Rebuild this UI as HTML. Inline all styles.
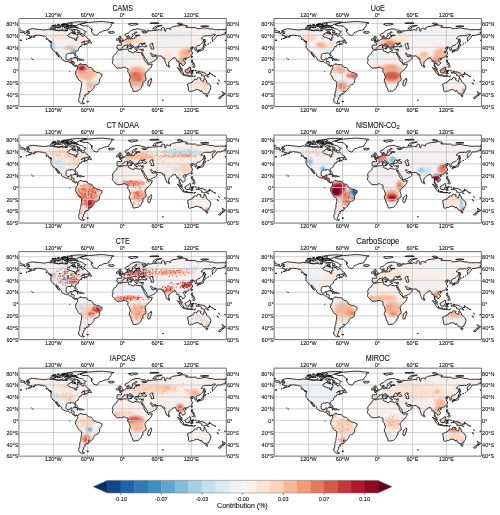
<!DOCTYPE html><html><head><meta charset="utf-8"><style>html,body{margin:0;padding:0;background:#fff;}svg{display:block;will-change:transform;}text{font-family:"Liberation Sans",sans-serif;fill:#111;stroke:#111;stroke-width:0.1px;}</style></head><body>
<svg width="500" height="515" viewBox="0 0 500 515">
<defs>
<path id="land" d="M6.9 13.6L7.9 13.3L9.3 13.0L10.4 13.2L10.0 12.8L8.9 12.4L7.6 12.0L8.8 11.7L9.7 11.1L11.5 10.7L13.5 10.2L16.1 10.5L18.1 10.8L20.6 11.0L22.4 11.2L24.1 11.5L25.8 11.4L26.9 11.2L28.7 11.0L29.8 10.7L31.0 11.3L32.1 11.1L33.8 11.2L36.1 11.7L37.8 12.0L39.5 12.3L41.2 12.1L42.3 11.8L45.2 12.3L46.9 12.1L48.0 12.5L48.3 11.7L49.1 11.3L48.2 10.3L49.4 9.9L50.3 10.7L51.1 11.3L52.5 12.1L53.4 12.6L54.2 11.5L54.8 11.1L55.9 11.2L56.3 12.1L55.9 12.8L54.5 13.0L53.4 13.3L52.9 14.1L51.4 14.6L50.9 15.0L49.4 15.9L48.7 16.8L49.0 17.6L50.0 18.6L51.4 18.7L52.8 19.4L54.2 19.8L55.8 19.8L55.8 21.0L56.6 22.0L57.5 21.9L57.7 20.6L57.4 20.0L58.7 19.3L59.0 18.4L58.5 17.5L58.4 16.8L58.2 15.7L59.3 15.6L60.9 15.7L62.1 16.3L62.8 16.6L63.0 17.6L64.0 17.9L64.8 17.6L65.7 16.8L66.4 17.6L67.1 18.4L67.7 19.1L68.3 19.7L69.3 20.3L70.0 20.7L70.8 21.4L70.3 22.0L69.3 22.2L68.2 22.7L66.4 22.7L64.7 22.9L63.6 23.4L62.4 24.5L63.1 24.2L64.4 23.4L65.9 23.5L65.6 24.0L65.8 24.7L66.4 25.1L67.6 25.4L68.3 25.3L67.7 25.6L66.4 26.0L65.2 26.6L64.9 26.2L65.9 25.6L64.4 25.9L63.6 26.2L62.6 26.6L62.3 27.2L62.7 27.7L61.9 27.9L60.6 28.3L60.5 28.5L60.4 29.1L59.9 29.5L59.6 30.1L59.2 30.5L59.6 31.4L59.6 31.6L59.1 31.9L58.3 32.3L57.5 32.8L56.6 33.4L56.3 34.1L56.3 34.8L56.7 35.6L57.0 36.7L56.9 37.5L56.4 37.5L56.0 36.9L55.6 36.2L55.5 35.5L55.0 34.8L54.2 34.9L53.4 34.5L52.5 34.4L51.7 34.6L51.9 35.2L51.1 35.2L50.3 34.9L49.2 34.9L48.6 35.2L47.5 35.8L47.3 36.3L47.3 37.1L47.0 38.2L47.0 39.3L47.3 40.3L47.8 41.0L48.6 41.4L49.0 41.7L50.0 41.4L50.7 41.4L51.1 40.7L51.2 40.0L52.5 39.7L53.2 39.8L52.9 40.6L52.8 41.4L52.4 41.9L52.2 42.9L52.8 43.1L54.0 43.0L54.8 43.2L55.3 43.6L55.1 44.8L55.0 45.6L55.3 46.4L55.8 46.9L56.4 47.2L57.1 46.9L57.9 46.9L58.5 47.4L58.9 47.7L59.3 46.9L59.6 46.3L60.0 45.9L60.9 45.8L61.7 45.2L62.1 45.3L61.8 45.9L62.1 46.0L62.6 45.6L63.0 45.6L63.6 46.1L64.9 46.2L66.0 46.2L67.3 46.1L67.7 46.5L68.0 47.4L68.7 47.8L69.3 48.4L70.1 48.9L71.3 49.0L72.5 49.2L73.2 50.0L73.6 50.4L74.1 51.4L74.3 52.3L75.0 52.9L75.5 52.8L76.5 53.1L77.4 53.8L78.1 53.9L79.2 54.2L80.1 54.2L80.9 54.6L81.8 55.4L82.8 55.5L83.0 56.9L82.8 57.8L82.1 58.7L81.4 59.6L80.7 60.3L80.6 61.6L80.5 62.9L80.1 64.1L79.5 65.2L78.9 66.0L78.0 66.1L77.3 66.3L76.3 66.7L75.4 67.3L75.0 68.0L75.0 69.1L74.4 69.8L73.8 70.8L73.0 71.5L72.2 72.5L71.8 72.9L70.9 73.1L70.3 72.9L69.7 72.8L69.3 72.5L69.3 73.0L70.0 73.4L70.3 74.0L69.8 75.0L68.9 75.4L67.7 75.5L67.1 75.4L67.2 76.2L66.9 76.6L65.5 76.7L66.0 77.5L66.3 77.7L65.9 77.9L65.5 78.6L65.2 79.1L64.3 79.5L64.1 79.9L65.1 80.7L64.1 81.5L63.8 82.1L63.2 82.6L63.6 83.4L63.0 83.6L63.6 83.8L64.2 84.4L65.5 84.8L64.7 85.1L63.8 85.4L62.7 85.1L61.7 84.6L60.8 83.9L60.1 83.4L59.8 82.4L59.6 81.3L60.0 80.4L59.6 80.0L60.1 79.6L60.5 78.8L60.8 78.1L60.6 77.4L60.8 76.4L60.7 75.5L60.9 74.5L61.3 73.5L61.7 72.5L61.9 71.6L61.8 70.5L62.0 69.5L62.2 68.8L62.4 67.7L62.5 66.4L62.7 65.1L62.6 63.9L62.5 63.3L61.9 62.8L60.8 62.2L59.8 61.5L59.3 61.1L59.1 60.4L58.7 59.6L58.1 58.6L57.6 57.4L57.1 56.5L56.4 56.0L56.5 55.4L56.3 55.0L56.9 54.5L57.2 54.0L56.6 53.8L56.7 53.0L57.0 52.2L57.1 51.9L57.7 51.6L58.0 51.0L58.5 50.1L58.6 49.0L58.5 48.4L58.1 47.8L57.9 47.5L57.4 47.2L56.8 47.5L56.8 48.1L56.2 47.9L55.8 47.6L55.1 47.5L55.0 47.1L54.3 46.6L53.8 46.6L53.8 45.9L53.2 45.2L52.8 44.7L52.2 44.6L51.5 44.5L50.7 44.2L50.2 43.8L49.5 43.2L48.7 42.9L47.7 43.2L46.9 42.9L45.9 42.6L44.8 42.0L43.8 41.6L43.0 41.0L42.5 40.4L42.7 39.7L42.5 39.0L41.8 38.4L41.2 37.7L40.4 37.2L40.5 36.7L39.7 35.9L39.0 35.4L38.5 34.6L38.3 34.0L37.3 33.6L37.4 34.6L38.0 35.1L38.5 35.8L38.9 36.5L39.2 37.1L39.7 37.8L40.0 38.1L40.4 38.7L40.1 38.9L39.6 38.2L38.8 37.7L38.8 37.1L38.1 36.6L37.5 36.0L37.7 35.5L36.9 34.9L36.3 33.9L35.9 32.9L35.2 32.3L34.1 32.0L33.3 30.8L33.0 30.1L32.3 29.4L31.9 28.5L32.0 27.6L31.8 27.0L32.2 25.2L32.0 24.3L31.7 23.8L32.7 23.6L32.8 23.4L32.4 23.1L31.6 22.8L30.4 22.4L29.9 21.7L29.2 21.2L28.6 20.3L28.2 19.7L27.4 19.0L26.7 18.2L25.7 17.5L24.9 17.9L23.2 17.1L22.1 17.0L20.7 16.9L19.4 16.5L18.2 16.8L17.2 17.2L16.2 17.4L16.5 16.5L15.7 16.9L15.0 17.4L14.8 18.0L13.6 18.6L12.6 19.1L11.4 19.5L10.0 19.9L8.7 20.2L9.6 19.8L10.6 19.4L11.7 18.8L12.5 18.1L13.1 17.6L12.1 17.8L10.4 17.8L10.3 17.0L8.9 16.7L8.4 16.2L8.0 15.9L8.5 15.3L8.8 15.0L10.3 14.9L11.0 14.4L10.6 14.3L9.5 14.2L8.6 14.3L7.8 14.1L7.6 13.9L6.9 13.6ZM61.0 6.2L63.0 6.7L63.9 7.4L66.7 7.3L69.3 7.7L70.1 8.3L70.7 9.1L71.2 9.8L72.2 10.3L73.3 10.7L72.0 11.4L73.6 11.9L72.2 12.6L72.7 13.5L73.5 14.4L74.1 15.4L75.0 16.2L76.2 16.5L77.4 16.9L78.3 16.9L78.9 16.0L79.5 15.0L79.9 14.3L80.9 13.6L82.4 13.5L83.8 12.6L85.0 12.1L87.3 11.8L89.0 11.4L90.2 10.7L89.6 10.3L90.4 9.6L90.6 8.9L91.7 8.3L91.9 7.6L92.5 6.9L92.0 6.1L92.2 5.4L93.6 4.9L94.9 4.4L91.7 3.9L88.2 3.6L84.7 3.1L80.0 3.1L76.5 3.4L73.1 3.7L69.6 3.9L67.3 4.1L65.9 4.5L64.4 4.9L62.2 5.5L61.0 6.2ZM100.2 31.1L99.6 30.8L99.0 30.4L98.1 30.5L98.2 29.7L97.8 29.5L98.1 28.7L98.2 27.6L97.9 27.0L98.6 26.6L99.9 26.6L101.2 26.7L102.3 26.8L102.6 25.9L102.6 25.1L102.0 24.6L100.7 24.1L100.6 23.8L101.6 23.6L102.4 23.6L102.3 23.0L102.7 23.2L103.4 23.0L104.2 22.7L104.4 22.3L105.2 22.0L105.6 21.7L106.0 21.1L106.5 20.9L107.4 20.7L108.2 20.7L108.5 20.5L108.3 20.0L108.0 19.6L108.1 18.9L108.3 18.6L109.2 18.4L109.5 18.3L109.3 18.8L109.4 19.2L109.2 19.5L108.9 19.7L109.0 20.0L109.3 20.2L109.8 20.5L110.6 20.2L111.4 20.4L111.6 20.5L112.7 20.3L113.8 20.0L114.2 20.2L114.9 20.2L115.7 19.8L115.6 18.8L116.1 18.5L116.5 18.4L117.0 18.7L117.5 18.5L117.2 17.9L117.0 17.5L117.8 17.2L118.8 17.2L119.7 17.2L121.0 17.0L120.0 16.6L118.8 16.7L116.8 17.0L115.8 16.5L115.9 15.9L115.7 15.3L116.5 14.7L117.6 14.1L118.2 13.9L117.6 13.5L116.3 13.6L115.8 14.3L115.3 14.7L114.2 15.2L113.5 15.6L113.4 16.2L113.5 16.6L114.2 16.9L114.3 17.3L113.1 17.8L113.0 18.4L112.7 19.2L111.8 19.3L111.6 19.7L110.8 19.7L110.7 19.2L110.3 18.5L110.1 17.9L109.8 17.5L109.4 17.0L109.3 17.5L108.2 18.1L107.4 18.1L106.6 17.6L106.2 16.9L106.2 16.0L106.7 15.5L108.0 15.0L109.2 14.6L110.0 14.0L110.6 13.2L111.5 12.4L112.4 12.0L113.0 11.6L113.8 11.2L115.0 11.0L116.0 10.8L117.0 10.5L118.4 10.4L120.0 10.4L121.4 10.8L122.6 11.4L124.4 11.5L126.1 12.0L127.4 12.7L127.3 13.1L125.5 13.3L123.8 13.2L122.9 13.0L123.7 14.2L124.9 14.6L127.0 14.2L128.7 13.3L129.2 12.0L128.6 11.8L130.2 12.4L132.6 12.2L134.6 11.8L135.5 12.0L136.9 11.9L138.4 11.7L139.0 11.1L140.7 11.4L142.4 11.7L143.2 11.0L142.2 10.3L142.9 9.5L143.8 9.1L144.9 9.2L145.6 9.7L145.5 10.7L145.5 11.6L146.0 12.8L146.9 12.5L146.8 11.0L147.4 10.1L148.0 9.6L149.1 10.2L150.0 10.1L150.8 10.7L151.7 11.0L151.1 10.1L151.4 9.5L153.1 8.6L153.7 8.2L157.6 7.5L161.0 7.2L163.3 6.5L165.0 6.7L167.8 7.2L168.6 7.6L168.3 7.8L166.7 8.6L168.3 8.9L171.2 8.9L174.1 9.1L176.4 8.9L177.6 9.5L178.1 10.4L179.3 10.1L181.6 10.1L184.0 9.5L185.1 9.4L187.5 9.6L189.8 10.1L191.0 10.5L193.3 10.4L195.6 11.2L197.4 11.2L199.7 11.2L201.5 11.0L202.6 11.1L205.0 11.1L207.3 11.6L207.3 14.0L205.8 14.1L206.5 15.0L206.8 15.6L205.0 15.7L203.5 16.0L201.5 16.9L199.1 16.8L198.0 17.0L197.5 17.5L197.4 18.4L196.8 19.1L195.9 20.2L195.1 21.1L194.5 21.7L193.7 22.3L193.4 21.4L193.1 19.9L193.8 18.4L194.8 17.9L195.8 16.6L196.5 16.1L195.6 15.9L194.2 15.9L192.3 17.3L190.4 17.2L188.6 17.3L186.9 17.3L185.7 17.3L184.6 17.8L183.1 18.9L182.2 20.2L183.4 20.4L184.6 20.9L184.7 21.5L184.3 22.6L184.2 23.6L183.1 24.6L181.9 25.8L181.1 26.6L179.9 27.1L179.2 27.0L178.4 27.3L178.0 28.2L177.0 28.9L176.7 29.1L177.3 29.7L177.8 30.5L177.8 31.4L177.3 31.7L176.1 32.1L176.0 31.4L176.2 30.5L175.8 30.1L175.2 30.1L175.0 29.7L175.4 29.1L174.8 28.8L173.6 28.5L173.0 29.5L173.4 28.8L173.2 28.2L172.3 28.7L171.7 29.2L171.1 29.5L171.6 30.3L172.0 30.5L172.7 30.1L173.8 30.3L173.2 30.7L172.5 31.1L171.9 31.7L172.5 32.1L172.8 33.1L173.4 33.7L173.4 34.2L172.9 34.5L173.5 34.8L173.2 35.7L172.6 36.3L172.1 37.1L171.7 37.6L171.2 37.9L170.3 38.8L169.4 39.1L168.6 39.3L167.8 39.5L166.9 39.9L166.8 40.4L166.5 39.7L165.8 39.7L165.2 39.8L164.7 40.4L164.2 41.2L164.7 42.0L165.2 42.7L166.0 43.4L166.3 44.5L166.2 45.5L165.5 46.1L165.0 46.3L164.7 46.8L163.8 47.4L163.7 46.8L163.5 46.3L162.7 45.9L162.5 45.2L161.5 44.9L161.5 44.5L161.0 44.5L160.9 45.2L160.5 46.3L160.9 46.9L161.2 48.2L161.7 48.4L162.2 48.8L162.9 49.8L162.9 50.7L163.4 51.6L163.0 51.7L161.7 50.7L161.2 49.6L161.2 48.7L160.8 48.4L160.0 47.8L160.2 46.6L160.3 45.6L160.0 44.4L159.7 42.7L159.4 42.4L158.7 42.6L158.3 43.1L157.8 43.0L157.9 42.1L157.7 41.2L157.2 40.5L156.6 40.1L156.5 39.5L156.2 39.1L155.6 39.4L154.8 39.6L154.3 39.6L153.7 39.9L153.5 40.5L152.6 41.0L152.0 41.6L151.0 42.6L150.4 43.1L149.8 43.4L149.9 44.5L149.6 45.8L149.6 46.4L149.2 47.0L148.6 47.5L148.3 47.7L147.8 47.2L147.3 45.8L146.8 44.9L146.4 43.7L146.0 42.7L145.6 41.1L145.6 40.0L145.5 39.5L144.3 40.1L143.5 39.2L144.2 38.9L143.1 38.5L142.6 38.2L142.2 37.4L140.9 37.5L139.3 37.6L137.8 37.4L136.8 37.2L136.5 36.4L135.8 36.5L134.9 36.7L133.7 36.0L133.0 35.3L132.6 34.6L131.9 34.5L131.4 34.8L131.7 35.7L132.3 36.6L132.7 37.2L133.0 37.8L133.4 37.2L133.5 38.1L134.9 38.2L136.1 37.1L136.3 36.8L136.3 37.8L137.1 38.4L138.3 39.1L137.6 40.3L137.1 41.1L136.6 41.4L136.2 41.9L135.5 42.4L134.4 42.6L133.8 43.2L132.3 43.8L131.4 44.2L129.9 44.7L129.0 45.0L128.6 44.9L128.3 43.9L128.2 42.7L127.4 41.2L126.7 40.3L126.2 39.7L125.6 38.4L125.0 37.5L124.1 36.1L123.7 35.2L123.8 35.0L123.5 35.6L123.4 36.0L122.7 35.5L122.4 34.8L122.8 35.9L123.4 36.9L124.1 38.3L124.9 39.4L125.1 40.0L125.1 40.8L125.8 41.8L126.4 43.2L127.4 43.9L128.2 44.8L128.6 45.4L128.6 45.6L129.2 46.3L130.1 46.1L131.7 45.8L133.3 45.5L133.1 46.2L133.0 46.6L132.3 48.4L131.4 49.8L130.2 51.1L129.0 51.9L127.9 53.0L127.2 53.9L126.7 54.5L126.2 55.2L126.0 56.2L126.3 57.2L126.5 58.4L126.9 59.3L127.1 61.0L126.8 62.0L125.2 63.0L124.4 63.7L123.6 64.2L124.0 65.7L124.1 66.7L122.6 67.5L122.5 68.0L122.4 68.7L122.0 69.6L121.3 70.4L120.3 71.5L119.2 72.3L118.4 72.5L116.8 72.6L116.2 72.7L115.0 73.1L114.1 72.8L113.9 72.0L113.8 71.1L113.0 69.4L112.2 68.3L111.8 66.0L111.1 64.5L110.2 62.7L110.2 61.8L110.6 60.6L111.3 59.3L111.0 57.8L110.4 56.1L110.2 55.1L109.4 54.2L108.7 53.2L108.9 51.9L109.0 50.6L108.9 50.1L108.3 49.8L107.4 49.8L106.6 49.4L105.9 48.7L104.9 48.7L103.9 49.0L102.7 49.5L101.8 49.6L101.0 49.4L98.9 49.8L97.9 49.5L96.8 48.5L95.8 47.8L95.6 47.1L94.8 46.4L94.4 45.8L93.6 45.1L93.4 43.9L93.1 43.7L93.7 42.9L93.9 41.5L94.0 40.9L93.4 40.0L93.8 39.0L94.0 38.4L94.7 37.4L94.9 36.9L95.6 36.1L96.3 35.8L97.3 35.2L97.6 34.8L97.7 34.5L97.6 33.9L98.3 32.8L99.2 32.3L99.7 31.4L99.9 31.3L100.2 31.2L100.7 31.6L102.0 31.7L102.7 31.4L103.6 31.1L105.1 30.7L106.2 30.7L108.3 30.6L109.3 30.4L109.8 30.5L109.4 30.9L109.8 31.6L109.3 32.1L109.2 32.4L109.9 32.8L110.7 33.0L112.2 33.3L112.5 33.9L114.1 34.5L114.8 34.3L115.1 33.8L115.0 33.4L115.9 33.0L116.8 33.2L117.1 33.4L117.9 33.7L119.1 33.9L120.3 34.2L121.1 33.8L121.8 33.8L122.2 34.0L123.3 33.9L123.5 33.7L123.7 33.0L124.1 32.4L124.3 31.6L124.3 31.2L124.5 30.8L123.7 30.7L122.9 31.0L122.3 31.1L121.2 30.7L120.6 31.0L119.7 30.7L119.3 30.3L118.8 29.8L119.0 29.1L118.6 28.8L119.3 28.5L120.3 28.5L120.6 28.1L121.7 28.1L122.8 27.6L123.8 27.5L124.7 28.0L125.8 28.2L127.0 28.2L127.6 27.9L127.6 27.2L126.7 26.8L125.7 26.0L125.1 25.6L125.8 24.7L126.3 24.5L125.2 24.6L123.8 25.0L123.5 25.4L124.1 25.6L124.7 25.6L123.9 25.9L123.0 26.2L122.4 25.6L123.0 25.3L121.8 24.9L121.3 24.9L120.7 25.6L120.1 26.1L120.0 26.6L119.7 27.1L119.6 27.6L120.3 28.1L119.7 28.2L119.0 28.4L118.6 28.4L118.5 28.3L117.3 28.3L117.2 28.7L116.7 28.4L116.5 28.8L116.8 29.3L117.2 29.7L117.3 30.1L116.9 30.3L116.8 30.9L116.4 30.8L116.0 30.7L115.6 30.1L116.0 29.8L115.6 29.6L115.1 29.0L114.6 28.5L114.6 27.7L114.1 27.4L113.2 26.9L112.6 26.6L112.1 26.0L111.7 25.7L111.3 25.8L111.4 25.4L110.5 25.6L110.6 26.2L111.3 26.7L111.9 27.5L112.7 27.6L112.8 28.0L113.8 28.4L114.1 28.7L113.4 28.5L113.0 29.0L113.3 29.4L113.0 29.7L112.7 30.0L112.5 29.8L112.5 28.9L112.1 28.6L111.5 28.3L110.7 27.9L109.9 27.4L109.4 27.1L109.3 26.5L108.5 26.2L107.7 26.5L106.8 26.9L105.9 26.7L105.1 26.9L105.2 27.6L104.5 28.0L103.8 28.3L103.2 28.9L103.4 29.5L103.0 29.8L102.8 30.2L102.1 30.7L100.7 30.7L100.2 31.1ZM168.6 65.5L168.9 67.8L169.5 70.2L169.5 72.3L170.3 73.2L171.2 73.2L172.3 72.6L174.3 72.5L175.8 71.6L177.6 71.2L178.8 71.1L180.5 71.9L181.3 73.1L181.6 72.3L182.5 72.0L182.8 73.2L183.7 73.6L184.3 74.9L186.0 75.4L186.9 75.1L187.6 75.6L188.6 74.8L189.8 74.7L189.9 73.5L190.6 72.3L191.3 71.4L191.6 70.2L191.8 69.0L191.6 67.3L191.0 67.0L190.3 65.8L189.4 64.9L188.6 64.3L187.6 63.6L187.2 61.9L187.1 61.3L186.2 60.7L186.0 59.9L185.4 58.8L185.0 60.0L184.9 61.3L184.4 62.8L183.7 62.8L182.5 61.9L181.3 61.3L182.1 59.7L181.6 59.6L179.9 59.3L179.3 59.1L178.2 59.7L177.8 61.2L177.0 61.2L176.4 60.6L175.2 61.0L174.9 62.2L173.6 62.8L173.2 63.7L171.7 64.3L170.3 64.7L169.2 65.4L168.6 65.5ZM51.3 8.7L53.7 8.8L56.5 8.8L58.8 9.5L60.5 10.1L62.2 10.6L63.6 10.9L64.4 11.6L64.7 12.3L66.4 12.9L67.3 13.2L66.5 13.6L65.6 14.2L66.0 15.2L65.4 15.6L64.7 15.8L63.6 15.3L61.7 14.7L60.5 14.3L58.4 14.4L58.6 13.7L60.8 13.7L61.0 12.8L60.2 12.2L59.1 11.9L57.9 11.0L56.5 11.0L54.2 10.8L52.2 10.7L51.7 9.9L51.3 8.7ZM53.6 13.3L54.5 14.0L56.0 14.1L56.9 14.7L55.8 14.8L54.0 15.0L53.0 14.8L53.2 14.2L53.6 13.3ZM35.1 10.1L35.9 9.3L37.8 9.1L39.8 9.4L42.2 9.1L43.2 10.1L44.3 11.0L43.2 11.7L41.2 11.5L39.6 11.8L37.8 11.6L36.1 11.1L35.2 10.7L35.1 10.1ZM31.1 9.8L31.8 8.8L34.1 8.5L35.8 8.9L36.7 9.4L34.7 10.1L33.0 10.3L31.1 9.8ZM45.1 9.1L46.0 8.7L47.7 8.9L50.3 8.6L51.1 9.1L49.4 9.8L47.7 9.9L46.8 10.4L45.5 9.5L45.1 9.1ZM45.7 11.5L47.7 11.3L48.3 12.0L46.6 12.2L45.7 11.5ZM47.7 7.6L49.7 6.9L53.1 7.0L56.2 7.2L57.1 8.3L53.7 8.3L50.3 8.2L47.7 7.6ZM51.7 7.2L54.8 7.3L57.6 7.4L58.2 6.7L59.9 6.0L61.0 5.5L63.9 5.0L66.1 4.3L67.6 3.6L64.4 3.4L61.6 3.3L58.2 3.4L53.7 3.8L50.8 4.3L52.5 4.9L53.7 5.4L52.5 6.1L51.1 6.6L51.7 7.2ZM47.4 6.0L49.7 5.7L50.8 4.9L49.1 4.3L47.7 4.8L48.6 5.4L47.4 6.0ZM35.9 7.3L38.4 7.0L40.6 7.0L42.4 7.5L41.9 8.1L40.1 8.2L38.1 8.3L36.1 8.4L35.9 7.3ZM32.7 7.5L35.0 7.0L36.9 6.5L35.5 6.9L33.8 7.0ZM43.5 7.2L46.3 7.2L46.9 7.9L49.4 7.9L48.0 8.3L45.2 8.1L43.5 7.5L43.5 7.2ZM42.3 6.1L45.2 5.8L45.7 6.2L44.0 6.5L42.3 6.1ZM68.7 24.3L69.3 23.7L69.6 23.0L70.1 22.2L71.0 21.9L70.9 22.7L72.1 23.3L72.5 24.0L72.6 24.3L72.4 24.8L71.8 24.4L71.1 24.7L70.6 24.3L68.7 24.3ZM29.6 22.4L30.7 22.6L31.4 22.9L32.5 23.8L31.8 23.7L30.7 23.2L29.6 22.4ZM26.9 20.4L27.7 20.5L28.0 21.5L27.5 21.3L26.9 20.4ZM14.4 18.5L15.3 18.6L15.9 18.4L15.3 18.1L14.4 18.5ZM89.3 13.7L90.4 13.1L92.4 13.3L94.0 13.1L94.9 13.3L95.4 13.9L94.6 14.4L92.8 14.9L91.1 14.7L90.1 14.6L90.5 14.0L89.3 13.7ZM54.3 39.5L55.3 38.9L55.9 38.7L56.9 38.8L57.9 39.2L58.7 39.7L59.5 40.0L60.4 40.5L59.5 40.7L58.4 40.7L58.7 40.3L57.9 39.7L57.0 39.5L56.0 39.3L55.5 39.1L54.3 39.5ZM60.2 41.6L60.9 40.7L61.6 40.7L62.7 40.7L63.6 41.4L63.0 41.6L62.2 41.7L61.8 42.0L61.1 41.7L60.2 41.6ZM58.0 41.6L59.2 41.7L59.0 41.9L58.3 41.9L58.0 41.6ZM64.3 41.5L65.2 41.6L65.1 41.8L64.3 41.8L64.3 41.5ZM58.0 37.6L58.4 37.7L58.3 38.2L58.0 38.1ZM13.8 40.5L14.4 40.9L14.0 41.3L13.8 41.0ZM12.4 39.7L12.8 39.8L12.6 39.8ZM67.7 82.8L68.7 82.8L69.7 82.9L69.2 83.4L68.1 83.3L67.7 82.8ZM50.5 52.6L50.9 52.7L50.7 53.0ZM0.0 11.6L1.7 12.0L3.4 12.6L4.9 12.8L5.9 13.4L5.2 13.7L3.9 14.3L2.9 14.1L1.1 13.7L0.0 14.0ZM100.0 22.8L101.3 22.7L102.7 22.4L104.1 22.1L104.3 21.3L103.5 20.8L103.2 20.2L102.4 19.6L102.1 19.3L101.6 19.1L102.3 18.4L101.3 18.3L101.4 17.8L100.4 17.8L100.0 18.4L100.0 19.1L100.4 19.6L100.5 20.0L101.4 20.0L101.3 20.3L101.6 20.8L100.7 20.9L100.9 21.5L100.3 21.8L101.0 21.9L101.6 22.0L100.7 22.1L100.0 22.8ZM99.7 21.5L99.8 20.9L99.7 20.4L100.1 20.1L99.7 19.8L99.1 19.7L98.4 20.0L97.5 20.4L97.5 20.9L97.8 21.3L97.3 21.7L97.8 21.9L98.6 21.8L99.7 21.5ZM109.7 6.0L111.5 6.7L113.2 7.1L114.4 6.4L116.2 6.6L119.1 5.5L117.3 4.9L114.4 4.9L112.7 5.1L109.7 5.3L109.7 6.0ZM133.7 10.3L136.1 10.7L137.2 10.6L136.6 9.5L138.4 8.3L140.7 7.6L143.2 7.0L141.8 6.9L137.8 7.5L135.5 8.3L134.6 9.5L133.7 10.3ZM130.8 4.8L135.5 5.1L140.1 4.8L138.4 4.2L132.6 4.4L130.8 4.8ZM158.7 5.4L161.0 6.1L163.8 5.9L162.7 5.1L161.0 4.5L158.2 4.8L158.7 5.4ZM181.6 7.8L184.0 8.2L187.5 8.1L189.8 7.8L186.9 7.3L183.4 7.5L181.6 7.8ZM206.5 10.1L207.3 10.1L207.3 10.5L206.5 10.4ZM0.0 10.1L1.4 10.3L0.0 10.5ZM185.1 25.2L186.0 24.9L185.7 23.4L186.6 23.4L186.0 21.7L185.7 20.3L185.4 20.5L185.1 22.3L185.0 24.0L185.1 25.2ZM184.0 27.9L184.6 27.7L185.8 27.6L187.2 26.8L186.9 26.4L185.1 25.6L184.8 25.8L184.7 26.9L184.0 27.3L184.0 27.9ZM184.6 27.9L185.1 29.1L184.6 30.0L184.5 30.5L184.3 31.4L183.9 31.7L183.4 31.9L182.2 32.0L181.3 32.6L181.1 32.1L179.9 32.3L178.7 32.3L178.7 32.0L179.9 31.4L181.6 31.3L182.2 30.5L183.7 29.8L184.0 28.8L184.3 28.1L184.6 27.9ZM178.0 32.7L178.7 32.3L179.3 32.9L178.8 33.9L178.2 34.0L178.0 33.2L178.0 32.7ZM179.6 32.7L180.9 32.4L180.6 32.1L179.9 32.2L179.6 32.7ZM172.4 38.8L172.9 37.5L173.5 37.7L173.2 38.5L172.8 39.4L172.4 38.8ZM165.9 41.1L166.7 40.6L167.2 40.8L166.8 41.7L166.1 41.6L165.9 41.1ZM172.3 43.0L172.6 41.5L173.6 41.5L173.6 42.7L173.2 43.6L174.6 44.3L174.3 44.8L173.2 44.3L172.7 44.0L172.3 43.0ZM173.5 48.3L174.3 47.7L175.5 46.8L176.1 48.0L175.8 48.7L175.4 49.1L174.6 48.7L173.5 48.3ZM173.5 45.9L174.1 46.5L174.6 46.5L175.5 45.9L175.2 45.1L174.3 45.1L173.5 45.9ZM166.1 51.4L166.1 52.2L166.4 53.0L166.8 54.2L167.5 54.5L168.9 54.5L170.0 54.8L170.3 53.6L170.9 52.5L171.2 51.9L171.7 51.9L171.5 49.5L171.9 49.3L170.9 48.4L170.3 48.6L169.8 49.5L168.6 50.1L167.5 50.9L166.7 51.4L166.1 51.4ZM158.3 49.1L159.6 49.4L161.2 51.1L163.1 53.0L164.4 54.3L164.3 55.9L163.5 55.9L162.3 54.8L161.6 53.9L161.2 53.0L160.3 51.4L159.0 50.2L158.3 49.1ZM163.9 56.5L164.4 55.9L165.7 56.2L166.9 56.5L168.2 56.5L169.2 57.0L169.2 57.6L167.2 57.3L165.5 57.1L164.7 56.8L163.9 56.5ZM169.5 57.3L170.0 57.4L171.7 57.4L172.9 57.4L174.1 57.4L174.1 57.6L171.7 57.7L170.0 57.7L169.5 57.7ZM174.6 58.5L175.2 57.8L176.6 57.4L175.5 58.1L174.6 58.5ZM172.0 55.7L172.6 55.7L172.8 54.2L173.5 55.3L174.2 55.1L173.1 53.6L174.1 53.0L172.6 53.0L172.6 52.2L175.2 51.6L174.9 52.2L172.9 52.3L172.2 52.5L171.7 54.2L172.0 55.7ZM176.7 51.6L177.3 51.9L177.0 52.7L176.7 52.2ZM177.0 54.2L178.6 54.3L178.1 54.7L177.1 54.5ZM178.7 53.0L179.6 52.7L180.8 53.0L181.6 53.5L182.8 53.4L184.6 54.0L186.3 54.7L187.4 55.7L188.3 56.1L188.5 57.2L189.8 58.5L188.6 58.4L187.5 57.3L186.3 57.0L185.7 57.8L184.6 57.8L183.4 57.2L182.8 57.4L182.5 56.6L183.1 56.3L181.6 55.1L180.5 54.7L179.6 54.8L179.3 54.1L180.2 53.8L178.7 53.0ZM188.9 55.7L190.1 55.7L191.0 54.9L190.7 55.7L189.8 56.1L188.9 55.7ZM149.6 47.7L149.8 46.6L150.4 47.4L150.7 48.3L150.4 48.8L149.8 48.9L149.6 48.3L149.6 47.7ZM132.1 59.6L132.8 61.6L132.3 62.8L131.4 65.5L130.8 67.3L129.7 67.5L129.0 67.0L128.6 65.5L129.2 64.3L129.0 62.5L130.2 61.8L131.1 61.3L131.7 60.4L132.1 59.6ZM110.6 30.0L112.4 29.8L112.1 30.7L110.6 30.2L110.6 30.0ZM108.2 29.4L108.9 29.3L109.0 28.2L108.1 28.2L108.2 29.4ZM108.3 27.9L108.8 27.9L108.9 27.0L108.3 27.4L108.3 27.9ZM117.0 31.6L118.7 31.6L117.6 31.8L117.0 31.6ZM122.2 31.9L123.5 31.3L122.9 31.7L122.2 31.7L122.2 31.9ZM143.4 81.6L144.3 81.5L144.2 81.9L143.5 81.9ZM186.7 76.5L188.8 76.7L188.6 77.9L187.8 78.3L187.1 77.5L186.7 76.5ZM203.0 72.8L204.1 73.9L204.7 74.1L205.0 74.7L206.4 74.8L206.1 75.6L205.5 75.9L204.7 77.0L204.2 76.9L204.5 76.1L203.7 75.7L204.2 74.9L203.8 74.1L203.0 72.8ZM203.0 76.4L204.0 76.8L203.5 77.7L203.1 78.3L202.2 78.7L201.8 79.6L200.9 80.1L199.4 79.7L199.6 79.2L200.5 78.5L201.9 77.8L202.6 77.0L203.0 76.4ZM190.1 54.0L191.0 54.3L191.6 55.2L191.3 55.3L190.7 54.6L190.1 54.2ZM192.5 55.4L193.2 56.2L193.0 56.5L192.5 55.8ZM193.6 56.6L194.5 57.0L194.4 57.2L193.6 56.9ZM195.3 57.4L196.2 58.0L195.9 58.1L195.4 57.8ZM196.0 57.5L196.5 58.1L196.2 58.2L196.0 57.8ZM199.4 61.3L199.8 61.6L199.7 62.0L199.5 61.7ZM200.2 62.1L200.6 62.4L200.4 62.7ZM198.0 64.4L199.7 65.7L199.4 65.6L198.1 64.8ZM205.7 62.8L206.4 62.7L206.5 63.2L205.7 63.2ZM56.8 8.8L58.8 8.7L59.2 9.2L57.4 9.4L56.8 8.8ZM54.7 15.4L56.5 15.3L55.8 15.0L54.7 15.4ZM56.7 15.6L57.4 15.8L57.2 16.0ZM43.5 5.5L46.0 5.0L46.9 5.3L45.2 5.7L43.5 5.5ZM45.7 5.9L47.4 5.8L48.0 6.2L46.6 6.3ZM41.8 6.6L43.5 6.3L44.0 6.6L42.6 6.9ZM47.4 6.9L49.1 6.7L48.9 7.1L47.7 7.1ZM38.4 6.0L40.1 5.9L40.6 6.2L39.2 6.3ZM48.0 7.5L49.7 7.3L49.7 7.7L48.6 7.8ZM42.9 8.1L44.0 7.8L44.3 8.1ZM58.2 12.3L59.1 12.3L58.8 12.7ZM50.3 15.7L50.8 15.6L50.5 15.9ZM57.6 19.0L57.9 19.3L57.4 19.4ZM61.9 15.2L62.5 15.3L62.2 15.5ZM55.9 21.0L56.5 21.0L56.2 21.3ZM38.1 8.9L39.5 9.1L38.9 9.4ZM33.5 7.3L35.5 7.2L35.0 7.6ZM6.6 14.7L5.3 14.9L6.0 15.1L6.9 15.0ZM7.7 16.7L8.3 16.8L7.9 17.0ZM2.3 21.7L2.9 21.8L1.4 21.8L0.9 21.7ZM6.9 20.8L7.7 20.5L8.0 20.7L7.2 21.0ZM205.8 21.7L207.0 21.9L206.4 22.0ZM193.9 22.4L193.6 22.6L193.2 22.7ZM188.6 25.6L189.8 25.2L189.5 25.5ZM191.3 24.3L192.1 23.7L191.8 24.0Z"/>
<path id="casp" d="M130.8 26.1L132.3 24.9L134.0 24.9L134.3 25.6L133.3 26.1L134.2 27.6L134.3 28.8L134.9 30.3L133.1 30.7L132.0 30.2L132.2 28.7L131.7 27.7L130.8 27.0L130.8 26.1Z"/>
<path id="dland" d="M6.9 13.6L7.9 13.3L9.3 13.0L10.4 13.2L10.0 12.8L8.9 12.4L7.6 12.0L8.8 11.7L9.7 11.1L11.5 10.7L13.5 10.2L16.1 10.5L18.1 10.8L20.6 11.0L22.4 11.2L24.1 11.5L25.8 11.4L26.9 11.2L28.7 11.0L29.8 10.7L31.0 11.3L32.1 11.1L33.8 11.2L36.1 11.7L37.8 12.0L39.5 12.3L41.2 12.1L42.3 11.8L45.2 12.3L46.9 12.1L48.0 12.5L48.3 11.7L49.1 11.3L48.2 10.3L49.4 9.9L50.3 10.7L51.1 11.3L52.5 12.1L53.4 12.6L54.2 11.5L54.8 11.1L55.9 11.2L56.3 12.1L55.9 12.8L54.5 13.0L53.4 13.3L52.9 14.1L51.4 14.6L50.9 15.0L49.4 15.9L48.7 16.8L49.0 17.6L50.0 18.6L51.4 18.7L52.8 19.4L54.2 19.8L55.8 19.8L55.8 21.0L56.6 22.0L57.5 21.9L57.7 20.6L57.4 20.0L58.7 19.3L59.0 18.4L58.5 17.5L58.4 16.8L58.2 15.7L59.3 15.6L60.9 15.7L62.1 16.3L62.8 16.6L63.0 17.6L64.0 17.9L64.8 17.6L65.7 16.8L66.4 17.6L67.1 18.4L67.7 19.1L68.3 19.7L69.3 20.3L70.0 20.7L70.8 21.4L70.3 22.0L69.3 22.2L68.2 22.7L66.4 22.7L64.7 22.9L63.6 23.4L62.4 24.5L63.1 24.2L64.4 23.4L65.9 23.5L65.6 24.0L65.8 24.7L66.4 25.1L67.6 25.4L68.3 25.3L67.7 25.6L66.4 26.0L65.2 26.6L64.9 26.2L65.9 25.6L64.4 25.9L63.6 26.2L62.6 26.6L62.3 27.2L62.7 27.7L61.9 27.9L60.6 28.3L60.5 28.5L60.4 29.1L59.9 29.5L59.6 30.1L59.2 30.5L59.6 31.4L59.6 31.6L59.1 31.9L58.3 32.3L57.5 32.8L56.6 33.4L56.3 34.1L56.3 34.8L56.7 35.6L57.0 36.7L56.9 37.5L56.4 37.5L56.0 36.9L55.6 36.2L55.5 35.5L55.0 34.8L54.2 34.9L53.4 34.5L52.5 34.4L51.7 34.6L51.9 35.2L51.1 35.2L50.3 34.9L49.2 34.9L48.6 35.2L47.5 35.8L47.3 36.3L47.3 37.1L47.0 38.2L47.0 39.3L47.3 40.3L47.8 41.0L48.6 41.4L49.0 41.7L50.0 41.4L50.7 41.4L51.1 40.7L51.2 40.0L52.5 39.7L53.2 39.8L52.9 40.6L52.8 41.4L52.4 41.9L52.2 42.9L52.8 43.1L54.0 43.0L54.8 43.2L55.3 43.6L55.1 44.8L55.0 45.6L55.3 46.4L55.8 46.9L56.4 47.2L57.1 46.9L57.9 46.9L58.5 47.4L58.9 47.7L59.3 46.9L59.6 46.3L60.0 45.9L60.9 45.8L61.7 45.2L62.1 45.3L61.8 45.9L62.1 46.0L62.6 45.6L63.0 45.6L63.6 46.1L64.9 46.2L66.0 46.2L67.3 46.1L67.7 46.5L68.0 47.4L68.7 47.8L69.3 48.4L70.1 48.9L71.3 49.0L72.5 49.2L73.2 50.0L73.6 50.4L74.1 51.4L74.3 52.3L75.0 52.9L75.5 52.8L76.5 53.1L77.4 53.8L78.1 53.9L79.2 54.2L80.1 54.2L80.9 54.6L81.8 55.4L82.8 55.5L83.0 56.9L82.8 57.8L82.1 58.7L81.4 59.6L80.7 60.3L80.6 61.6L80.5 62.9L80.1 64.1L79.5 65.2L78.9 66.0L78.0 66.1L77.3 66.3L76.3 66.7L75.4 67.3L75.0 68.0L75.0 69.1L74.4 69.8L73.8 70.8L73.0 71.5L72.2 72.5L71.8 72.9L70.9 73.1L70.3 72.9L69.7 72.8L69.3 72.5L69.3 73.0L70.0 73.4L70.3 74.0L69.8 75.0L68.9 75.4L67.7 75.5L67.1 75.4L67.2 76.2L66.9 76.6L65.5 76.7L66.0 77.5L66.3 77.7L65.9 77.9L65.5 78.6L65.2 79.1L64.3 79.5L64.1 79.9L65.1 80.7L64.1 81.5L63.8 82.1L63.2 82.6L63.6 83.4L63.0 83.6L63.6 83.8L64.2 84.4L65.5 84.8L64.7 85.1L63.8 85.4L62.7 85.1L61.7 84.6L60.8 83.9L60.1 83.4L59.8 82.4L59.6 81.3L60.0 80.4L59.6 80.0L60.1 79.6L60.5 78.8L60.8 78.1L60.6 77.4L60.8 76.4L60.7 75.5L60.9 74.5L61.3 73.5L61.7 72.5L61.9 71.6L61.8 70.5L62.0 69.5L62.2 68.8L62.4 67.7L62.5 66.4L62.7 65.1L62.6 63.9L62.5 63.3L61.9 62.8L60.8 62.2L59.8 61.5L59.3 61.1L59.1 60.4L58.7 59.6L58.1 58.6L57.6 57.4L57.1 56.5L56.4 56.0L56.5 55.4L56.3 55.0L56.9 54.5L57.2 54.0L56.6 53.8L56.7 53.0L57.0 52.2L57.1 51.9L57.7 51.6L58.0 51.0L58.5 50.1L58.6 49.0L58.5 48.4L58.1 47.8L57.9 47.5L57.4 47.2L56.8 47.5L56.8 48.1L56.2 47.9L55.8 47.6L55.1 47.5L55.0 47.1L54.3 46.6L53.8 46.6L53.8 45.9L53.2 45.2L52.8 44.7L52.2 44.6L51.5 44.5L50.7 44.2L50.2 43.8L49.5 43.2L48.7 42.9L47.7 43.2L46.9 42.9L45.9 42.6L44.8 42.0L43.8 41.6L43.0 41.0L42.5 40.4L42.7 39.7L42.5 39.0L41.8 38.4L41.2 37.7L40.4 37.2L40.5 36.7L39.7 35.9L39.0 35.4L38.5 34.6L38.3 34.0L37.3 33.6L37.4 34.6L38.0 35.1L38.5 35.8L38.9 36.5L39.2 37.1L39.7 37.8L40.0 38.1L40.4 38.7L40.1 38.9L39.6 38.2L38.8 37.7L38.8 37.1L38.1 36.6L37.5 36.0L37.7 35.5L36.9 34.9L36.3 33.9L35.9 32.9L35.2 32.3L34.1 32.0L33.3 30.8L33.0 30.1L32.3 29.4L31.9 28.5L32.0 27.6L31.8 27.0L32.2 25.2L32.0 24.3L31.7 23.8L32.7 23.6L32.8 23.4L32.4 23.1L31.6 22.8L30.4 22.4L29.9 21.7L29.2 21.2L28.6 20.3L28.2 19.7L27.4 19.0L26.7 18.2L25.7 17.5L24.9 17.9L23.2 17.1L22.1 17.0L20.7 16.9L19.4 16.5L18.2 16.8L17.2 17.2L16.2 17.4L16.5 16.5L15.7 16.9L15.0 17.4L14.8 18.0L13.6 18.6L12.6 19.1L11.4 19.5L10.0 19.9L8.7 20.2L9.6 19.8L10.6 19.4L11.7 18.8L12.5 18.1L13.1 17.6L12.1 17.8L10.4 17.8L10.3 17.0L8.9 16.7L8.4 16.2L8.0 15.9L8.5 15.3L8.8 15.0L10.3 14.9L11.0 14.4L10.6 14.3L9.5 14.2L8.6 14.3L7.8 14.1L7.6 13.9L6.9 13.6ZM100.2 31.1L99.6 30.8L99.0 30.4L98.1 30.5L98.2 29.7L97.8 29.5L98.1 28.7L98.2 27.6L97.9 27.0L98.6 26.6L99.9 26.6L101.2 26.7L102.3 26.8L102.6 25.9L102.6 25.1L102.0 24.6L100.7 24.1L100.6 23.8L101.6 23.6L102.4 23.6L102.3 23.0L102.7 23.2L103.4 23.0L104.2 22.7L104.4 22.3L105.2 22.0L105.6 21.7L106.0 21.1L106.5 20.9L107.4 20.7L108.2 20.7L108.5 20.5L108.3 20.0L108.0 19.6L108.1 18.9L108.3 18.6L109.2 18.4L109.5 18.3L109.3 18.8L109.4 19.2L109.2 19.5L108.9 19.7L109.0 20.0L109.3 20.2L109.8 20.5L110.6 20.2L111.4 20.4L111.6 20.5L112.7 20.3L113.8 20.0L114.2 20.2L114.9 20.2L115.7 19.8L115.6 18.8L116.1 18.5L116.5 18.4L117.0 18.7L117.5 18.5L117.2 17.9L117.0 17.5L117.8 17.2L118.8 17.2L119.7 17.2L121.0 17.0L120.0 16.6L118.8 16.7L116.8 17.0L115.8 16.5L115.9 15.9L115.7 15.3L116.5 14.7L117.6 14.1L118.2 13.9L117.6 13.5L116.3 13.6L115.8 14.3L115.3 14.7L114.2 15.2L113.5 15.6L113.4 16.2L113.5 16.6L114.2 16.9L114.3 17.3L113.1 17.8L113.0 18.4L112.7 19.2L111.8 19.3L111.6 19.7L110.8 19.7L110.7 19.2L110.3 18.5L110.1 17.9L109.8 17.5L109.4 17.0L109.3 17.5L108.2 18.1L107.4 18.1L106.6 17.6L106.2 16.9L106.2 16.0L106.7 15.5L108.0 15.0L109.2 14.6L110.0 14.0L110.6 13.2L111.5 12.4L112.4 12.0L113.0 11.6L113.8 11.2L115.0 11.0L116.0 10.8L117.0 10.5L118.4 10.4L120.0 10.4L121.4 10.8L122.6 11.4L124.4 11.5L126.1 12.0L127.4 12.7L127.3 13.1L125.5 13.3L123.8 13.2L122.9 13.0L123.7 14.2L124.9 14.6L127.0 14.2L128.7 13.3L129.2 12.0L128.6 11.8L130.2 12.4L132.6 12.2L134.6 11.8L135.5 12.0L136.9 11.9L138.4 11.7L139.0 11.1L140.7 11.4L142.4 11.7L143.2 11.0L142.2 10.3L142.9 9.5L143.8 9.1L144.9 9.2L145.6 9.7L145.5 10.7L145.5 11.6L146.0 12.8L146.9 12.5L146.8 11.0L147.4 10.1L148.0 9.6L149.1 10.2L150.0 10.1L150.8 10.7L151.7 11.0L151.1 10.1L151.4 9.5L153.1 8.6L153.7 8.2L157.6 7.5L161.0 7.2L163.3 6.5L165.0 6.7L167.8 7.2L168.6 7.6L168.3 7.8L166.7 8.6L168.3 8.9L171.2 8.9L174.1 9.1L176.4 8.9L177.6 9.5L178.1 10.4L179.3 10.1L181.6 10.1L184.0 9.5L185.1 9.4L187.5 9.6L189.8 10.1L191.0 10.5L193.3 10.4L195.6 11.2L197.4 11.2L199.7 11.2L201.5 11.0L202.6 11.1L205.0 11.1L207.3 11.6L207.3 14.0L205.8 14.1L206.5 15.0L206.8 15.6L205.0 15.7L203.5 16.0L201.5 16.9L199.1 16.8L198.0 17.0L197.5 17.5L197.4 18.4L196.8 19.1L195.9 20.2L195.1 21.1L194.5 21.7L193.7 22.3L193.4 21.4L193.1 19.9L193.8 18.4L194.8 17.9L195.8 16.6L196.5 16.1L195.6 15.9L194.2 15.9L192.3 17.3L190.4 17.2L188.6 17.3L186.9 17.3L185.7 17.3L184.6 17.8L183.1 18.9L182.2 20.2L183.4 20.4L184.6 20.9L184.7 21.5L184.3 22.6L184.2 23.6L183.1 24.6L181.9 25.8L181.1 26.6L179.9 27.1L179.2 27.0L178.4 27.3L178.0 28.2L177.0 28.9L176.7 29.1L177.3 29.7L177.8 30.5L177.8 31.4L177.3 31.7L176.1 32.1L176.0 31.4L176.2 30.5L175.8 30.1L175.2 30.1L175.0 29.7L175.4 29.1L174.8 28.8L173.6 28.5L173.0 29.5L173.4 28.8L173.2 28.2L172.3 28.7L171.7 29.2L171.1 29.5L171.6 30.3L172.0 30.5L172.7 30.1L173.8 30.3L173.2 30.7L172.5 31.1L171.9 31.7L172.5 32.1L172.8 33.1L173.4 33.7L173.4 34.2L172.9 34.5L173.5 34.8L173.2 35.7L172.6 36.3L172.1 37.1L171.7 37.6L171.2 37.9L170.3 38.8L169.4 39.1L168.6 39.3L167.8 39.5L166.9 39.9L166.8 40.4L166.5 39.7L165.8 39.7L165.2 39.8L164.7 40.4L164.2 41.2L164.7 42.0L165.2 42.7L166.0 43.4L166.3 44.5L166.2 45.5L165.5 46.1L165.0 46.3L164.7 46.8L163.8 47.4L163.7 46.8L163.5 46.3L162.7 45.9L162.5 45.2L161.5 44.9L161.5 44.5L161.0 44.5L160.9 45.2L160.5 46.3L160.9 46.9L161.2 48.2L161.7 48.4L162.2 48.8L162.9 49.8L162.9 50.7L163.4 51.6L163.0 51.7L161.7 50.7L161.2 49.6L161.2 48.7L160.8 48.4L160.0 47.8L160.2 46.6L160.3 45.6L160.0 44.4L159.7 42.7L159.4 42.4L158.7 42.6L158.3 43.1L157.8 43.0L157.9 42.1L157.7 41.2L157.2 40.5L156.6 40.1L156.5 39.5L156.2 39.1L155.6 39.4L154.8 39.6L154.3 39.6L153.7 39.9L153.5 40.5L152.6 41.0L152.0 41.6L151.0 42.6L150.4 43.1L149.8 43.4L149.9 44.5L149.6 45.8L149.6 46.4L149.2 47.0L148.6 47.5L148.3 47.7L147.8 47.2L147.3 45.8L146.8 44.9L146.4 43.7L146.0 42.7L145.6 41.1L145.6 40.0L145.5 39.5L144.3 40.1L143.5 39.2L144.2 38.9L143.1 38.5L142.6 38.2L142.2 37.4L140.9 37.5L139.3 37.6L137.8 37.4L136.8 37.2L136.5 36.4L135.8 36.5L134.9 36.7L133.7 36.0L133.0 35.3L132.6 34.6L131.9 34.5L131.4 34.8L131.7 35.7L132.3 36.6L132.7 37.2L133.0 37.8L133.4 37.2L133.5 38.1L134.9 38.2L136.1 37.1L136.3 36.8L136.3 37.8L137.1 38.4L138.3 39.1L137.6 40.3L137.1 41.1L136.6 41.4L136.2 41.9L135.5 42.4L134.4 42.6L133.8 43.2L132.3 43.8L131.4 44.2L129.9 44.7L129.0 45.0L128.6 44.9L128.3 43.9L128.2 42.7L127.4 41.2L126.7 40.3L126.2 39.7L125.6 38.4L125.0 37.5L124.1 36.1L123.7 35.2L123.8 35.0L123.5 35.6L123.4 36.0L122.7 35.5L122.4 34.8L122.8 35.9L123.4 36.9L124.1 38.3L124.9 39.4L125.1 40.0L125.1 40.8L125.8 41.8L126.4 43.2L127.4 43.9L128.2 44.8L128.6 45.4L128.6 45.6L129.2 46.3L130.1 46.1L131.7 45.8L133.3 45.5L133.1 46.2L133.0 46.6L132.3 48.4L131.4 49.8L130.2 51.1L129.0 51.9L127.9 53.0L127.2 53.9L126.7 54.5L126.2 55.2L126.0 56.2L126.3 57.2L126.5 58.4L126.9 59.3L127.1 61.0L126.8 62.0L125.2 63.0L124.4 63.7L123.6 64.2L124.0 65.7L124.1 66.7L122.6 67.5L122.5 68.0L122.4 68.7L122.0 69.6L121.3 70.4L120.3 71.5L119.2 72.3L118.4 72.5L116.8 72.6L116.2 72.7L115.0 73.1L114.1 72.8L113.9 72.0L113.8 71.1L113.0 69.4L112.2 68.3L111.8 66.0L111.1 64.5L110.2 62.7L110.2 61.8L110.6 60.6L111.3 59.3L111.0 57.8L110.4 56.1L110.2 55.1L109.4 54.2L108.7 53.2L108.9 51.9L109.0 50.6L108.9 50.1L108.3 49.8L107.4 49.8L106.6 49.4L105.9 48.7L104.9 48.7L103.9 49.0L102.7 49.5L101.8 49.6L101.0 49.4L98.9 49.8L97.9 49.5L96.8 48.5L95.8 47.8L95.6 47.1L94.8 46.4L94.4 45.8L93.6 45.1L93.4 43.9L93.1 43.7L93.7 42.9L93.9 41.5L94.0 40.9L93.4 40.0L93.8 39.0L94.0 38.4L94.7 37.4L94.9 36.9L95.6 36.1L96.3 35.8L97.3 35.2L97.6 34.8L97.7 34.5L97.6 33.9L98.3 32.8L99.2 32.3L99.7 31.4L99.9 31.3L100.2 31.2L100.7 31.6L102.0 31.7L102.7 31.4L103.6 31.1L105.1 30.7L106.2 30.7L108.3 30.6L109.3 30.4L109.8 30.5L109.4 30.9L109.8 31.6L109.3 32.1L109.2 32.4L109.9 32.8L110.7 33.0L112.2 33.3L112.5 33.9L114.1 34.5L114.8 34.3L115.1 33.8L115.0 33.4L115.9 33.0L116.8 33.2L117.1 33.4L117.9 33.7L119.1 33.9L120.3 34.2L121.1 33.8L121.8 33.8L122.2 34.0L123.3 33.9L123.5 33.7L123.7 33.0L124.1 32.4L124.3 31.6L124.3 31.2L124.5 30.8L123.7 30.7L122.9 31.0L122.3 31.1L121.2 30.7L120.6 31.0L119.7 30.7L119.3 30.3L118.8 29.8L119.0 29.1L118.6 28.8L119.3 28.5L120.3 28.5L120.6 28.1L121.7 28.1L122.8 27.6L123.8 27.5L124.7 28.0L125.8 28.2L127.0 28.2L127.6 27.9L127.6 27.2L126.7 26.8L125.7 26.0L125.1 25.6L125.8 24.7L126.3 24.5L125.2 24.6L123.8 25.0L123.5 25.4L124.1 25.6L124.7 25.6L123.9 25.9L123.0 26.2L122.4 25.6L123.0 25.3L121.8 24.9L121.3 24.9L120.7 25.6L120.1 26.1L120.0 26.6L119.7 27.1L119.6 27.6L120.3 28.1L119.7 28.2L119.0 28.4L118.6 28.4L118.5 28.3L117.3 28.3L117.2 28.7L116.7 28.4L116.5 28.8L116.8 29.3L117.2 29.7L117.3 30.1L116.9 30.3L116.8 30.9L116.4 30.8L116.0 30.7L115.6 30.1L116.0 29.8L115.6 29.6L115.1 29.0L114.6 28.5L114.6 27.7L114.1 27.4L113.2 26.9L112.6 26.6L112.1 26.0L111.7 25.7L111.3 25.8L111.4 25.4L110.5 25.6L110.6 26.2L111.3 26.7L111.9 27.5L112.7 27.6L112.8 28.0L113.8 28.4L114.1 28.7L113.4 28.5L113.0 29.0L113.3 29.4L113.0 29.7L112.7 30.0L112.5 29.8L112.5 28.9L112.1 28.6L111.5 28.3L110.7 27.9L109.9 27.4L109.4 27.1L109.3 26.5L108.5 26.2L107.7 26.5L106.8 26.9L105.9 26.7L105.1 26.9L105.2 27.6L104.5 28.0L103.8 28.3L103.2 28.9L103.4 29.5L103.0 29.8L102.8 30.2L102.1 30.7L100.7 30.7L100.2 31.1ZM168.6 65.5L168.9 67.8L169.5 70.2L169.5 72.3L170.3 73.2L171.2 73.2L172.3 72.6L174.3 72.5L175.8 71.6L177.6 71.2L178.8 71.1L180.5 71.9L181.3 73.1L181.6 72.3L182.5 72.0L182.8 73.2L183.7 73.6L184.3 74.9L186.0 75.4L186.9 75.1L187.6 75.6L188.6 74.8L189.8 74.7L189.9 73.5L190.6 72.3L191.3 71.4L191.6 70.2L191.8 69.0L191.6 67.3L191.0 67.0L190.3 65.8L189.4 64.9L188.6 64.3L187.6 63.6L187.2 61.9L187.1 61.3L186.2 60.7L186.0 59.9L185.4 58.8L185.0 60.0L184.9 61.3L184.4 62.8L183.7 62.8L182.5 61.9L181.3 61.3L182.1 59.7L181.6 59.6L179.9 59.3L179.3 59.1L178.2 59.7L177.8 61.2L177.0 61.2L176.4 60.6L175.2 61.0L174.9 62.2L173.6 62.8L173.2 63.7L171.7 64.3L170.3 64.7L169.2 65.4L168.6 65.5ZM53.6 13.3L54.5 14.0L56.0 14.1L56.9 14.7L55.8 14.8L54.0 15.0L53.0 14.8L53.2 14.2L53.6 13.3ZM68.7 24.3L69.3 23.7L69.6 23.0L70.1 22.2L71.0 21.9L70.9 22.7L72.1 23.3L72.5 24.0L72.6 24.3L72.4 24.8L71.8 24.4L71.1 24.7L70.6 24.3L68.7 24.3ZM29.6 22.4L30.7 22.6L31.4 22.9L32.5 23.8L31.8 23.7L30.7 23.2L29.6 22.4ZM26.9 20.4L27.7 20.5L28.0 21.5L27.5 21.3L26.9 20.4ZM14.4 18.5L15.3 18.6L15.9 18.4L15.3 18.1L14.4 18.5ZM54.3 39.5L55.3 38.9L55.9 38.7L56.9 38.8L57.9 39.2L58.7 39.7L59.5 40.0L60.4 40.5L59.5 40.7L58.4 40.7L58.7 40.3L57.9 39.7L57.0 39.5L56.0 39.3L55.5 39.1L54.3 39.5ZM60.2 41.6L60.9 40.7L61.6 40.7L62.7 40.7L63.6 41.4L63.0 41.6L62.2 41.7L61.8 42.0L61.1 41.7L60.2 41.6ZM58.0 41.6L59.2 41.7L59.0 41.9L58.3 41.9L58.0 41.6ZM64.3 41.5L65.2 41.6L65.1 41.8L64.3 41.8L64.3 41.5ZM58.0 37.6L58.4 37.7L58.3 38.2L58.0 38.1ZM13.8 40.5L14.4 40.9L14.0 41.3L13.8 41.0ZM12.4 39.7L12.8 39.8L12.6 39.8ZM67.7 82.8L68.7 82.8L69.7 82.9L69.2 83.4L68.1 83.3L67.7 82.8ZM50.5 52.6L50.9 52.7L50.7 53.0ZM100.0 22.8L101.3 22.7L102.7 22.4L104.1 22.1L104.3 21.3L103.5 20.8L103.2 20.2L102.4 19.6L102.1 19.3L101.6 19.1L102.3 18.4L101.3 18.3L101.4 17.8L100.4 17.8L100.0 18.4L100.0 19.1L100.4 19.6L100.5 20.0L101.4 20.0L101.3 20.3L101.6 20.8L100.7 20.9L100.9 21.5L100.3 21.8L101.0 21.9L101.6 22.0L100.7 22.1L100.0 22.8ZM99.7 21.5L99.8 20.9L99.7 20.4L100.1 20.1L99.7 19.8L99.1 19.7L98.4 20.0L97.5 20.4L97.5 20.9L97.8 21.3L97.3 21.7L97.8 21.9L98.6 21.8L99.7 21.5ZM185.1 25.2L186.0 24.9L185.7 23.4L186.6 23.4L186.0 21.7L185.7 20.3L185.4 20.5L185.1 22.3L185.0 24.0L185.1 25.2ZM184.0 27.9L184.6 27.7L185.8 27.6L187.2 26.8L186.9 26.4L185.1 25.6L184.8 25.8L184.7 26.9L184.0 27.3L184.0 27.9ZM184.6 27.9L185.1 29.1L184.6 30.0L184.5 30.5L184.3 31.4L183.9 31.7L183.4 31.9L182.2 32.0L181.3 32.6L181.1 32.1L179.9 32.3L178.7 32.3L178.7 32.0L179.9 31.4L181.6 31.3L182.2 30.5L183.7 29.8L184.0 28.8L184.3 28.1L184.6 27.9ZM178.0 32.7L178.7 32.3L179.3 32.9L178.8 33.9L178.2 34.0L178.0 33.2L178.0 32.7ZM179.6 32.7L180.9 32.4L180.6 32.1L179.9 32.2L179.6 32.7ZM172.4 38.8L172.9 37.5L173.5 37.7L173.2 38.5L172.8 39.4L172.4 38.8ZM165.9 41.1L166.7 40.6L167.2 40.8L166.8 41.7L166.1 41.6L165.9 41.1ZM172.3 43.0L172.6 41.5L173.6 41.5L173.6 42.7L173.2 43.6L174.6 44.3L174.3 44.8L173.2 44.3L172.7 44.0L172.3 43.0ZM173.5 48.3L174.3 47.7L175.5 46.8L176.1 48.0L175.8 48.7L175.4 49.1L174.6 48.7L173.5 48.3ZM173.5 45.9L174.1 46.5L174.6 46.5L175.5 45.9L175.2 45.1L174.3 45.1L173.5 45.9ZM166.1 51.4L166.1 52.2L166.4 53.0L166.8 54.2L167.5 54.5L168.9 54.5L170.0 54.8L170.3 53.6L170.9 52.5L171.2 51.9L171.7 51.9L171.5 49.5L171.9 49.3L170.9 48.4L170.3 48.6L169.8 49.5L168.6 50.1L167.5 50.9L166.7 51.4L166.1 51.4ZM158.3 49.1L159.6 49.4L161.2 51.1L163.1 53.0L164.4 54.3L164.3 55.9L163.5 55.9L162.3 54.8L161.6 53.9L161.2 53.0L160.3 51.4L159.0 50.2L158.3 49.1ZM163.9 56.5L164.4 55.9L165.7 56.2L166.9 56.5L168.2 56.5L169.2 57.0L169.2 57.6L167.2 57.3L165.5 57.1L164.7 56.8L163.9 56.5ZM169.5 57.3L170.0 57.4L171.7 57.4L172.9 57.4L174.1 57.4L174.1 57.6L171.7 57.7L170.0 57.7L169.5 57.7ZM174.6 58.5L175.2 57.8L176.6 57.4L175.5 58.1L174.6 58.5ZM172.0 55.7L172.6 55.7L172.8 54.2L173.5 55.3L174.2 55.1L173.1 53.6L174.1 53.0L172.6 53.0L172.6 52.2L175.2 51.6L174.9 52.2L172.9 52.3L172.2 52.5L171.7 54.2L172.0 55.7ZM176.7 51.6L177.3 51.9L177.0 52.7L176.7 52.2ZM177.0 54.2L178.6 54.3L178.1 54.7L177.1 54.5ZM178.7 53.0L179.6 52.7L180.8 53.0L181.6 53.5L182.8 53.4L184.6 54.0L186.3 54.7L187.4 55.7L188.3 56.1L188.5 57.2L189.8 58.5L188.6 58.4L187.5 57.3L186.3 57.0L185.7 57.8L184.6 57.8L183.4 57.2L182.8 57.4L182.5 56.6L183.1 56.3L181.6 55.1L180.5 54.7L179.6 54.8L179.3 54.1L180.2 53.8L178.7 53.0ZM188.9 55.7L190.1 55.7L191.0 54.9L190.7 55.7L189.8 56.1L188.9 55.7ZM149.6 47.7L149.8 46.6L150.4 47.4L150.7 48.3L150.4 48.8L149.8 48.9L149.6 48.3L149.6 47.7ZM132.1 59.6L132.8 61.6L132.3 62.8L131.4 65.5L130.8 67.3L129.7 67.5L129.0 67.0L128.6 65.5L129.2 64.3L129.0 62.5L130.2 61.8L131.1 61.3L131.7 60.4L132.1 59.6ZM110.6 30.0L112.4 29.8L112.1 30.7L110.6 30.2L110.6 30.0ZM108.2 29.4L108.9 29.3L109.0 28.2L108.1 28.2L108.2 29.4ZM108.3 27.9L108.8 27.9L108.9 27.0L108.3 27.4L108.3 27.9ZM117.0 31.6L118.7 31.6L117.6 31.8L117.0 31.6ZM122.2 31.9L123.5 31.3L122.9 31.7L122.2 31.7L122.2 31.9ZM143.4 81.6L144.3 81.5L144.2 81.9L143.5 81.9ZM186.7 76.5L188.8 76.7L188.6 77.9L187.8 78.3L187.1 77.5L186.7 76.5ZM203.0 72.8L204.1 73.9L204.7 74.1L205.0 74.7L206.4 74.8L206.1 75.6L205.5 75.9L204.7 77.0L204.2 76.9L204.5 76.1L203.7 75.7L204.2 74.9L203.8 74.1L203.0 72.8ZM203.0 76.4L204.0 76.8L203.5 77.7L203.1 78.3L202.2 78.7L201.8 79.6L200.9 80.1L199.4 79.7L199.6 79.2L200.5 78.5L201.9 77.8L202.6 77.0L203.0 76.4ZM190.1 54.0L191.0 54.3L191.6 55.2L191.3 55.3L190.7 54.6L190.1 54.2ZM192.5 55.4L193.2 56.2L193.0 56.5L192.5 55.8ZM193.6 56.6L194.5 57.0L194.4 57.2L193.6 56.9ZM195.3 57.4L196.2 58.0L195.9 58.1L195.4 57.8ZM196.0 57.5L196.5 58.1L196.2 58.2L196.0 57.8ZM199.4 61.3L199.8 61.6L199.7 62.0L199.5 61.7ZM200.2 62.1L200.6 62.4L200.4 62.7ZM198.0 64.4L199.7 65.7L199.4 65.6L198.1 64.8ZM205.7 62.8L206.4 62.7L206.5 63.2L205.7 63.2ZM54.7 15.4L56.5 15.3L55.8 15.0L54.7 15.4ZM56.7 15.6L57.4 15.8L57.2 16.0ZM50.3 15.7L50.8 15.6L50.5 15.9ZM57.6 19.0L57.9 19.3L57.4 19.4ZM61.9 15.2L62.5 15.3L62.2 15.5ZM55.9 21.0L56.5 21.0L56.2 21.3ZM6.6 14.7L5.3 14.9L6.0 15.1L6.9 15.0ZM7.7 16.7L8.3 16.8L7.9 17.0ZM6.9 20.8L7.7 20.5L8.0 20.7L7.2 21.0ZM205.8 21.7L207.0 21.9L206.4 22.0ZM193.9 22.4L193.6 22.6L193.2 22.7ZM188.6 25.6L189.8 25.2L189.5 25.5ZM191.3 24.3L192.1 23.7L191.8 24.0Z"/>
<clipPath id="lc"><use href="#dland"/></clipPath>
<clipPath id="fc"><rect x="0" y="0" width="207.3" height="88.0"/></clipPath>
<filter id="bl" x="-50%" y="-50%" width="200%" height="200%"><feGaussianBlur stdDeviation="0.9"/></filter>
<filter id="bl2" x="-50%" y="-50%" width="200%" height="200%"><feGaussianBlur stdDeviation="1.6"/></filter>
</defs>
<g transform="translate(19.00,18.50)">
<g clip-path="url(#fc)"><g clip-path="url(#lc)">
<rect x="0" y="0" width="207.3" height="88.0" fill="#f8efeb"/>
<ellipse cx="45.7" cy="28.8" rx="12.6" ry="6.5" fill="#edf2f5" filter="url(#bl2)"/>
<ellipse cx="33.3" cy="27.6" rx="2.3" ry="4.7" fill="#a7d0e4" filter="url(#bl)"/>
<ellipse cx="32.7" cy="28.8" rx="1.1" ry="2.4" fill="#84bcd9" filter="url(#bl)"/>
<ellipse cx="51.4" cy="29.1" rx="6.3" ry="1.5" fill="#f7b799" filter="url(#bl)"/>
<ellipse cx="50.3" cy="29.1" rx="3.4" ry="0.9" fill="#f09c7b" filter="url(#bl)"/>
<ellipse cx="54.8" cy="32.9" rx="3.4" ry="2.1" fill="#84bcd9" filter="url(#bl)"/>
<ellipse cx="55.4" cy="33.2" rx="1.7" ry="1.2" fill="#5fa5cd" filter="url(#bl)"/>
<ellipse cx="17.2" cy="14.6" rx="6.9" ry="3.0" fill="#f8f1ed" filter="url(#bl2)"/>
<ellipse cx="40.1" cy="18.7" rx="8.0" ry="3.0" fill="#fbe4d6" filter="url(#bl2)"/>
<ellipse cx="59.9" cy="21.7" rx="4.6" ry="3.0" fill="#fbe4d6" filter="url(#bl2)"/>
<ellipse cx="45.7" cy="38.8" rx="4.6" ry="3.0" fill="#edf2f5" filter="url(#bl2)"/>
<ellipse cx="52.0" cy="44.2" rx="2.9" ry="1.8" fill="#c2383a" filter="url(#bl)"/>
<ellipse cx="53.1" cy="44.8" rx="1.4" ry="1.2" fill="#b1182b" filter="url(#bl)"/>
<ellipse cx="67.3" cy="54.8" rx="10.3" ry="6.5" fill="#f7b799" filter="url(#bl2)"/>
<ellipse cx="71.3" cy="58.4" rx="4.6" ry="3.6" fill="#f7b799" filter="url(#bl2)"/>
<ellipse cx="63.9" cy="50.7" rx="5.8" ry="4.1" fill="#f09c7b" filter="url(#bl2)"/>
<ellipse cx="62.7" cy="49.8" rx="3.2" ry="2.7" fill="#b1182b" filter="url(#bl)"/>
<ellipse cx="71.3" cy="66.7" rx="3.4" ry="3.6" fill="#f7b799" filter="url(#bl)"/>
<ellipse cx="76.0" cy="61.3" rx="3.4" ry="3.6" fill="#fbe4d6" filter="url(#bl2)"/>
<ellipse cx="113.8" cy="22.3" rx="10.3" ry="2.7" fill="#fcd3bc" filter="url(#bl2)"/>
<ellipse cx="109.2" cy="23.4" rx="4.0" ry="1.8" fill="#f7b799" filter="url(#bl)"/>
<ellipse cx="155.4" cy="16.3" rx="20.1" ry="2.4" fill="#dbeaf2" opacity="0.80" filter="url(#bl2)"/>
<ellipse cx="144.1" cy="25.8" rx="11.5" ry="3.0" fill="#edf2f5" opacity="0.90" filter="url(#bl2)"/>
<ellipse cx="166.7" cy="34.7" rx="6.9" ry="4.7" fill="#f7b799" filter="url(#bl2)"/>
<ellipse cx="169.5" cy="32.9" rx="2.9" ry="1.8" fill="#f09c7b" filter="url(#bl)"/>
<ellipse cx="170.6" cy="32.3" rx="0.9" ry="0.9" fill="#d35a4a"/>
<ellipse cx="163.3" cy="41.8" rx="3.4" ry="4.1" fill="#f09c7b" filter="url(#bl2)"/>
<ellipse cx="168.3" cy="51.9" rx="5.8" ry="2.4" fill="#e27b62" filter="url(#bl)"/>
<ellipse cx="162.1" cy="53.0" rx="2.3" ry="3.0" fill="#f09c7b" filter="url(#bl)"/>
<ellipse cx="149.7" cy="39.4" rx="4.6" ry="4.7" fill="#fbe4d6" filter="url(#bl2)"/>
<ellipse cx="185.1" cy="55.4" rx="4.6" ry="1.8" fill="#f7b799" filter="url(#bl)"/>
<ellipse cx="103.3" cy="39.4" rx="14.4" ry="4.7" fill="#edf2f5" filter="url(#bl2)"/>
<ellipse cx="129.6" cy="37.7" rx="6.9" ry="4.7" fill="#edf2f5" opacity="0.80" filter="url(#bl2)"/>
<ellipse cx="117.9" cy="58.4" rx="10.9" ry="10.7" fill="#f7b799" filter="url(#bl2)"/>
<ellipse cx="117.9" cy="58.4" rx="8.0" ry="7.7" fill="#f09c7b" filter="url(#bl2)"/>
<ellipse cx="117.3" cy="57.8" rx="5.2" ry="5.3" fill="#e27b62" filter="url(#bl2)"/>
<ellipse cx="116.2" cy="56.0" rx="1.7" ry="1.8" fill="#d35a4a" filter="url(#bl)"/>
<ellipse cx="120.3" cy="60.7" rx="1.7" ry="1.8" fill="#d35a4a" filter="url(#bl)"/>
<ellipse cx="98.6" cy="47.7" rx="4.0" ry="1.8" fill="#fcd3bc" filter="url(#bl2)"/>
<ellipse cx="130.8" cy="63.7" rx="1.4" ry="3.0" fill="#fcd3bc" filter="url(#bl)"/>
<ellipse cx="181.1" cy="67.3" rx="8.6" ry="5.9" fill="#fbe4d6" filter="url(#bl2)"/>
<ellipse cx="187.5" cy="64.3" rx="2.9" ry="3.6" fill="#f7b799" opacity="0.80" filter="url(#bl)"/>
</g>
<use href="#casp" fill="#fff"/>
<path d="M34.4 0V88.0M68.4 0V88.0M103.3 0V88.0M138.4 0V88.0M172.3 0V88.0M0 5.1H207.3M0 16.9H207.3M0 28.8H207.3M0 40.6H207.3M0 52.5H207.3M0 64.3H207.3M0 76.1H207.3" stroke="#c6c6c6" stroke-width="0.85" fill="none"/>
<use href="#land" fill="none" stroke="#111" stroke-width="0.88" stroke-linejoin="round"/>
<use href="#casp" fill="none" stroke="#111" stroke-width="0.88"/>
</g>
<path d="M0 0H207.3V88.0H0" fill="none" stroke="#606060" stroke-width="0.9"/>
<path d="M-0.1 -0.4V88.4" stroke="#b4b4b4" stroke-width="1.7"/>
<text x="34.4" y="-1.5" font-size="6.1" textLength="16.57" lengthAdjust="spacingAndGlyphs" text-anchor="middle">120°W</text>
<text x="34.4" y="93.2" font-size="6.1" textLength="16.57" lengthAdjust="spacingAndGlyphs" text-anchor="middle">120°W</text>
<text x="68.4" y="-1.5" font-size="6.1" textLength="13.51" lengthAdjust="spacingAndGlyphs" text-anchor="middle">60°W</text>
<text x="68.4" y="93.2" font-size="6.1" textLength="13.51" lengthAdjust="spacingAndGlyphs" text-anchor="middle">60°W</text>
<text x="103.3" y="-1.5" font-size="6.1" textLength="5.26" lengthAdjust="spacingAndGlyphs" text-anchor="middle">0°</text>
<text x="103.3" y="93.2" font-size="6.1" textLength="5.26" lengthAdjust="spacingAndGlyphs" text-anchor="middle">0°</text>
<text x="138.4" y="-1.5" font-size="6.1" textLength="11.99" lengthAdjust="spacingAndGlyphs" text-anchor="middle">60°E</text>
<text x="138.4" y="93.2" font-size="6.1" textLength="11.99" lengthAdjust="spacingAndGlyphs" text-anchor="middle">60°E</text>
<text x="172.3" y="-1.5" font-size="6.1" textLength="15.04" lengthAdjust="spacingAndGlyphs" text-anchor="middle">120°E</text>
<text x="172.3" y="93.2" font-size="6.1" textLength="15.04" lengthAdjust="spacingAndGlyphs" text-anchor="middle">120°E</text>
<text x="-0.5" y="7.4" font-size="6.1" textLength="12.29" lengthAdjust="spacingAndGlyphs" text-anchor="end">80°N</text>
<text x="208.0" y="7.4" font-size="6.1" textLength="12.29" lengthAdjust="spacingAndGlyphs">80°N</text>
<text x="-0.5" y="19.2" font-size="6.1" textLength="12.29" lengthAdjust="spacingAndGlyphs" text-anchor="end">60°N</text>
<text x="208.0" y="19.2" font-size="6.1" textLength="12.29" lengthAdjust="spacingAndGlyphs">60°N</text>
<text x="-0.5" y="31.1" font-size="6.1" textLength="12.29" lengthAdjust="spacingAndGlyphs" text-anchor="end">40°N</text>
<text x="208.0" y="31.1" font-size="6.1" textLength="12.29" lengthAdjust="spacingAndGlyphs">40°N</text>
<text x="-0.5" y="42.9" font-size="6.1" textLength="12.29" lengthAdjust="spacingAndGlyphs" text-anchor="end">20°N</text>
<text x="208.0" y="42.9" font-size="6.1" textLength="12.29" lengthAdjust="spacingAndGlyphs">20°N</text>
<text x="-0.5" y="54.8" font-size="6.1" textLength="5.26" lengthAdjust="spacingAndGlyphs" text-anchor="end">0°</text>
<text x="208.0" y="54.8" font-size="6.1" textLength="5.26" lengthAdjust="spacingAndGlyphs">0°</text>
<text x="-0.5" y="66.6" font-size="6.1" textLength="11.99" lengthAdjust="spacingAndGlyphs" text-anchor="end">20°S</text>
<text x="208.0" y="66.6" font-size="6.1" textLength="11.99" lengthAdjust="spacingAndGlyphs">20°S</text>
<text x="-0.5" y="78.4" font-size="6.1" textLength="11.99" lengthAdjust="spacingAndGlyphs" text-anchor="end">40°S</text>
<text x="208.0" y="78.4" font-size="6.1" textLength="11.99" lengthAdjust="spacingAndGlyphs">40°S</text>
<text x="-0.5" y="90.3" font-size="6.1" textLength="11.99" lengthAdjust="spacingAndGlyphs" text-anchor="end">60°S</text>
<text x="208.0" y="90.3" font-size="6.1" textLength="11.99" lengthAdjust="spacingAndGlyphs">60°S</text>
<text x="103.7" y="-7.4" font-size="8.3" text-anchor="middle" textLength="20.5" lengthAdjust="spacingAndGlyphs">CAMS</text>
</g>
<g transform="translate(274.10,18.50)">
<g clip-path="url(#fc)"><g clip-path="url(#lc)">
<rect x="0" y="0" width="207.3" height="88.0" fill="#f6f0ee"/>
<ellipse cx="35.5" cy="19.3" rx="6.9" ry="3.6" fill="#fcd3bc" filter="url(#bl2)"/>
<ellipse cx="47.4" cy="27.0" rx="5.8" ry="3.0" fill="#f7b799" filter="url(#bl2)"/>
<ellipse cx="45.7" cy="25.8" rx="2.9" ry="1.5" fill="#f09c7b" opacity="0.80" filter="url(#bl)"/>
<ellipse cx="57.1" cy="25.8" rx="3.4" ry="1.8" fill="#fcd3bc" filter="url(#bl)"/>
<ellipse cx="54.2" cy="32.9" rx="4.0" ry="2.4" fill="#dbeaf2" filter="url(#bl2)"/>
<ellipse cx="48.6" cy="19.9" rx="0.9" ry="0.9" fill="#84bcd9"/>
<ellipse cx="34.4" cy="27.6" rx="2.9" ry="3.6" fill="#edf2f5" filter="url(#bl)"/>
<ellipse cx="52.5" cy="43.6" rx="2.3" ry="1.8" fill="#fcd3bc" filter="url(#bl)"/>
<ellipse cx="64.4" cy="50.7" rx="6.9" ry="3.6" fill="#f7b799" filter="url(#bl2)"/>
<ellipse cx="67.3" cy="52.5" rx="3.4" ry="2.4" fill="#f09c7b" filter="url(#bl)"/>
<ellipse cx="62.7" cy="58.4" rx="2.9" ry="3.0" fill="#edf2f5" filter="url(#bl)"/>
<ellipse cx="77.1" cy="57.2" rx="5.2" ry="2.4" fill="#e27b62" filter="url(#bl)"/>
<ellipse cx="80.0" cy="57.8" rx="2.3" ry="1.8" fill="#d35a4a" filter="url(#bl)"/>
<ellipse cx="71.9" cy="61.9" rx="2.3" ry="1.8" fill="#dbeaf2" filter="url(#bl)"/>
<ellipse cx="68.4" cy="67.8" rx="5.2" ry="4.7" fill="#f09c7b" filter="url(#bl2)"/>
<ellipse cx="66.7" cy="66.7" rx="2.3" ry="2.4" fill="#e27b62" filter="url(#bl)"/>
<ellipse cx="61.6" cy="77.3" rx="0.7" ry="0.8" fill="#5fa5cd"/>
<ellipse cx="116.2" cy="24.6" rx="11.5" ry="4.7" fill="#f7b799" filter="url(#bl2)"/>
<ellipse cx="116.2" cy="25.2" rx="4.6" ry="2.4" fill="#e27b62" filter="url(#bl)"/>
<ellipse cx="126.7" cy="19.9" rx="8.6" ry="3.6" fill="#fbe4d6" filter="url(#bl2)"/>
<ellipse cx="155.4" cy="18.1" rx="20.1" ry="3.6" fill="#edf2f5" filter="url(#bl2)"/>
<ellipse cx="189.8" cy="14.0" rx="14.4" ry="3.6" fill="#edf2f5" filter="url(#bl2)"/>
<ellipse cx="166.7" cy="36.5" rx="7.5" ry="7.1" fill="#f7b799" filter="url(#bl2)"/>
<ellipse cx="171.2" cy="33.5" rx="1.1" ry="1.3" fill="#053061"/>
<ellipse cx="149.7" cy="39.4" rx="5.8" ry="6.5" fill="#fcd3bc" filter="url(#bl2)"/>
<ellipse cx="149.7" cy="35.9" rx="3.4" ry="1.8" fill="#f7b799" filter="url(#bl)"/>
<ellipse cx="161.0" cy="43.6" rx="3.4" ry="4.1" fill="#e27b62" filter="url(#bl2)"/>
<ellipse cx="168.3" cy="51.9" rx="5.8" ry="2.4" fill="#e27b62" filter="url(#bl)"/>
<ellipse cx="162.1" cy="53.0" rx="2.3" ry="3.0" fill="#f09c7b" filter="url(#bl)"/>
<ellipse cx="184.0" cy="55.4" rx="4.6" ry="1.8" fill="#f7b799" filter="url(#bl)"/>
<ellipse cx="110.3" cy="48.3" rx="12.6" ry="2.4" fill="#fcd3bc" filter="url(#bl2)"/>
<ellipse cx="106.2" cy="38.2" rx="11.5" ry="3.6" fill="#edf2f5" filter="url(#bl2)"/>
<ellipse cx="117.9" cy="55.4" rx="11.5" ry="9.5" fill="#f7b799" filter="url(#bl2)"/>
<ellipse cx="117.9" cy="57.2" rx="7.5" ry="4.7" fill="#d35a4a" filter="url(#bl2)"/>
<ellipse cx="116.2" cy="48.9" rx="6.9" ry="1.8" fill="#f09c7b" filter="url(#bl)"/>
<ellipse cx="117.3" cy="50.1" rx="0.9" ry="0.9" fill="#a7d0e4"/>
<ellipse cx="119.1" cy="69.6" rx="4.6" ry="3.0" fill="#edf2f5" filter="url(#bl2)"/>
<ellipse cx="181.1" cy="67.3" rx="8.6" ry="5.9" fill="#f8f1ed" filter="url(#bl2)"/>
<ellipse cx="189.8" cy="72.0" rx="1.7" ry="2.4" fill="#e27b62" filter="url(#bl)"/>
</g>
<use href="#casp" fill="#fff"/>
<path d="M34.4 0V88.0M68.4 0V88.0M103.3 0V88.0M138.4 0V88.0M172.3 0V88.0M0 5.1H207.3M0 16.9H207.3M0 28.8H207.3M0 40.6H207.3M0 52.5H207.3M0 64.3H207.3M0 76.1H207.3" stroke="#c6c6c6" stroke-width="0.85" fill="none"/>
<use href="#land" fill="none" stroke="#111" stroke-width="0.88" stroke-linejoin="round"/>
<use href="#casp" fill="none" stroke="#111" stroke-width="0.88"/>
</g>
<path d="M0 0H207.3V88.0H0" fill="none" stroke="#606060" stroke-width="0.9"/>
<path d="M0 -0.4V88.4" stroke="#606060" stroke-width="0.9"/>
<text x="34.4" y="-1.5" font-size="6.1" textLength="16.57" lengthAdjust="spacingAndGlyphs" text-anchor="middle">120°W</text>
<text x="34.4" y="93.2" font-size="6.1" textLength="16.57" lengthAdjust="spacingAndGlyphs" text-anchor="middle">120°W</text>
<text x="68.4" y="-1.5" font-size="6.1" textLength="13.51" lengthAdjust="spacingAndGlyphs" text-anchor="middle">60°W</text>
<text x="68.4" y="93.2" font-size="6.1" textLength="13.51" lengthAdjust="spacingAndGlyphs" text-anchor="middle">60°W</text>
<text x="103.3" y="-1.5" font-size="6.1" textLength="5.26" lengthAdjust="spacingAndGlyphs" text-anchor="middle">0°</text>
<text x="103.3" y="93.2" font-size="6.1" textLength="5.26" lengthAdjust="spacingAndGlyphs" text-anchor="middle">0°</text>
<text x="138.4" y="-1.5" font-size="6.1" textLength="11.99" lengthAdjust="spacingAndGlyphs" text-anchor="middle">60°E</text>
<text x="138.4" y="93.2" font-size="6.1" textLength="11.99" lengthAdjust="spacingAndGlyphs" text-anchor="middle">60°E</text>
<text x="172.3" y="-1.5" font-size="6.1" textLength="15.04" lengthAdjust="spacingAndGlyphs" text-anchor="middle">120°E</text>
<text x="172.3" y="93.2" font-size="6.1" textLength="15.04" lengthAdjust="spacingAndGlyphs" text-anchor="middle">120°E</text>
<text x="-0.5" y="7.4" font-size="6.1" textLength="12.29" lengthAdjust="spacingAndGlyphs" text-anchor="end">80°N</text>
<text x="208.0" y="7.4" font-size="6.1" textLength="12.29" lengthAdjust="spacingAndGlyphs">80°N</text>
<text x="-0.5" y="19.2" font-size="6.1" textLength="12.29" lengthAdjust="spacingAndGlyphs" text-anchor="end">60°N</text>
<text x="208.0" y="19.2" font-size="6.1" textLength="12.29" lengthAdjust="spacingAndGlyphs">60°N</text>
<text x="-0.5" y="31.1" font-size="6.1" textLength="12.29" lengthAdjust="spacingAndGlyphs" text-anchor="end">40°N</text>
<text x="208.0" y="31.1" font-size="6.1" textLength="12.29" lengthAdjust="spacingAndGlyphs">40°N</text>
<text x="-0.5" y="42.9" font-size="6.1" textLength="12.29" lengthAdjust="spacingAndGlyphs" text-anchor="end">20°N</text>
<text x="208.0" y="42.9" font-size="6.1" textLength="12.29" lengthAdjust="spacingAndGlyphs">20°N</text>
<text x="-0.5" y="54.8" font-size="6.1" textLength="5.26" lengthAdjust="spacingAndGlyphs" text-anchor="end">0°</text>
<text x="208.0" y="54.8" font-size="6.1" textLength="5.26" lengthAdjust="spacingAndGlyphs">0°</text>
<text x="-0.5" y="66.6" font-size="6.1" textLength="11.99" lengthAdjust="spacingAndGlyphs" text-anchor="end">20°S</text>
<text x="208.0" y="66.6" font-size="6.1" textLength="11.99" lengthAdjust="spacingAndGlyphs">20°S</text>
<text x="-0.5" y="78.4" font-size="6.1" textLength="11.99" lengthAdjust="spacingAndGlyphs" text-anchor="end">40°S</text>
<text x="208.0" y="78.4" font-size="6.1" textLength="11.99" lengthAdjust="spacingAndGlyphs">40°S</text>
<text x="-0.5" y="90.3" font-size="6.1" textLength="11.99" lengthAdjust="spacingAndGlyphs" text-anchor="end">60°S</text>
<text x="208.0" y="90.3" font-size="6.1" textLength="11.99" lengthAdjust="spacingAndGlyphs">60°S</text>
<text x="103.7" y="-7.4" font-size="8.3" text-anchor="middle" textLength="14.1" lengthAdjust="spacingAndGlyphs">UoE</text>
</g>
<g transform="translate(19.00,135.05)">
<g clip-path="url(#fc)"><g clip-path="url(#lc)">
<rect x="0" y="0" width="207.3" height="88.0" fill="#f8eeea"/>
<ellipse cx="45.7" cy="18.1" rx="17.2" ry="4.7" fill="#fbe4d6" filter="url(#bl2)"/>
<g><path fill="#f8f1ed" d="M32.5 17.4h0.9v1.2h-0.9zM53.9 12.8h1.0v1.1h-1.0zM36.2 22.4h1.2v1.0h-1.2zM52.7 11.2h0.8v1.1h-0.8zM55.0 17.3h1.1v0.7h-1.1zM62.5 18.2h0.6v0.8h-0.6zM49.3 17.7h0.9v1.1h-0.9zM43.7 17.5h1.1v1.2h-1.1zM28.9 15.7h0.9v1.0h-0.9zM52.9 17.0h1.0v0.9h-1.0zM45.0 23.5h0.9v1.0h-0.9zM48.5 13.3h1.1v1.0h-1.1zM54.4 26.9h0.8v1.2h-0.8zM59.5 11.6h0.9v1.2h-0.9zM54.4 20.2h0.9v0.8h-0.9zM68.0 23.8h0.9v0.7h-0.9zM45.1 21.4h0.7v1.1h-0.7zM50.5 20.7h0.8v0.9h-0.8zM48.6 24.9h0.7v0.7h-0.7zM44.0 16.5h0.9v1.0h-0.9zM37.8 22.8h1.1v0.7h-1.1zM59.0 16.6h1.1v0.9h-1.1zM63.6 15.2h0.8v0.8h-0.8zM47.8 23.2h0.8v0.8h-0.8zM63.0 19.8h0.9v1.1h-0.9zM35.2 24.7h1.1v1.2h-1.1zM65.4 14.8h0.6v1.2h-0.6zM52.5 13.8h0.7v1.0h-0.7zM44.3 20.3h1.0v1.1h-1.0zM47.8 20.6h0.6v0.9h-0.6zM38.7 16.7h1.0v1.1h-1.0zM54.1 18.6h0.6v0.9h-0.6zM49.1 22.4h1.0v0.9h-1.0zM41.6 11.4h1.1v1.2h-1.1zM39.6 15.1h1.1v0.8h-1.1zM63.5 16.9h1.0v1.0h-1.0zM51.0 21.0h1.2v0.9h-1.2zM57.5 22.1h0.6v0.8h-0.6zM58.0 14.8h0.9v0.7h-0.9z"/><path fill="#fbe4d6" d="M54.4 17.0h0.9v1.2h-0.9zM41.4 20.3h1.1v0.7h-1.1zM52.7 21.9h1.1v0.6h-1.1zM46.5 17.2h0.9v0.9h-0.9zM57.5 14.9h0.8v1.2h-0.8zM51.9 21.9h0.7v1.0h-0.7zM42.0 18.8h0.7v0.6h-0.7zM39.2 17.5h0.7v0.9h-0.7zM48.9 19.5h1.2v0.8h-1.2zM58.7 19.3h1.1v0.8h-1.1zM46.8 15.3h1.2v1.0h-1.2zM53.4 20.2h0.9v0.6h-0.9zM18.5 18.4h1.1v0.9h-1.1zM60.0 21.3h0.9v0.6h-0.9zM49.3 21.3h1.1v1.1h-1.1zM49.4 21.8h0.6v0.8h-0.6zM34.6 15.9h1.0v1.1h-1.0zM45.9 15.2h1.1v1.0h-1.1zM73.7 19.5h1.1v0.8h-1.1zM45.6 25.6h1.1v0.9h-1.1zM44.6 26.4h0.6v1.0h-0.6zM60.6 16.6h0.9v1.1h-0.9zM38.6 9.7h0.9v1.1h-0.9zM59.4 18.5h0.8v0.7h-0.8zM58.4 24.2h0.8v1.0h-0.8zM46.9 23.4h0.8v0.7h-0.8zM36.1 13.0h0.7v1.0h-0.7zM54.4 23.0h0.7v0.6h-0.7zM58.5 19.0h0.8v1.1h-0.8zM38.3 15.7h0.9v1.1h-0.9zM23.9 22.1h0.9v0.7h-0.9zM43.4 15.9h0.9v0.9h-0.9zM41.4 20.6h1.0v0.8h-1.0z"/><path fill="#fcd3bc" d="M69.3 17.2h0.6v0.9h-0.6zM26.1 16.4h0.7v0.8h-0.7zM43.6 18.9h1.1v0.9h-1.1zM33.5 16.7h1.1v0.8h-1.1zM43.5 20.9h0.7v1.1h-0.7zM69.2 18.7h0.8v1.2h-0.8zM49.1 15.5h1.0v0.7h-1.0zM28.0 22.4h1.1v0.7h-1.1zM60.5 12.5h0.8v0.7h-0.8zM44.6 27.3h1.0v0.9h-1.0zM57.4 21.1h0.7v1.1h-0.7zM53.8 17.7h1.0v1.0h-1.0zM53.3 17.9h1.1v0.7h-1.1zM37.4 13.9h1.0v0.7h-1.0zM35.5 15.8h0.6v0.7h-0.6zM52.6 24.5h1.1v0.9h-1.1zM38.0 20.4h0.7v0.8h-0.7zM47.0 19.6h0.8v0.7h-0.8zM47.4 21.5h1.1v1.2h-1.1zM50.4 17.6h1.0v1.1h-1.0zM62.9 20.3h1.1v0.8h-1.1zM42.1 24.7h1.0v0.7h-1.0zM63.0 21.3h0.9v0.7h-0.9zM47.4 19.0h0.9v1.2h-0.9zM57.0 17.0h0.9v0.8h-0.9zM29.5 19.8h0.9v1.2h-0.9zM26.3 21.2h1.0v0.9h-1.0zM31.8 19.7h0.9v0.7h-0.9zM57.3 18.7h1.2v0.9h-1.2zM30.0 15.2h0.7v0.7h-0.7zM53.9 18.6h0.6v0.8h-0.6zM49.3 14.6h1.1v0.8h-1.1zM45.3 25.4h0.8v0.8h-0.8zM53.3 20.1h1.1v0.7h-1.1zM45.5 19.5h0.9v0.8h-0.9zM29.0 18.9h1.1v0.9h-1.1zM65.4 17.9h0.9v1.0h-0.9zM50.9 17.1h0.7v0.7h-0.7zM43.0 13.5h0.6v1.2h-0.6zM60.1 20.4h0.9v1.2h-0.9zM36.3 22.5h0.8v1.2h-0.8zM16.5 19.4h1.1v0.7h-1.1zM31.0 17.0h1.0v1.1h-1.0zM71.6 16.4h0.8v1.2h-0.8zM55.3 22.2h0.6v1.2h-0.6zM34.3 16.7h0.8v1.0h-0.8zM65.8 17.9h0.6v0.7h-0.6zM44.9 21.6h0.6v0.7h-0.6zM55.4 26.0h1.2v1.1h-1.2zM42.0 20.0h0.9v0.7h-0.9zM53.4 21.4h0.7v0.9h-0.7zM34.0 14.3h1.2v1.1h-1.2zM49.9 16.2h0.7v0.8h-0.7zM45.0 15.2h0.6v0.8h-0.6zM55.9 24.9h0.9v1.1h-0.9zM41.4 17.4h1.0v1.2h-1.0zM59.6 15.0h1.0v1.2h-1.0zM42.8 21.5h1.1v0.8h-1.1zM54.1 22.8h0.7v0.9h-0.7zM59.1 24.0h0.9v1.0h-0.9zM38.1 20.5h0.7v0.7h-0.7zM62.1 20.3h0.8v0.6h-0.8zM66.3 13.8h0.8v0.7h-0.8zM44.1 16.8h1.2v1.1h-1.2zM36.8 15.1h1.0v1.0h-1.0zM61.1 20.8h0.9v0.8h-0.9zM49.9 22.1h1.1v1.1h-1.1zM47.2 19.9h1.1v1.2h-1.1zM56.6 21.0h1.0v1.0h-1.0zM40.2 19.2h0.6v1.1h-0.6zM44.5 21.3h0.7v1.1h-0.7zM43.6 15.4h1.1v1.2h-1.1zM57.4 15.2h0.7v0.9h-0.7zM51.9 19.6h1.1v1.1h-1.1zM38.9 20.8h1.0v1.0h-1.0zM41.2 20.2h1.1v1.0h-1.1zM38.4 15.6h1.0v0.7h-1.0zM61.3 20.6h1.1v0.7h-1.1zM47.4 14.2h0.9v1.0h-0.9zM49.8 20.8h1.1v0.9h-1.1zM60.6 25.1h1.0v1.1h-1.0zM36.4 16.6h0.7v1.2h-0.7zM46.4 21.9h1.1v0.8h-1.1zM66.1 14.1h0.8v0.9h-0.8zM54.4 21.5h0.7v1.1h-0.7zM49.8 24.8h0.7v1.2h-0.7zM57.6 21.9h1.2v1.2h-1.2zM49.8 16.7h1.0v0.7h-1.0z"/><path fill="#f09c7b" d="M51.3 18.6h0.8v1.2h-0.8zM68.2 18.9h0.8v1.1h-0.8zM54.6 19.5h0.8v0.9h-0.8zM61.5 22.1h0.7v1.2h-0.7zM54.3 20.8h0.8v1.0h-0.8zM36.3 15.8h0.8v1.1h-0.8zM44.8 15.6h1.2v0.9h-1.2zM53.0 19.0h1.2v0.7h-1.2zM64.8 14.8h1.2v0.7h-1.2zM48.8 21.9h1.1v0.8h-1.1zM57.5 21.2h1.0v1.2h-1.0zM48.2 19.4h0.9v1.0h-0.9zM50.5 16.9h0.9v0.8h-0.9zM59.8 20.5h0.7v0.9h-0.7zM51.0 21.8h0.9v1.1h-0.9zM62.3 22.7h1.1v1.2h-1.1zM9.1 9.3h0.7v0.7h-0.7zM40.6 16.6h1.0v1.1h-1.0zM71.6 20.0h0.6v0.7h-0.6zM43.2 13.0h0.7v0.8h-0.7zM39.8 14.9h1.1v0.7h-1.1zM54.7 17.4h1.1v0.8h-1.1zM52.2 20.6h1.0v0.8h-1.0zM41.6 15.6h1.1v0.8h-1.1zM19.2 22.7h1.1v0.9h-1.1zM48.5 20.7h1.2v0.8h-1.2zM22.9 20.0h0.9v1.2h-0.9zM9.5 23.1h1.0v0.8h-1.0zM60.0 24.2h0.7v1.0h-0.7zM83.8 24.1h1.1v0.7h-1.1zM30.2 15.2h0.7v1.1h-0.7zM37.1 20.1h1.1v1.1h-1.1zM32.9 16.2h0.9v0.9h-0.9zM46.7 17.4h1.2v1.0h-1.2zM40.2 19.3h1.0v0.7h-1.0zM39.4 18.6h1.2v0.7h-1.2zM50.2 20.3h0.7v0.7h-0.7z"/><path fill="#f7b799" d="M54.4 19.0h0.6v1.0h-0.6zM47.1 14.1h1.0v0.7h-1.0zM41.1 19.7h0.7v0.9h-0.7zM48.5 18.5h1.0v1.2h-1.0zM32.8 19.3h1.0v0.9h-1.0zM22.3 18.1h0.8v1.0h-0.8zM48.4 16.8h1.0v0.9h-1.0zM52.3 15.3h1.2v1.1h-1.2zM33.1 22.2h0.9v0.8h-0.9zM54.4 22.5h1.0v1.2h-1.0zM57.0 22.2h1.1v1.2h-1.1zM44.1 18.3h0.7v1.1h-0.7zM56.1 15.8h1.0v1.1h-1.0zM47.7 13.1h0.8v0.9h-0.8zM27.6 17.4h0.8v0.9h-0.8zM41.8 16.8h0.6v1.1h-0.6zM50.9 22.1h1.1v1.1h-1.1zM55.0 18.6h1.2v1.0h-1.2zM37.4 18.5h1.0v1.1h-1.0zM46.7 22.5h1.1v0.7h-1.1zM40.2 22.2h1.0v1.0h-1.0zM46.7 17.1h1.1v1.0h-1.1zM59.5 19.4h0.7v0.8h-0.7zM47.2 19.2h0.7v1.0h-0.7zM39.4 16.2h1.0v1.0h-1.0zM51.6 24.4h1.1v1.0h-1.1zM35.1 22.9h0.7v0.9h-0.7zM47.6 16.5h0.8v1.2h-0.8zM65.5 23.9h1.0v1.1h-1.0zM50.2 17.0h0.7v1.2h-0.7zM27.3 22.6h0.6v0.7h-0.6zM39.9 19.2h0.8v0.9h-0.8zM45.2 21.9h0.9v1.1h-0.9zM56.6 18.5h0.8v0.9h-0.8zM39.1 19.6h1.1v1.1h-1.1zM34.8 18.2h0.8v1.2h-0.8zM44.1 11.2h1.0v0.7h-1.0zM50.7 21.4h0.7v1.0h-0.7zM54.9 16.5h0.9v0.8h-0.9zM70.3 17.5h0.8v0.7h-0.8zM44.9 20.0h1.1v0.8h-1.1zM58.2 27.0h1.1v1.1h-1.1zM48.0 13.6h0.8v1.0h-0.8z"/></g>
<ellipse cx="40.1" cy="28.8" rx="5.8" ry="4.7" fill="#dbeaf2" filter="url(#bl2)"/>
<g><path fill="#dbeaf2" d="M41.4 28.3h0.7v1.2h-0.7zM39.3 31.8h0.9v1.2h-0.9zM43.9 30.4h0.9v1.1h-0.9zM35.4 23.7h0.8v0.6h-0.8zM44.0 31.4h0.9v0.7h-0.9zM38.6 25.5h0.7v0.8h-0.7zM44.3 22.0h1.2v1.1h-1.2zM45.4 30.5h1.1v0.7h-1.1zM45.2 22.5h0.8v0.8h-0.8zM39.3 32.1h0.7v1.2h-0.7zM40.8 26.2h1.0v1.1h-1.0zM40.4 32.9h0.7v1.0h-0.7zM35.4 30.0h1.2v0.9h-1.2zM44.6 30.3h0.6v0.7h-0.6zM36.5 23.0h1.2v0.7h-1.2zM37.7 28.8h0.9v0.6h-0.9z"/><path fill="#c5dfec" d="M48.8 27.4h1.1v1.2h-1.1zM45.0 30.1h1.0v1.1h-1.0zM42.9 28.0h1.0v1.1h-1.0zM37.1 29.4h0.7v1.2h-0.7zM42.5 30.7h0.7v0.9h-0.7zM48.1 33.6h1.1v1.0h-1.1zM44.2 28.6h1.0v0.8h-1.0zM38.5 24.0h0.8v0.7h-0.8zM34.3 24.1h0.8v0.8h-0.8zM36.5 33.9h1.0v1.0h-1.0zM40.6 31.7h1.2v1.0h-1.2zM42.4 33.9h1.1v0.8h-1.1zM40.6 30.5h0.9v0.9h-0.9zM36.4 27.7h0.9v0.9h-0.9zM50.4 32.6h1.0v1.2h-1.0zM37.0 27.2h0.6v1.0h-0.6zM39.1 25.3h0.9v1.2h-0.9zM47.4 26.6h0.6v1.1h-0.6zM40.6 33.1h0.9v0.7h-0.9zM43.3 24.1h1.1v0.8h-1.1zM38.8 28.1h0.8v1.2h-0.8z"/><path fill="#edf2f5" d="M41.0 25.2h0.8v0.8h-0.8zM41.7 21.4h1.1v0.8h-1.1zM36.4 28.1h0.9v0.8h-0.9zM39.1 26.2h0.7v1.0h-0.7zM41.1 28.0h1.1v1.1h-1.1zM39.5 27.9h1.0v0.8h-1.0zM38.7 31.3h0.8v1.1h-0.8zM41.2 29.8h0.7v1.0h-0.7zM40.1 24.6h1.1v1.0h-1.1zM40.2 23.6h0.7v1.0h-0.7zM37.3 25.9h1.1v1.1h-1.1zM34.9 28.8h1.0v1.1h-1.0zM39.2 25.7h0.8v0.9h-0.8z"/><path fill="#a7d0e4" d="M41.3 28.7h0.7v1.2h-0.7zM37.2 25.6h1.1v1.1h-1.1zM43.5 29.0h1.0v0.8h-1.0zM44.0 34.0h0.6v1.0h-0.6zM35.4 27.2h0.9v0.7h-0.9zM31.7 36.7h1.0v1.1h-1.0zM37.1 35.5h1.1v1.2h-1.1zM39.0 26.5h1.2v1.1h-1.2zM46.9 28.2h0.6v0.9h-0.6zM33.9 26.9h0.9v0.9h-0.9zM36.4 27.1h0.9v0.8h-0.9zM42.0 22.3h1.0v1.1h-1.0zM39.4 31.0h0.8v1.2h-0.8zM35.2 27.2h1.1v1.2h-1.1zM38.0 27.9h0.8v0.8h-0.8zM39.9 26.0h0.8v0.9h-0.8zM41.8 26.0h1.2v0.7h-1.2zM36.3 32.7h0.8v0.7h-0.8zM45.1 28.2h0.7v0.7h-0.7zM38.7 36.8h1.1v1.0h-1.1z"/></g>
<ellipse cx="55.9" cy="27.6" rx="5.2" ry="4.1" fill="#fbe4d6" filter="url(#bl2)"/>
<g><path fill="#fcd3bc" d="M52.0 32.7h0.9v0.9h-0.9zM45.3 22.1h1.1v1.2h-1.1zM61.6 26.5h1.2v0.7h-1.2zM46.6 25.2h1.1v0.9h-1.1zM56.0 22.7h1.1v0.9h-1.1zM59.6 23.3h0.9v0.9h-0.9zM65.0 29.1h0.9v1.1h-0.9zM59.8 26.5h1.0v1.0h-1.0zM51.9 26.5h0.7v0.8h-0.7zM39.7 24.6h0.9v1.2h-0.9zM57.7 28.8h0.9v1.2h-0.9zM58.7 26.4h1.2v0.9h-1.2zM58.1 27.5h1.0v0.9h-1.0zM59.7 30.6h1.0v0.7h-1.0zM53.0 23.3h0.8v0.7h-0.8zM46.5 29.6h1.0v1.1h-1.0zM57.6 25.5h0.9v0.9h-0.9zM65.1 23.7h0.7v0.7h-0.7zM57.8 27.6h0.6v1.2h-0.6zM55.7 30.6h0.7v0.9h-0.7zM56.3 29.3h0.7v0.9h-0.7zM59.2 29.2h1.2v0.9h-1.2zM55.7 26.5h1.0v1.1h-1.0zM51.0 28.0h1.0v0.9h-1.0zM57.5 19.7h1.1v1.1h-1.1z"/><path fill="#f7b799" d="M59.2 27.3h1.0v0.7h-1.0zM50.6 28.8h1.1v1.2h-1.1zM50.6 27.1h1.1v0.8h-1.1zM62.9 24.9h0.6v0.8h-0.6zM53.9 29.9h0.9v1.1h-0.9zM53.8 23.7h0.8v1.1h-0.8zM49.7 29.6h0.7v0.9h-0.7zM51.0 31.3h0.7v0.7h-0.7zM50.1 35.0h1.1v1.2h-1.1zM56.3 29.1h0.9v0.6h-0.9zM65.8 20.9h0.6v0.7h-0.6zM53.8 25.2h1.0v1.0h-1.0zM58.0 30.2h1.0v1.1h-1.0zM53.6 27.8h1.1v1.0h-1.1zM59.9 29.0h1.2v1.2h-1.2z"/><path fill="#f09c7b" d="M61.4 23.6h0.9v1.2h-0.9zM60.2 28.6h0.8v1.1h-0.8zM60.2 27.9h0.6v0.9h-0.6zM55.0 27.8h1.0v0.7h-1.0zM58.8 24.5h1.1v0.7h-1.1zM54.2 22.9h1.1v1.2h-1.1zM57.5 27.6h0.9v0.6h-0.9zM54.1 22.5h0.7v1.1h-0.7zM54.8 23.9h0.6v0.9h-0.6zM54.0 28.2h0.9v0.7h-0.9zM54.8 23.1h0.8v0.9h-0.8zM55.9 28.8h0.6v0.6h-0.6zM68.4 22.2h0.7v1.0h-0.7zM56.8 25.2h0.7v1.0h-0.7zM48.7 28.5h0.9v0.6h-0.9zM49.5 29.3h1.0v0.9h-1.0zM60.0 30.0h1.2v0.9h-1.2z"/><path fill="#fbe4d6" d="M60.7 21.0h1.2v1.2h-1.2zM50.1 29.1h0.7v0.9h-0.7zM50.2 26.1h1.1v1.1h-1.1zM48.8 29.2h1.0v1.0h-1.0zM46.3 27.6h1.0v1.1h-1.0zM52.9 24.7h0.9v1.1h-0.9zM53.9 29.6h0.9v1.0h-0.9zM44.3 34.5h0.8v0.7h-0.8zM58.4 32.1h0.8v0.8h-0.8zM58.6 24.9h0.8v1.0h-0.8zM52.9 30.7h1.0v0.9h-1.0zM60.3 28.7h0.9v0.9h-0.9zM57.5 28.0h1.1v0.8h-1.1z"/></g>
<ellipse cx="52.5" cy="44.2" rx="2.3" ry="1.8" fill="#fcd3bc" filter="url(#bl)"/>
<ellipse cx="68.4" cy="59.6" rx="10.9" ry="10.1" fill="#f09c7b" filter="url(#bl2)"/>
<g><path fill="#f09c7b" d="M60.1 57.4h0.9v0.9h-0.9zM76.3 59.2h1.2v1.1h-1.2zM62.6 64.3h1.0v1.3h-1.0zM65.4 54.2h0.7v1.2h-0.7zM81.3 50.9h1.0v0.7h-1.0zM72.8 56.6h0.8v1.3h-0.8zM61.5 57.0h0.8v1.2h-0.8zM62.1 60.4h0.9v1.1h-0.9zM65.2 64.3h0.7v1.1h-0.7zM67.6 46.5h1.0v1.1h-1.0zM74.6 52.8h1.1v1.0h-1.1zM73.8 55.7h0.8v1.1h-0.8zM64.9 64.8h0.7v1.0h-0.7zM65.3 57.5h1.0v1.0h-1.0zM71.4 61.2h0.6v0.9h-0.6zM59.7 67.4h0.9v1.2h-0.9zM61.8 52.7h0.7v0.7h-0.7zM64.3 61.6h0.7v1.2h-0.7zM76.4 65.3h0.7v0.8h-0.7zM73.7 63.0h0.8v0.7h-0.8zM70.6 63.3h1.2v0.7h-1.2zM67.5 44.2h1.2v1.2h-1.2zM64.2 45.8h1.2v0.7h-1.2zM68.8 58.1h0.8v0.8h-0.8zM74.3 74.2h1.1v1.0h-1.1zM61.9 56.3h0.7v0.9h-0.7zM62.5 54.9h1.2v0.7h-1.2zM65.8 67.4h1.3v1.2h-1.3zM70.5 59.5h1.0v1.2h-1.0zM79.6 54.5h1.2v0.9h-1.2zM54.3 63.6h0.8v0.9h-0.8zM77.0 54.7h1.2v1.1h-1.2zM59.9 68.5h0.8v0.9h-0.8zM71.9 50.0h1.0v1.1h-1.0zM64.6 60.0h0.7v1.2h-0.7zM63.3 60.4h0.7v0.8h-0.7zM70.9 61.9h0.8v1.0h-0.8zM62.8 59.2h0.7v1.2h-0.7zM74.8 71.7h1.2v0.7h-1.2zM58.5 62.7h1.2v0.7h-1.2zM77.6 61.5h0.9v1.2h-0.9zM57.7 58.5h1.0v1.1h-1.0zM58.5 56.7h0.9v0.8h-0.9zM72.2 60.9h0.8v1.0h-0.8zM65.6 57.8h1.1v0.8h-1.1zM73.7 66.8h1.1v0.8h-1.1zM68.9 56.0h1.0v1.3h-1.0zM70.7 62.2h1.0v1.2h-1.0zM60.2 62.9h1.2v0.7h-1.2zM69.6 61.8h1.2v0.7h-1.2zM61.2 43.7h0.7v0.7h-0.7zM69.8 58.6h0.9v1.0h-0.9zM67.3 57.4h1.0v0.8h-1.0zM68.9 61.3h0.8v0.9h-0.8zM65.1 48.6h1.2v1.2h-1.2zM66.8 54.7h0.7v0.8h-0.7zM69.5 55.6h1.1v1.1h-1.1zM71.4 62.9h0.8v1.0h-0.8zM65.5 57.0h0.8v1.2h-0.8zM69.8 64.0h1.2v0.7h-1.2zM57.7 58.6h0.9v0.8h-0.9zM62.6 62.1h1.2v1.0h-1.2zM76.6 52.6h1.0v0.9h-1.0zM71.0 64.5h0.8v1.0h-0.8zM85.4 57.9h0.9v1.1h-0.9zM70.9 72.0h1.1v1.3h-1.1zM75.4 50.7h0.7v0.8h-0.7zM75.5 61.3h1.1v1.2h-1.1zM71.0 63.3h0.8v1.1h-0.8zM74.4 53.7h0.9v1.2h-0.9zM60.0 66.6h0.7v1.0h-0.7zM73.9 52.7h1.1v0.9h-1.1zM66.1 66.5h0.7v1.2h-0.7zM60.8 60.2h0.9v0.7h-0.9zM77.7 72.2h1.0v0.9h-1.0zM80.6 65.3h1.1v1.1h-1.1zM80.7 65.1h1.2v1.2h-1.2zM71.7 65.2h1.0v0.9h-1.0zM63.5 59.2h1.2v1.3h-1.2zM76.2 63.0h0.8v0.8h-0.8zM57.8 48.7h1.2v1.3h-1.2zM65.2 54.2h1.2v1.1h-1.2zM70.2 68.4h0.8v0.9h-0.8zM74.4 55.8h1.0v1.1h-1.0zM61.9 54.9h1.2v0.9h-1.2zM79.5 55.1h1.1v1.0h-1.1zM73.2 62.9h0.8v1.1h-0.8zM65.8 49.8h1.2v0.7h-1.2zM64.5 68.5h1.0v1.1h-1.0zM74.5 52.0h0.9v1.1h-0.9zM77.0 60.9h0.8v1.0h-0.8zM61.1 63.6h0.8v0.8h-0.8zM71.7 64.3h1.1v1.3h-1.1zM62.2 59.6h1.0v0.7h-1.0zM65.2 46.0h1.1v0.8h-1.1zM64.4 49.7h1.2v1.3h-1.2zM75.0 53.2h0.8v0.7h-0.8zM76.4 52.1h1.3v0.9h-1.3zM61.1 49.8h1.1v0.8h-1.1zM68.0 60.3h0.9v1.2h-0.9zM55.9 63.4h1.0v1.0h-1.0zM74.1 61.9h1.0v1.0h-1.0zM58.0 62.1h0.7v0.8h-0.7zM67.5 56.2h0.7v0.9h-0.7zM62.3 65.8h0.9v0.7h-0.9zM70.9 49.3h1.2v1.0h-1.2zM62.1 63.4h1.2v1.0h-1.2zM73.1 49.5h1.1v1.1h-1.1zM73.2 61.8h0.9v1.1h-0.9zM69.0 55.0h1.1v0.7h-1.1zM72.2 70.7h1.1v0.8h-1.1zM67.8 61.9h1.0v0.8h-1.0zM62.7 74.4h0.7v0.7h-0.7z"/><path fill="#e27b62" d="M77.7 54.1h1.1v1.2h-1.1zM73.4 64.4h0.7v0.8h-0.7zM69.6 59.4h1.2v1.2h-1.2zM76.0 66.3h1.1v0.8h-1.1zM67.9 62.7h0.9v0.8h-0.9zM77.5 46.9h0.7v1.0h-0.7zM61.7 53.5h0.9v1.2h-0.9zM62.6 50.0h1.1v1.2h-1.1zM83.0 56.9h1.1v1.0h-1.1zM63.8 58.6h1.1v0.9h-1.1zM75.1 49.0h1.1v1.3h-1.1zM82.1 52.3h0.7v0.7h-0.7zM64.3 64.8h0.9v1.0h-0.9zM74.4 56.6h1.0v0.7h-1.0zM59.3 48.0h1.3v1.1h-1.3zM73.2 66.5h0.7v1.0h-0.7zM67.5 63.2h1.1v1.1h-1.1zM63.0 63.2h0.9v1.3h-0.9zM63.7 53.9h0.8v1.3h-0.8zM66.5 72.6h0.9v0.9h-0.9zM82.4 56.6h0.9v1.3h-0.9zM60.6 60.8h0.8v0.9h-0.8zM74.1 57.5h1.1v0.9h-1.1zM73.9 69.6h0.9v1.2h-0.9zM64.5 63.5h0.9v1.0h-0.9zM68.2 57.0h1.1v1.0h-1.1zM65.4 60.1h1.0v1.1h-1.0zM68.7 63.1h1.0v0.7h-1.0zM69.4 66.0h1.1v0.7h-1.1zM67.2 56.4h0.8v1.1h-0.8zM66.7 57.7h1.3v0.7h-1.3zM63.4 57.7h0.9v0.7h-0.9zM70.3 70.1h0.8v0.9h-0.8zM58.8 52.9h1.1v1.0h-1.1zM71.0 59.8h0.7v1.3h-0.7zM71.6 52.4h0.8v1.3h-0.8zM83.7 56.3h0.8v0.8h-0.8zM74.6 54.2h1.1v1.3h-1.1zM67.7 62.1h0.9v1.3h-0.9zM64.9 68.3h1.3v0.8h-1.3zM58.5 67.9h0.8v1.3h-0.8zM62.1 56.8h0.7v1.2h-0.7zM75.3 51.7h1.2v0.8h-1.2zM68.3 55.9h0.7v0.9h-0.7zM78.7 51.3h1.2v1.2h-1.2zM65.4 58.3h1.0v1.3h-1.0zM68.2 64.3h0.9v0.7h-0.9zM64.4 51.6h0.7v1.1h-0.7zM73.6 65.9h0.8v1.2h-0.8zM67.8 63.4h0.8v0.7h-0.8zM68.6 65.5h0.8v0.9h-0.8zM72.8 59.0h1.0v1.0h-1.0zM74.0 65.3h0.7v1.1h-0.7zM66.0 63.6h1.0v1.1h-1.0zM63.0 59.5h1.1v1.0h-1.1zM70.7 51.7h0.9v1.1h-0.9zM72.2 57.6h1.1v0.8h-1.1zM82.7 54.9h1.2v1.2h-1.2zM68.1 64.7h1.1v0.8h-1.1zM71.4 66.9h0.9v0.9h-0.9z"/><path fill="#f7b799" d="M84.5 60.3h1.1v1.3h-1.1zM72.8 57.7h0.9v0.9h-0.9zM70.2 60.5h0.8v0.9h-0.8zM60.8 51.3h1.1v0.8h-1.1zM73.7 61.2h0.9v1.1h-0.9zM78.4 66.3h1.2v1.0h-1.2zM70.5 65.9h1.1v0.8h-1.1zM74.4 56.3h1.1v0.8h-1.1zM64.5 60.6h0.9v0.9h-0.9zM70.8 58.0h1.2v0.7h-1.2zM67.1 54.3h1.1v0.9h-1.1zM68.8 51.7h0.7v1.0h-0.7zM58.1 64.9h0.9v0.7h-0.9zM62.3 70.1h1.3v0.8h-1.3zM72.8 63.6h1.2v0.8h-1.2zM59.4 82.0h0.9v1.3h-0.9zM70.3 54.2h1.2v1.1h-1.2zM61.3 61.8h0.9v0.7h-0.9zM75.2 58.2h0.9v0.8h-0.9zM66.1 57.6h1.2v1.0h-1.2zM70.6 59.8h0.7v1.1h-0.7zM67.1 57.5h0.7v1.3h-0.7zM60.9 77.4h0.9v1.1h-0.9zM85.3 68.4h1.3v1.0h-1.3zM77.2 55.0h1.1v1.1h-1.1zM55.3 62.4h1.2v0.7h-1.2zM62.5 52.3h1.0v1.2h-1.0zM70.4 55.3h1.0v0.7h-1.0zM60.7 67.8h0.7v0.9h-0.7zM59.6 57.6h1.1v0.7h-1.1zM75.6 53.1h0.8v1.0h-0.8zM64.6 61.7h0.9v1.0h-0.9zM64.5 69.5h1.0v0.9h-1.0zM78.0 64.6h0.6v0.7h-0.6zM64.8 70.1h0.8v1.2h-0.8zM75.3 56.1h1.3v0.9h-1.3zM68.8 65.3h1.2v1.2h-1.2zM69.0 63.3h1.0v1.2h-1.0zM64.5 57.5h0.8v0.9h-0.8zM69.6 60.8h0.7v1.3h-0.7zM76.6 52.0h1.0v1.2h-1.0zM83.5 56.1h1.1v0.9h-1.1zM72.0 56.4h1.1v1.0h-1.1zM67.5 58.1h1.2v1.1h-1.2zM83.4 61.2h1.0v0.8h-1.0zM74.9 50.9h1.0v0.9h-1.0zM61.4 54.4h1.1v1.0h-1.1z"/><path fill="#c2383a" d="M56.7 62.6h0.7v1.1h-0.7zM64.3 52.7h0.8v0.9h-0.8zM74.1 47.6h0.7v1.1h-0.7zM92.1 61.5h0.7v1.3h-0.7zM66.4 42.3h1.1v1.0h-1.1zM71.9 70.2h0.8v1.1h-0.8zM53.1 51.2h1.0v1.1h-1.0zM78.2 66.2h1.0v1.3h-1.0zM65.0 43.8h0.7v0.8h-0.7zM71.2 65.0h1.1v1.1h-1.1zM72.3 59.4h1.1v0.8h-1.1zM61.1 62.0h0.8v0.9h-0.8zM65.7 65.0h0.9v1.0h-0.9zM72.1 61.5h0.9v0.9h-0.9zM63.9 53.5h0.7v0.8h-0.7zM72.3 64.8h1.2v1.3h-1.2zM71.6 60.8h1.0v1.3h-1.0zM75.1 63.4h0.9v0.7h-0.9zM72.5 70.2h0.7v1.1h-0.7zM66.4 61.5h1.0v0.8h-1.0zM73.5 42.1h0.9v0.9h-0.9zM61.5 61.2h1.2v0.9h-1.2zM75.2 64.2h0.8v1.2h-0.8zM63.2 68.1h1.2v1.0h-1.2zM66.9 62.8h1.2v0.7h-1.2zM78.1 63.9h1.2v1.2h-1.2zM74.2 66.6h1.0v0.8h-1.0zM79.9 68.6h1.0v1.1h-1.0zM72.6 62.8h0.8v1.1h-0.8zM74.5 65.5h0.7v1.2h-0.7zM62.6 64.4h1.1v0.7h-1.1zM67.1 46.6h1.0v0.8h-1.0zM48.9 57.5h1.2v1.3h-1.2zM71.6 42.8h0.9v1.2h-0.9zM68.6 58.1h1.0v1.1h-1.0zM69.1 65.5h0.7v1.3h-0.7zM72.6 54.4h0.8v0.9h-0.8zM72.9 56.3h1.2v1.2h-1.2zM68.1 48.6h1.3v0.7h-1.3zM59.6 60.2h1.1v0.7h-1.1zM75.8 57.5h1.0v1.2h-1.0zM68.3 59.5h0.8v0.8h-0.8zM71.5 60.8h0.8v1.1h-0.8zM60.1 60.8h1.2v1.0h-1.2zM59.4 53.8h0.7v0.9h-0.7zM66.3 54.7h1.0v0.7h-1.0zM68.1 63.7h1.1v1.0h-1.1zM77.6 54.4h0.8v1.0h-0.8zM72.6 75.3h1.0v1.2h-1.0zM68.2 56.3h1.1v1.1h-1.1zM74.1 56.5h0.8v0.8h-0.8zM76.0 56.5h1.0v1.1h-1.0zM71.6 58.5h0.8v1.3h-0.8zM79.7 72.4h1.0v0.8h-1.0zM65.4 58.6h1.2v1.2h-1.2zM79.0 66.0h1.0v0.9h-1.0zM68.5 62.8h1.0v1.1h-1.0zM63.3 54.3h0.8v1.2h-0.8zM62.7 76.2h0.8v0.9h-0.8zM64.7 61.0h0.8v1.3h-0.8zM71.5 55.1h0.8v0.9h-0.8z"/><path fill="#d35a4a" d="M63.2 63.6h1.0v1.1h-1.0zM73.7 56.4h0.8v0.9h-0.8zM67.8 60.9h0.9v0.9h-0.9zM59.9 55.9h0.8v1.3h-0.8zM59.5 55.0h0.8v1.2h-0.8zM68.4 54.4h0.8v1.0h-0.8zM79.6 55.3h1.0v1.2h-1.0zM63.0 69.6h0.9v1.1h-0.9zM68.5 51.7h1.0v1.3h-1.0zM66.2 65.9h1.3v0.9h-1.3zM70.1 55.5h1.1v1.2h-1.1zM69.3 65.4h1.1v1.2h-1.1zM73.8 55.9h0.8v0.7h-0.8zM63.3 58.8h0.7v1.0h-0.7zM73.4 52.8h1.1v1.2h-1.1zM68.8 56.3h1.3v1.1h-1.3zM62.3 60.0h1.2v0.8h-1.2zM76.0 57.0h1.1v0.8h-1.1zM79.9 66.2h1.0v1.1h-1.0zM65.6 60.3h1.2v1.3h-1.2zM65.6 71.7h0.9v0.8h-0.9zM72.8 62.8h1.0v0.7h-1.0zM56.9 62.2h1.2v1.2h-1.2zM81.5 60.0h0.8v0.9h-0.8zM69.3 58.3h1.1v0.9h-1.1zM68.3 64.1h0.8v1.1h-0.8zM63.9 63.1h0.7v1.3h-0.7zM70.9 51.0h1.2v1.3h-1.2zM63.2 62.5h0.9v1.0h-0.9zM70.0 53.5h0.9v1.1h-0.9zM77.2 47.9h0.7v1.2h-0.7zM64.1 61.9h1.1v1.1h-1.1zM65.5 55.0h0.9v1.1h-0.9zM66.1 57.7h1.0v1.3h-1.0zM74.1 52.9h1.0v0.9h-1.0zM70.1 74.4h0.9v1.1h-0.9zM70.4 66.3h0.7v1.0h-0.7zM62.8 61.5h1.2v0.8h-1.2zM68.8 59.8h1.2v1.2h-1.2zM61.1 57.7h1.0v1.2h-1.0zM65.5 52.9h0.7v1.1h-0.7zM56.5 58.7h1.2v1.2h-1.2zM77.6 50.9h0.8v0.8h-0.8zM83.0 44.0h1.1v0.8h-1.1zM75.9 56.7h1.0v0.9h-1.0zM65.9 63.4h0.9v1.3h-0.9zM70.6 71.6h1.2v1.3h-1.2zM72.2 48.3h0.9v1.0h-0.9zM63.8 53.3h0.7v0.8h-0.7z"/></g>
<ellipse cx="70.1" cy="69.0" rx="3.4" ry="3.6" fill="#c2383a" filter="url(#bl)"/>
<ellipse cx="70.7" cy="67.8" rx="2.0" ry="2.1" fill="#8d0c25" filter="url(#bl)"/>
<ellipse cx="64.4" cy="77.3" rx="2.9" ry="4.7" fill="#fcd3bc" filter="url(#bl2)"/>
<ellipse cx="117.9" cy="21.1" rx="17.2" ry="3.0" fill="#f7b799" filter="url(#bl2)"/>
<g><path fill="#e27b62" d="M108.9 18.2h0.7v0.6h-0.7zM110.7 20.3h1.0v0.6h-1.0zM124.9 23.6h1.0v0.7h-1.0zM114.8 20.1h1.1v0.9h-1.1zM135.2 24.7h0.9v0.9h-0.9zM112.5 22.2h0.9v0.9h-0.9zM110.0 18.2h0.6v0.7h-0.6zM142.4 17.2h1.1v0.7h-1.1zM94.0 16.3h0.8v1.1h-0.8zM109.9 17.1h1.2v1.0h-1.2zM135.2 22.9h0.7v0.8h-0.7zM141.3 22.9h0.8v1.1h-0.8zM128.1 21.0h1.2v0.9h-1.2zM115.9 20.3h1.1v1.1h-1.1zM122.0 16.8h1.0v0.6h-1.0zM109.0 19.7h0.7v1.0h-0.7zM115.2 16.9h0.9v1.2h-0.9zM123.0 22.9h1.1v1.2h-1.1zM94.5 20.2h1.0v0.9h-1.0zM108.4 21.7h1.1v0.9h-1.1zM113.5 20.4h1.1v0.7h-1.1zM116.6 21.1h1.1v0.6h-1.1zM138.9 23.9h1.1v0.8h-1.1zM124.7 17.6h0.7v0.8h-0.7zM113.6 22.2h0.9v0.7h-0.9zM133.8 25.2h1.0v1.1h-1.0zM113.9 21.3h1.2v0.7h-1.2zM120.6 16.8h0.7v1.0h-0.7zM113.2 20.2h0.9v1.0h-0.9zM116.3 18.5h1.1v1.2h-1.1zM107.9 15.8h1.1v1.0h-1.1zM111.0 27.0h0.7v0.8h-0.7zM133.5 22.9h0.9v0.7h-0.9zM106.6 20.2h1.2v0.9h-1.2zM122.7 23.2h0.7v1.0h-0.7zM107.3 22.8h0.6v0.9h-0.6z"/><path fill="#f7b799" d="M128.7 24.5h1.0v0.6h-1.0zM113.9 18.0h1.2v1.0h-1.2zM109.1 21.0h0.8v0.8h-0.8zM117.2 19.7h0.9v0.8h-0.9zM128.9 21.2h0.7v1.0h-0.7zM114.7 17.5h1.1v0.8h-1.1zM108.5 18.1h1.1v0.8h-1.1zM110.3 23.7h0.7v1.1h-0.7zM121.7 24.0h0.9v0.9h-0.9zM126.1 18.3h0.7v0.6h-0.7zM120.2 20.2h0.7v1.1h-0.7zM115.5 20.1h0.9v1.2h-0.9zM129.4 15.3h1.0v0.8h-1.0zM103.1 21.0h0.8v1.0h-0.8zM108.9 21.8h1.0v1.2h-1.0zM118.4 23.2h0.8v1.0h-0.8zM112.0 19.1h1.1v0.9h-1.1zM114.8 18.6h0.7v1.1h-0.7zM117.7 18.8h0.8v0.8h-0.8zM131.0 21.0h1.1v0.8h-1.1zM133.0 19.3h1.1v0.9h-1.1zM114.5 21.8h1.2v0.9h-1.2zM112.1 18.9h0.7v1.1h-0.7zM105.9 21.4h0.8v0.7h-0.8zM105.6 19.0h0.8v0.9h-0.8zM128.3 19.3h1.2v0.9h-1.2zM122.9 25.0h0.7v1.2h-0.7zM122.3 22.8h0.6v0.8h-0.6zM133.4 22.2h0.9v0.9h-0.9zM116.4 18.1h0.6v0.7h-0.6zM125.4 18.7h0.7v1.1h-0.7zM118.1 17.6h0.9v0.6h-0.9zM126.8 18.8h0.8v1.2h-0.8zM117.8 20.8h1.1v0.7h-1.1zM87.4 21.8h0.7v1.1h-0.7zM108.7 24.2h0.9v0.8h-0.9zM109.3 22.0h1.1v0.7h-1.1zM104.2 15.4h1.1v0.7h-1.1zM126.2 20.3h0.6v1.0h-0.6zM127.5 22.4h1.0v1.2h-1.0zM112.2 15.4h1.0v0.7h-1.0zM113.4 16.8h0.9v1.2h-0.9zM127.0 16.8h0.9v1.2h-0.9zM130.4 23.1h1.0v1.1h-1.0zM101.8 19.1h0.8v0.6h-0.8zM85.2 20.2h1.0v0.7h-1.0z"/><path fill="#fbe4d6" d="M125.7 20.2h0.8v1.2h-0.8zM129.1 18.7h1.0v1.2h-1.0zM109.1 19.0h1.0v1.1h-1.0zM122.3 15.7h0.8v0.9h-0.8zM98.1 22.6h0.7v1.1h-0.7zM119.4 22.1h1.2v1.2h-1.2zM104.4 18.6h0.7v0.8h-0.7zM139.0 25.8h1.0v0.6h-1.0zM129.0 18.5h0.7v1.2h-0.7zM123.0 18.6h0.6v0.8h-0.6zM110.7 19.9h1.0v0.7h-1.0zM101.0 24.0h0.9v0.8h-0.9zM109.2 22.6h0.9v1.2h-0.9zM98.3 23.2h1.1v1.0h-1.1zM116.1 20.3h0.8v1.0h-0.8zM123.5 22.5h0.8v0.8h-0.8zM107.7 21.5h0.8v1.1h-0.8zM118.7 22.4h1.2v0.9h-1.2zM113.4 19.1h0.6v0.9h-0.6zM105.4 19.7h1.0v0.7h-1.0zM109.1 19.6h1.1v0.7h-1.1zM124.3 15.9h1.1v1.1h-1.1zM116.0 21.1h0.6v0.7h-0.6zM128.9 19.8h0.6v1.2h-0.6zM99.8 15.0h0.9v0.8h-0.9zM118.0 24.8h0.6v1.1h-0.6z"/><path fill="#fcd3bc" d="M123.6 24.7h0.9v1.0h-0.9zM116.4 19.7h1.1v1.1h-1.1zM119.7 21.6h1.2v1.1h-1.2zM139.2 23.6h0.9v1.0h-0.9zM108.3 25.8h0.7v0.7h-0.7zM122.5 19.9h0.8v0.7h-0.8zM127.9 24.6h1.2v1.1h-1.2zM118.2 18.5h0.7v0.7h-0.7zM131.9 18.7h1.0v0.8h-1.0zM96.9 19.3h0.9v1.0h-0.9zM99.7 19.3h0.7v0.9h-0.7zM114.7 21.4h0.8v0.7h-0.8zM134.8 22.7h0.7v0.7h-0.7zM102.5 23.8h1.0v1.1h-1.0zM109.1 17.6h0.7v0.7h-0.7zM121.7 19.0h1.1v0.7h-1.1zM125.4 22.9h1.0v1.0h-1.0zM119.3 19.7h1.1v1.0h-1.1zM117.6 24.8h0.7v1.2h-0.7zM109.9 23.9h0.6v1.2h-0.6zM105.3 21.8h0.7v1.2h-0.7zM117.1 20.0h1.0v1.2h-1.0zM108.2 21.0h0.9v1.1h-0.9zM121.7 22.3h0.9v0.8h-0.9zM114.7 19.6h1.0v1.1h-1.0zM112.9 18.8h1.2v0.8h-1.2zM106.0 12.8h1.1v1.0h-1.1zM130.7 23.1h1.0v1.2h-1.0zM127.9 17.3h0.7v1.2h-0.7zM112.9 16.7h1.0v0.6h-1.0zM122.3 17.1h1.1v0.9h-1.1zM138.5 20.9h1.2v1.1h-1.2zM115.1 22.4h0.7v0.9h-0.7zM109.1 24.4h1.1v0.8h-1.1zM112.8 21.6h0.8v0.9h-0.8zM128.0 20.2h0.8v1.0h-0.8zM115.2 23.4h0.8v1.1h-0.8zM118.4 26.5h0.8v0.8h-0.8zM113.9 26.5h0.9v0.7h-0.9zM117.5 24.9h0.7v0.7h-0.7zM112.8 20.7h0.6v1.1h-0.6zM132.0 26.1h1.0v1.1h-1.0zM124.0 19.8h1.0v1.1h-1.0zM127.1 19.2h1.1v1.2h-1.1zM106.6 13.1h0.7v1.0h-0.7zM126.9 17.9h0.9v1.1h-0.9zM126.7 22.6h1.1v1.1h-1.1zM107.7 25.3h0.8v0.8h-0.8zM116.3 25.2h0.9v0.8h-0.9zM131.8 18.1h0.8v1.0h-0.8zM125.6 21.5h0.8v0.9h-0.8zM98.6 19.3h0.9v0.6h-0.9zM109.4 19.7h0.6v0.7h-0.6zM129.6 22.5h0.6v0.6h-0.6zM131.4 17.6h0.9v1.2h-0.9z"/><path fill="#f09c7b" d="M107.7 28.9h0.8v0.9h-0.8zM127.1 17.1h0.7v1.0h-0.7zM115.2 20.2h0.9v1.2h-0.9zM128.6 24.7h1.0v0.8h-1.0zM126.5 19.0h0.8v0.8h-0.8zM107.4 23.2h0.9v1.0h-0.9zM131.9 22.5h0.8v1.0h-0.8zM109.1 26.8h0.6v1.1h-0.6zM124.5 21.9h1.1v1.2h-1.1zM100.5 17.8h1.2v1.1h-1.2zM121.7 20.5h1.0v1.2h-1.0zM120.3 23.6h0.8v0.6h-0.8zM89.7 19.3h1.0v0.8h-1.0zM115.5 17.4h1.0v0.8h-1.0zM114.9 23.3h0.7v0.7h-0.7zM128.4 20.4h0.8v0.9h-0.8zM123.7 25.6h1.1v1.0h-1.1zM105.4 15.7h1.0v1.1h-1.0zM94.7 18.2h0.7v1.2h-0.7zM98.9 22.9h0.7v1.0h-0.7zM115.2 23.9h0.7v1.1h-0.7zM109.0 23.8h1.2v1.0h-1.2zM110.0 16.6h1.1v1.0h-1.1zM126.1 21.9h1.0v0.9h-1.0zM115.6 18.5h0.7v1.2h-0.7zM134.2 23.7h0.7v1.1h-0.7zM129.8 21.7h0.9v1.2h-0.9zM126.9 22.4h1.0v1.1h-1.0zM131.6 22.6h0.6v1.1h-0.6zM121.7 22.1h1.1v1.1h-1.1zM124.0 20.2h1.0v0.9h-1.0zM108.3 19.0h1.0v0.9h-1.0zM123.0 17.2h0.8v1.1h-0.8zM111.9 21.0h0.7v1.0h-0.7zM109.1 21.7h0.8v0.9h-0.8zM104.7 21.1h0.6v0.9h-0.6zM119.4 20.3h0.7v1.1h-0.7z"/></g>
<ellipse cx="161.0" cy="16.9" rx="18.4" ry="2.4" fill="#c5dfec" filter="url(#bl2)"/>
<g><path fill="#dbeaf2" d="M140.3 16.8h0.8v1.1h-0.8zM165.2 17.8h1.0v1.0h-1.0zM155.0 15.5h0.7v1.0h-0.7zM160.5 16.2h0.6v1.1h-0.6zM152.4 13.7h1.1v0.7h-1.1zM164.9 16.7h1.1v1.0h-1.1zM157.5 15.5h1.0v1.2h-1.0zM179.8 16.5h0.9v0.9h-0.9zM169.3 16.6h0.8v1.0h-0.8zM162.6 18.0h0.9v0.9h-0.9zM149.4 15.0h0.9v0.9h-0.9zM160.0 17.7h1.2v0.9h-1.2zM163.9 16.0h0.7v0.8h-0.7zM170.6 17.9h1.0v0.9h-1.0zM152.8 15.8h0.9v1.1h-0.9zM175.5 15.4h1.0v1.1h-1.0zM155.9 16.2h1.1v1.0h-1.1zM144.5 17.0h1.1v0.6h-1.1zM149.9 18.2h0.9v1.2h-0.9zM157.9 17.5h1.1v1.2h-1.1zM161.2 17.2h0.8v0.9h-0.8zM172.3 21.1h1.2v0.6h-1.2zM164.3 13.9h0.8v0.8h-0.8zM178.1 18.4h1.1v0.9h-1.1zM161.2 18.7h1.1v1.0h-1.1zM169.8 14.1h1.0v1.1h-1.0zM177.7 16.9h1.0v1.2h-1.0zM159.5 14.2h0.8v0.8h-0.8zM150.9 15.3h1.1v1.2h-1.1zM161.9 15.9h0.7v0.6h-0.7zM139.6 15.2h0.9v0.8h-0.9zM178.7 15.4h0.7v1.2h-0.7zM178.5 16.0h1.1v0.7h-1.1zM145.2 16.3h1.2v1.1h-1.2zM153.2 15.9h1.0v1.0h-1.0zM157.0 15.9h1.2v0.8h-1.2zM166.4 18.4h0.9v1.1h-0.9zM165.4 17.8h1.1v1.0h-1.1zM166.0 12.7h0.8v0.9h-0.8zM136.3 15.3h1.1v1.0h-1.1zM158.1 16.6h0.9v1.2h-0.9zM162.6 18.7h1.2v1.2h-1.2zM162.0 14.8h0.9v0.6h-0.9zM168.8 14.6h0.9v1.1h-0.9z"/><path fill="#c5dfec" d="M155.7 18.6h1.2v0.8h-1.2zM159.7 17.2h0.7v1.1h-0.7zM156.4 15.7h1.2v1.0h-1.2zM185.7 16.7h1.0v0.9h-1.0zM156.9 16.0h0.9v1.2h-0.9zM148.4 17.4h1.1v0.8h-1.1zM165.1 16.1h0.7v1.0h-0.7zM165.6 16.3h0.6v0.9h-0.6zM173.4 17.5h1.1v1.1h-1.1zM155.8 16.2h1.0v0.7h-1.0zM165.1 16.4h1.0v1.2h-1.0zM151.4 16.6h0.8v0.7h-0.8zM162.1 15.6h0.9v0.9h-0.9zM156.2 11.7h1.1v0.7h-1.1zM165.3 16.5h1.0v0.7h-1.0zM155.1 17.2h0.8v0.8h-0.8zM174.7 15.9h0.6v1.0h-0.6zM137.6 17.8h0.7v1.2h-0.7zM189.4 18.1h0.9v1.2h-0.9zM146.3 17.1h0.6v0.7h-0.6zM149.1 17.4h1.1v0.9h-1.1zM177.0 16.5h0.9v0.7h-0.9zM159.6 16.7h0.9v1.1h-0.9zM148.0 17.1h0.6v1.2h-0.6zM153.4 17.0h0.8v0.7h-0.8zM152.4 13.6h0.6v0.7h-0.6z"/><path fill="#a7d0e4" d="M168.3 13.7h0.8v0.7h-0.8zM122.6 15.7h1.0v0.9h-1.0zM166.0 17.3h1.2v0.9h-1.2zM147.1 17.2h0.8v0.8h-0.8zM156.9 16.5h0.8v0.7h-0.8zM177.3 16.9h0.6v1.2h-0.6zM164.9 12.9h1.1v0.7h-1.1zM137.6 18.1h1.0v0.9h-1.0zM172.9 16.8h1.1v0.6h-1.1zM158.0 15.9h0.9v0.8h-0.9zM180.5 16.8h1.1v0.7h-1.1zM138.2 15.4h1.0v0.7h-1.0zM171.8 16.8h0.7v1.1h-0.7zM154.6 16.5h0.9v0.9h-0.9zM169.2 17.5h0.6v0.8h-0.6zM149.8 12.9h1.1v0.6h-1.1zM166.8 15.2h0.7v0.8h-0.7zM179.9 18.8h1.1v1.1h-1.1zM138.6 16.2h0.8v0.9h-0.8zM173.4 16.8h0.9v0.8h-0.9zM165.2 16.0h0.6v0.7h-0.6zM162.4 17.3h1.1v0.7h-1.1zM158.1 18.6h1.1v0.7h-1.1zM159.0 15.9h1.1v1.2h-1.1zM161.2 17.5h0.9v1.1h-0.9zM144.9 17.9h1.1v1.1h-1.1zM153.5 17.8h1.0v1.1h-1.0zM153.7 16.3h0.9v0.8h-0.9zM154.4 15.5h0.9v0.7h-0.9zM155.8 13.7h1.2v1.2h-1.2zM169.5 16.9h0.9v1.2h-0.9zM166.5 17.9h1.0v1.1h-1.0zM143.2 15.1h1.1v1.0h-1.1zM161.0 16.6h0.8v1.0h-0.8zM161.2 16.8h0.9v0.7h-0.9zM149.4 16.6h1.0v0.8h-1.0zM172.1 16.3h1.0v1.1h-1.0zM167.3 15.6h0.7v1.2h-0.7z"/><path fill="#84bcd9" d="M159.8 16.9h0.7v1.2h-0.7zM150.4 16.7h0.8v0.7h-0.8zM160.7 17.8h0.8v1.1h-0.8zM169.0 15.0h0.7v1.2h-0.7zM172.1 17.8h0.7v0.9h-0.7zM157.3 17.0h1.1v0.8h-1.1zM155.1 18.8h0.9v1.2h-0.9zM170.0 15.1h0.6v0.8h-0.6zM182.0 16.7h0.8v0.8h-0.8zM173.5 20.1h1.2v0.9h-1.2zM145.5 15.5h0.8v0.8h-0.8zM137.8 18.1h1.1v1.2h-1.1zM154.7 13.2h0.8v1.2h-0.8zM175.2 18.4h0.8v1.2h-0.8zM172.6 17.2h1.1v0.7h-1.1zM161.7 14.9h0.7v0.9h-0.7zM156.1 16.6h1.2v1.0h-1.2zM144.8 15.8h0.6v1.2h-0.6zM151.7 14.4h1.2v0.7h-1.2zM146.7 16.2h0.8v1.2h-0.8zM150.5 19.3h1.1v0.7h-1.1zM162.5 19.1h0.9v0.9h-0.9zM160.7 18.0h0.9v1.1h-0.9zM154.2 16.4h1.2v0.6h-1.2zM171.8 16.5h0.7v0.7h-0.7zM162.0 16.3h0.8v0.9h-0.8zM155.7 19.2h0.9v0.8h-0.9zM170.0 14.4h1.0v0.7h-1.0zM155.7 14.1h0.7v1.0h-0.7zM177.4 15.5h0.8v0.9h-0.8zM137.5 17.8h1.1v1.0h-1.1zM191.6 18.3h1.0v1.1h-1.0z"/></g>
<ellipse cx="158.2" cy="20.8" rx="17.2" ry="0.9" fill="#f7b799" filter="url(#bl)"/>
<g><path fill="#d35a4a" d="M139.7 20.9h1.1v0.7h-1.1zM172.0 20.5h0.9v1.0h-0.9zM175.8 20.3h1.0v0.8h-1.0zM155.4 20.4h0.6v0.8h-0.6zM146.0 20.8h0.6v0.7h-0.6zM148.8 19.7h1.0v1.0h-1.0zM150.9 22.0h0.9v0.7h-0.9zM164.7 19.6h1.0v1.0h-1.0zM157.3 21.0h0.6v0.7h-0.6zM126.8 19.7h0.6v0.8h-0.6zM153.5 21.3h1.0v0.8h-1.0zM137.5 19.8h0.8v0.8h-0.8zM170.6 19.9h0.6v1.0h-0.6zM164.3 19.5h0.6v0.9h-0.6zM165.9 18.9h1.0v0.8h-1.0zM176.8 22.1h0.7v0.9h-0.7zM155.5 20.8h1.1v0.9h-1.1zM143.3 21.6h1.1v0.9h-1.1zM175.4 20.6h0.7v1.1h-0.7zM158.8 20.1h1.0v1.0h-1.0zM176.5 20.2h0.7v0.8h-0.7z"/><path fill="#f09c7b" d="M180.9 21.2h0.8v1.1h-0.8zM143.8 19.9h1.1v1.1h-1.1zM151.1 21.4h0.6v0.8h-0.6zM161.4 19.5h0.7v0.9h-0.7zM150.4 20.8h0.8v0.9h-0.8zM172.9 21.0h0.7v1.2h-0.7zM147.1 19.7h0.7v1.0h-0.7zM152.8 21.2h1.1v1.0h-1.1zM159.2 21.2h1.0v1.1h-1.0zM148.5 19.9h0.6v1.1h-0.6zM169.2 19.6h0.6v0.9h-0.6zM135.6 21.1h0.7v0.8h-0.7zM164.5 19.6h0.7v0.7h-0.7zM159.2 19.3h1.1v0.8h-1.1zM159.6 19.8h0.6v0.7h-0.6zM167.4 20.6h0.6v0.7h-0.6zM169.0 19.4h1.0v0.6h-1.0zM162.7 20.7h0.7v0.7h-0.7zM153.9 19.1h1.0v1.0h-1.0zM156.8 20.0h0.7v0.8h-0.7zM145.2 21.1h0.7v1.1h-0.7zM153.4 21.3h1.0v1.1h-1.0zM163.1 19.7h0.8v0.7h-0.8zM167.2 19.9h0.9v1.0h-0.9zM141.3 20.2h0.8v0.9h-0.8zM180.1 18.2h0.8v0.9h-0.8z"/><path fill="#f7b799" d="M179.8 19.4h1.1v0.9h-1.1zM142.2 20.2h0.8v1.0h-0.8zM164.5 21.2h1.0v1.1h-1.0zM140.0 21.2h1.1v1.1h-1.1zM148.8 19.6h0.6v1.0h-0.6zM158.1 19.0h1.0v0.7h-1.0zM162.0 22.6h1.0v0.7h-1.0zM148.8 20.9h1.0v0.7h-1.0zM165.2 20.6h0.7v1.0h-0.7zM176.4 20.7h0.9v0.8h-0.9zM162.0 19.8h1.0v0.8h-1.0zM156.2 20.4h1.0v0.8h-1.0zM158.3 20.7h0.6v1.0h-0.6zM149.3 21.1h0.8v0.8h-0.8zM156.2 18.2h0.8v0.7h-0.8zM155.1 21.1h0.6v0.9h-0.6zM151.8 20.8h1.0v0.6h-1.0zM149.6 20.5h0.8v1.0h-0.8zM154.1 22.2h0.7v0.7h-0.7zM156.6 19.5h0.9v0.6h-0.9zM160.0 20.3h0.6v0.9h-0.6zM170.6 20.4h1.0v0.6h-1.0z"/><path fill="#e27b62" d="M161.7 18.8h0.6v1.0h-0.6zM181.0 19.1h0.6v1.0h-0.6zM161.6 21.3h1.1v0.6h-1.1zM146.3 20.1h0.9v0.6h-0.9zM158.0 21.5h0.7v0.9h-0.7zM163.6 19.4h0.8v0.8h-0.8zM170.8 18.0h1.1v1.1h-1.1zM144.5 18.8h0.8v0.7h-0.8zM165.5 21.8h0.8v0.9h-0.8zM148.7 21.2h1.0v1.1h-1.0zM132.6 20.9h0.9v0.9h-0.9zM163.0 20.4h1.0v0.9h-1.0zM153.1 20.1h0.7v0.7h-0.7zM146.1 20.5h0.6v0.9h-0.6zM164.4 22.7h0.8v0.6h-0.8zM180.7 20.8h0.6v0.7h-0.6zM162.9 19.5h1.0v0.6h-1.0zM136.2 19.7h1.1v1.1h-1.1zM142.2 20.8h0.7v0.8h-0.7zM145.5 20.4h0.7v0.9h-0.7zM177.6 19.2h0.9v1.1h-0.9z"/></g>
<ellipse cx="156.5" cy="34.7" rx="4.6" ry="1.8" fill="#c5dfec" filter="url(#bl)"/>
<g><path fill="#fcd3bc" d="M156.7 22.2h1.0v1.0h-1.0zM168.8 34.4h0.7v1.0h-0.7zM194.1 29.6h0.7v1.1h-0.7zM160.1 32.9h0.9v1.1h-0.9zM152.5 35.0h0.9v1.1h-0.9zM148.5 30.5h0.9v0.8h-0.9zM143.8 31.5h1.0v0.7h-1.0zM160.8 30.0h0.9v1.1h-0.9zM172.0 33.9h1.0v0.8h-1.0zM151.3 30.7h0.7v1.0h-0.7zM161.0 34.0h1.0v0.8h-1.0zM159.2 30.7h1.0v1.2h-1.0zM171.1 22.3h1.0v1.1h-1.0zM140.8 26.0h0.9v1.0h-0.9zM176.8 33.0h1.0v1.1h-1.0zM162.3 28.2h1.2v1.0h-1.2zM169.1 27.7h1.0v1.1h-1.0zM166.1 30.4h1.0v0.7h-1.0zM142.1 25.8h0.9v1.1h-0.9zM153.5 36.0h0.8v0.7h-0.8zM159.9 26.9h0.9v1.0h-0.9zM151.2 27.8h1.0v0.9h-1.0zM165.0 27.8h1.1v1.0h-1.1zM145.2 29.9h1.1v1.0h-1.1zM150.7 30.7h1.2v0.6h-1.2zM166.2 20.3h0.6v1.1h-0.6zM176.7 26.5h0.7v0.7h-0.7zM134.4 24.3h0.9v0.6h-0.9zM163.9 24.8h1.0v0.9h-1.0zM148.6 32.0h0.7v1.2h-0.7zM156.4 34.0h1.0v1.2h-1.0zM141.3 43.5h0.9v1.0h-0.9zM160.2 39.1h1.0v1.2h-1.0zM153.1 37.8h0.8v1.1h-0.8zM162.0 30.3h1.1v0.9h-1.1zM159.9 36.4h0.8v1.1h-0.8zM156.5 30.1h1.1v0.8h-1.1zM170.4 32.4h0.7v0.9h-0.7zM168.0 30.3h0.7v0.9h-0.7zM143.5 25.8h0.8v0.7h-0.8zM153.1 20.7h0.8v0.8h-0.8zM175.3 32.5h1.1v1.2h-1.1zM166.3 28.9h1.2v1.1h-1.2zM163.1 21.9h1.2v0.8h-1.2zM147.6 27.8h1.0v1.2h-1.0zM175.4 27.0h0.6v0.9h-0.6zM166.9 25.7h0.6v0.7h-0.6zM181.3 27.0h1.2v1.0h-1.2zM150.7 29.1h1.1v0.9h-1.1zM149.8 27.9h1.0v0.9h-1.0zM148.4 28.2h0.8v1.1h-0.8zM159.0 25.9h0.8v0.7h-0.8z"/><path fill="#f7b799" d="M160.0 25.6h0.7v1.0h-0.7zM164.4 31.7h1.1v1.2h-1.1zM142.7 27.8h1.1v1.0h-1.1zM143.3 26.6h0.8v1.1h-0.8zM149.5 28.3h1.0v0.8h-1.0zM163.7 36.3h1.1v1.0h-1.1zM171.2 30.7h0.7v0.8h-0.7zM160.0 35.8h0.7v0.8h-0.7zM132.4 30.9h0.7v0.9h-0.7zM169.8 30.8h1.0v1.1h-1.0zM182.1 27.7h1.1v0.7h-1.1zM143.1 29.3h0.6v1.2h-0.6zM148.6 30.0h1.0v1.2h-1.0zM170.5 24.3h0.7v0.7h-0.7zM164.1 37.7h0.6v1.2h-0.6zM139.4 32.3h0.7v1.2h-0.7zM145.0 25.7h1.1v0.9h-1.1zM154.3 30.1h0.7v1.0h-0.7zM135.1 29.6h0.7v1.2h-0.7zM161.3 32.4h0.9v0.7h-0.9zM150.8 31.8h1.1v0.7h-1.1zM162.2 34.0h0.8v0.8h-0.8zM159.9 29.7h0.8v0.7h-0.8zM139.0 29.3h1.1v0.9h-1.1zM153.6 26.0h0.6v0.7h-0.6zM148.3 22.1h0.6v0.9h-0.6zM143.3 26.2h0.7v1.2h-0.7zM169.9 24.5h0.9v0.9h-0.9zM149.0 26.9h0.9v0.8h-0.9zM141.7 39.1h1.1v1.2h-1.1zM162.6 25.4h0.8v0.9h-0.8zM177.7 27.5h1.2v0.9h-1.2zM155.6 26.0h0.9v0.9h-0.9zM159.2 26.7h0.7v0.9h-0.7zM161.6 23.5h0.9v0.9h-0.9zM176.1 29.5h0.8v0.9h-0.8zM161.3 24.1h1.2v1.1h-1.2zM145.3 24.2h0.9v1.0h-0.9z"/><path fill="#dbeaf2" d="M146.6 31.4h1.1v1.0h-1.1zM158.4 33.8h0.9v1.0h-0.9zM152.0 30.0h0.7v0.8h-0.7zM159.6 30.5h0.8v0.9h-0.8zM148.9 38.0h0.9v0.8h-0.9zM172.3 32.8h0.7v0.9h-0.7zM148.1 30.8h0.9v1.2h-0.9zM159.8 28.3h1.1v0.8h-1.1zM155.8 31.4h0.6v0.8h-0.6zM149.4 30.7h0.6v0.6h-0.6zM156.8 31.6h1.1v1.2h-1.1zM170.6 29.7h0.7v0.7h-0.7zM165.6 30.7h0.9v1.2h-0.9zM158.8 34.9h0.7v1.0h-0.7zM169.9 25.6h0.7v1.2h-0.7zM150.1 35.1h1.0v0.7h-1.0zM138.3 30.0h0.8v1.1h-0.8zM163.7 26.2h1.1v1.0h-1.1zM174.2 25.1h0.9v0.8h-0.9zM159.6 30.1h0.8v0.8h-0.8zM177.6 28.5h1.2v0.9h-1.2zM156.1 24.4h0.7v1.2h-0.7zM150.0 28.6h1.0v1.2h-1.0zM167.8 30.6h0.7v0.9h-0.7zM169.0 26.0h0.6v0.8h-0.6zM153.0 33.9h0.7v1.1h-0.7zM155.2 29.5h1.2v0.7h-1.2zM141.4 24.2h0.9v0.7h-0.9zM163.9 27.5h0.7v1.0h-0.7zM145.9 21.6h1.1v0.6h-1.1zM169.4 33.4h0.7v0.7h-0.7zM146.1 30.4h1.1v0.9h-1.1zM139.6 25.5h0.8v1.0h-0.8zM156.2 26.3h0.7v0.7h-0.7zM130.7 27.3h0.6v0.7h-0.6zM155.7 31.3h1.2v0.7h-1.2zM147.0 35.2h0.8v1.2h-0.8zM172.5 28.5h1.1v0.8h-1.1zM154.7 34.5h0.9v0.8h-0.9zM156.9 27.1h1.0v1.0h-1.0z"/><path fill="#f8f1ed" d="M151.8 33.0h1.1v1.2h-1.1zM146.8 33.7h0.6v1.0h-0.6zM142.6 29.3h1.2v0.6h-1.2zM137.5 31.4h0.8v0.7h-0.8zM161.9 34.1h1.2v1.0h-1.2zM153.4 24.0h0.8v0.8h-0.8zM150.8 33.4h0.6v1.2h-0.6zM171.6 33.2h0.6v1.1h-0.6zM160.0 27.5h1.0v1.0h-1.0zM151.7 37.7h0.7v0.7h-0.7zM147.7 33.4h1.1v1.1h-1.1zM154.8 23.4h0.9v0.8h-0.9zM176.9 32.6h0.9v0.7h-0.9zM140.6 26.8h0.8v1.2h-0.8zM147.2 32.2h0.9v0.9h-0.9zM151.1 39.3h0.7v0.8h-0.7zM159.6 25.0h1.1v1.1h-1.1zM160.0 34.1h0.6v0.7h-0.6zM163.6 33.3h0.6v0.8h-0.6zM137.4 24.7h0.8v0.7h-0.8zM177.6 35.7h0.8v0.9h-0.8zM178.4 35.5h0.7v1.2h-0.7zM162.5 39.2h0.7v0.7h-0.7zM183.5 27.6h0.9v0.6h-0.9zM166.4 30.8h0.8v0.8h-0.8zM138.5 25.5h0.7v0.8h-0.7z"/><path fill="#fbe4d6" d="M163.9 27.3h0.9v1.0h-0.9zM155.8 23.1h1.2v0.9h-1.2zM168.9 28.5h0.6v0.6h-0.6zM154.1 25.2h0.8v0.7h-0.8zM152.0 29.9h0.8v1.2h-0.8zM152.0 30.1h1.1v1.2h-1.1zM171.2 27.6h0.7v0.7h-0.7zM150.1 39.6h0.7v0.8h-0.7zM141.4 32.7h0.7v1.1h-0.7zM158.3 23.5h0.9v1.2h-0.9zM135.3 24.7h0.7v1.2h-0.7zM153.2 33.6h1.1v1.2h-1.1zM149.5 19.2h1.2v0.9h-1.2zM145.5 26.3h0.7v0.8h-0.7zM144.6 26.8h0.7v1.2h-0.7zM151.0 32.5h0.7v0.7h-0.7zM157.5 32.6h0.7v1.2h-0.7zM142.4 29.2h1.0v1.0h-1.0zM169.6 22.3h0.7v0.7h-0.7zM151.8 37.5h0.9v0.9h-0.9zM139.7 27.1h1.1v0.9h-1.1zM166.5 33.2h1.1v0.7h-1.1zM144.4 32.1h0.9v1.1h-0.9zM137.5 23.9h1.0v1.2h-1.0zM166.0 24.4h0.8v0.8h-0.8zM170.4 30.5h0.9v0.7h-0.9zM151.8 31.5h1.0v1.1h-1.0zM172.0 24.9h1.0v1.0h-1.0zM155.5 22.3h0.8v0.7h-0.8zM158.6 30.1h0.9v0.7h-0.9zM146.2 30.8h0.7v1.0h-0.7zM174.9 34.9h0.9v0.8h-0.9zM162.0 29.6h1.1v1.1h-1.1zM150.8 23.6h0.7v0.8h-0.7zM161.9 23.6h1.1v0.9h-1.1zM168.8 33.5h1.1v0.8h-1.1zM175.3 37.2h1.0v0.7h-1.0zM155.2 26.2h1.2v0.9h-1.2zM167.9 29.5h1.0v1.2h-1.0zM157.5 20.3h1.0v1.1h-1.0zM154.8 26.9h0.7v1.1h-0.7zM162.3 39.7h0.9v1.0h-0.9zM145.2 30.6h1.1v0.9h-1.1zM177.8 36.0h0.7v1.2h-0.7z"/></g>
<ellipse cx="166.7" cy="33.5" rx="6.9" ry="4.7" fill="#fcd3bc" filter="url(#bl2)"/>
<ellipse cx="149.7" cy="39.4" rx="4.6" ry="4.7" fill="#f8f1ed" filter="url(#bl2)"/>
<ellipse cx="113.8" cy="48.3" rx="11.5" ry="2.1" fill="#e27b62" filter="url(#bl)"/>
<ellipse cx="112.1" cy="47.7" rx="5.8" ry="1.2" fill="#d35a4a" filter="url(#bl)"/>
<g><path fill="#d35a4a" d="M116.7 45.7h0.8v1.3h-0.8zM108.0 48.6h0.9v0.8h-0.9zM111.3 45.5h1.0v1.2h-1.0zM105.4 46.2h1.2v1.1h-1.2zM113.4 46.6h1.2v1.2h-1.2zM122.1 46.7h0.8v1.3h-0.8zM104.7 45.8h1.2v1.0h-1.2zM124.4 48.3h1.0v1.2h-1.0zM117.6 47.9h0.7v0.9h-0.7zM109.2 47.2h1.2v1.1h-1.2zM117.4 47.1h0.7v1.1h-0.7zM107.9 47.6h1.2v0.8h-1.2zM97.8 47.1h0.7v1.3h-0.7zM114.1 50.9h0.9v0.7h-0.9zM122.0 46.7h1.1v1.0h-1.1zM105.5 47.8h0.9v1.0h-0.9zM110.3 50.1h1.2v0.9h-1.2zM113.6 47.9h1.3v0.7h-1.3zM105.3 49.9h0.8v1.0h-0.8zM112.7 49.2h1.2v0.9h-1.2zM96.7 44.4h0.9v0.9h-0.9zM110.9 45.0h0.8v1.0h-0.8zM126.8 46.4h1.0v1.2h-1.0zM104.1 48.5h0.9v1.1h-0.9zM104.0 48.1h1.1v1.1h-1.1zM107.4 47.1h1.2v1.1h-1.2zM124.1 47.0h1.0v0.7h-1.0zM118.3 47.6h1.3v1.0h-1.3zM110.7 45.8h0.8v0.7h-0.8z"/><path fill="#e27b62" d="M121.5 44.5h0.8v0.8h-0.8zM133.8 47.7h1.1v0.9h-1.1zM97.2 47.7h0.8v1.1h-0.8zM119.4 49.9h0.8v1.2h-0.8zM117.8 47.0h1.3v1.0h-1.3zM100.0 50.7h1.1v0.8h-1.1zM110.4 46.8h1.1v0.9h-1.1zM105.5 50.1h0.8v0.8h-0.8zM115.6 46.3h0.9v1.2h-0.9zM116.1 49.3h1.1v0.9h-1.1zM111.1 46.5h0.9v1.1h-0.9zM107.3 46.5h0.7v0.9h-0.7zM119.4 51.0h0.9v1.1h-0.9zM102.9 52.2h1.1v1.1h-1.1zM108.7 46.4h1.1v1.2h-1.1zM122.9 49.3h0.7v1.3h-0.7zM117.9 46.5h1.3v0.9h-1.3z"/><path fill="#f7b799" d="M105.2 46.6h0.8v0.9h-0.8zM110.2 47.1h1.0v1.0h-1.0zM113.1 48.4h1.0v1.3h-1.0zM106.6 49.3h0.7v0.8h-0.7zM105.3 50.7h0.9v0.9h-0.9zM108.3 47.3h1.1v0.9h-1.1zM106.5 50.7h0.7v0.8h-0.7zM110.9 49.9h0.6v1.0h-0.6zM104.1 47.0h1.2v1.2h-1.2zM104.8 46.7h1.1v1.3h-1.1zM118.1 46.9h1.0v1.3h-1.0zM117.2 48.2h0.8v1.0h-0.8zM117.7 47.8h0.7v1.0h-0.7zM113.3 47.5h1.3v0.8h-1.3zM107.7 47.8h0.7v1.3h-0.7zM113.7 46.6h0.8v0.8h-0.8zM115.8 46.9h1.1v0.9h-1.1zM112.4 49.2h1.2v1.2h-1.2zM118.2 44.1h1.2v1.0h-1.2zM112.6 49.0h0.7v1.2h-0.7zM113.9 45.7h0.8v0.7h-0.8zM121.8 47.8h1.2v0.7h-1.2zM105.2 46.1h0.9v0.7h-0.9zM95.0 48.5h1.2v1.2h-1.2zM120.7 47.0h1.2v1.3h-1.2zM95.6 48.0h1.1v0.9h-1.1z"/><path fill="#f09c7b" d="M101.5 49.8h1.3v0.8h-1.3zM116.3 49.4h1.1v1.2h-1.1zM117.5 48.3h0.7v1.0h-0.7zM130.2 47.6h1.0v0.9h-1.0zM118.5 50.2h0.8v0.7h-0.8zM109.5 49.2h1.0v0.9h-1.0zM118.4 47.8h0.8v1.1h-0.8zM94.8 48.0h0.8v1.3h-0.8zM123.2 47.2h1.0v1.3h-1.0zM120.6 48.3h1.2v0.8h-1.2zM111.0 48.3h1.2v0.9h-1.2zM106.2 48.2h0.8v1.2h-0.8zM111.1 47.5h1.1v0.8h-1.1zM118.6 50.1h0.8v1.3h-0.8zM103.3 47.5h1.0v0.8h-1.0zM122.3 52.1h0.7v1.2h-0.7zM117.0 49.4h0.8v0.8h-0.8zM110.2 49.2h1.0v0.8h-1.0z"/></g>
<ellipse cx="119.7" cy="60.7" rx="6.3" ry="5.3" fill="#f09c7b" filter="url(#bl2)"/>
<ellipse cx="118.5" cy="59.6" rx="2.3" ry="1.8" fill="#d35a4a" filter="url(#bl)"/>
<g><path fill="#d35a4a" d="M124.9 55.7h1.2v0.8h-1.2zM111.6 69.4h1.0v1.1h-1.0zM111.9 56.6h0.7v1.0h-0.7zM118.2 56.9h1.1v0.9h-1.1zM126.8 64.1h1.1v0.8h-1.1zM114.2 49.9h0.7v1.1h-0.7zM122.3 68.4h0.9v0.8h-0.9zM118.5 56.4h1.2v1.1h-1.2zM126.3 59.3h1.1v1.2h-1.1zM120.2 61.2h1.1v0.8h-1.1zM125.3 68.6h1.0v1.1h-1.0zM115.7 56.9h1.1v0.9h-1.1zM116.6 59.3h1.1v0.7h-1.1zM104.3 64.8h0.9v1.0h-0.9zM118.5 63.2h1.0v0.8h-1.0zM121.3 61.8h0.9v0.9h-0.9zM115.3 61.6h0.7v1.0h-0.7zM113.7 57.5h0.9v0.9h-0.9zM117.6 56.2h0.7v1.1h-0.7zM110.5 64.6h1.0v1.3h-1.0zM119.8 69.6h0.9v1.2h-0.9zM114.6 69.2h0.8v1.1h-0.8zM116.9 58.0h1.0v0.9h-1.0zM120.0 60.2h1.0v1.3h-1.0zM132.9 70.9h0.8v1.0h-0.8zM126.9 58.6h1.1v0.7h-1.1zM112.2 63.2h1.2v0.9h-1.2zM124.6 57.0h1.2v1.3h-1.2zM123.1 64.3h1.1v1.1h-1.1zM118.2 56.7h1.1v1.0h-1.1zM119.5 60.3h1.3v1.1h-1.3zM122.4 59.5h0.7v0.7h-0.7zM115.7 50.3h0.9v0.7h-0.9zM119.9 65.7h0.7v0.7h-0.7zM118.5 70.7h0.7v0.8h-0.7zM118.9 62.9h1.1v0.7h-1.1z"/><path fill="#fcd3bc" d="M118.4 52.1h0.8v1.1h-0.8zM113.4 56.2h1.2v0.7h-1.2zM119.6 58.8h1.0v0.8h-1.0zM116.1 66.9h0.8v1.0h-0.8zM117.9 55.1h1.3v0.9h-1.3zM114.8 55.2h0.8v0.9h-0.8zM121.3 54.0h1.2v0.7h-1.2zM114.7 60.5h1.0v1.2h-1.0zM120.9 62.7h0.9v1.2h-0.9zM125.0 62.1h0.7v1.1h-0.7zM123.3 60.9h1.2v0.9h-1.2zM112.6 73.4h1.3v1.2h-1.3zM126.8 56.5h1.2v1.0h-1.2zM110.7 62.0h0.9v0.9h-0.9zM110.1 61.5h0.8v1.0h-0.8zM125.6 53.2h1.2v0.7h-1.2zM120.3 63.4h1.3v1.2h-1.3zM117.7 61.9h0.8v1.2h-0.8zM126.6 68.2h0.7v1.3h-0.7zM121.4 59.8h0.8v0.8h-0.8zM118.7 61.3h1.1v0.8h-1.1zM106.9 56.7h1.1v0.7h-1.1zM130.4 65.1h0.9v0.9h-0.9zM125.4 64.3h1.1v0.8h-1.1zM120.2 61.5h1.1v1.2h-1.1zM115.1 54.8h1.0v1.2h-1.0zM116.8 48.0h0.9v1.2h-0.9zM129.5 66.7h1.1v0.9h-1.1zM116.7 59.1h0.8v0.8h-0.8zM129.7 61.6h1.2v0.9h-1.2zM123.3 57.2h1.2v0.7h-1.2zM125.4 60.8h0.8v1.3h-0.8zM117.2 60.8h0.9v1.0h-0.9zM126.4 66.1h1.3v1.0h-1.3zM125.0 57.5h1.0v1.0h-1.0z"/><path fill="#f7b799" d="M111.4 55.1h0.8v1.2h-0.8zM122.1 57.3h0.8v1.2h-0.8zM126.9 70.3h1.0v1.0h-1.0zM121.3 58.8h1.3v1.1h-1.3zM127.5 63.2h0.8v1.2h-0.8zM116.6 71.9h1.0v1.1h-1.0zM110.5 57.0h0.8v0.7h-0.8zM126.4 52.8h1.1v0.8h-1.1zM119.7 64.0h1.1v0.8h-1.1zM124.5 63.7h1.2v0.7h-1.2zM119.9 62.9h1.2v1.3h-1.2zM118.3 62.0h1.3v0.8h-1.3zM115.4 67.7h1.0v1.2h-1.0zM115.2 59.0h1.0v1.1h-1.0zM104.3 62.9h0.7v0.9h-0.7zM120.4 52.8h0.8v1.0h-0.8zM109.7 60.3h1.0v0.8h-1.0zM109.4 65.3h0.8v1.0h-0.8zM121.5 50.4h1.1v1.0h-1.1zM125.0 60.3h1.2v0.7h-1.2zM119.6 60.6h0.9v1.0h-0.9zM124.4 66.9h1.0v1.1h-1.0zM112.9 62.4h0.8v1.3h-0.8zM114.0 60.0h1.0v1.1h-1.0zM116.1 60.1h1.0v0.8h-1.0zM122.1 62.0h0.9v1.3h-0.9zM127.6 64.1h0.6v0.9h-0.6z"/><path fill="#e27b62" d="M114.7 51.9h1.2v1.1h-1.2zM122.6 55.3h0.8v1.1h-0.8zM115.1 59.9h1.0v0.7h-1.0zM119.7 63.0h0.7v0.8h-0.7zM110.1 56.0h0.9v0.8h-0.9zM115.9 48.7h1.3v0.7h-1.3zM113.8 67.0h1.3v1.1h-1.3zM106.7 58.4h0.7v1.1h-0.7zM127.3 56.7h0.7v1.3h-0.7zM118.4 61.4h1.2v1.2h-1.2zM114.0 57.4h1.1v0.9h-1.1zM110.0 59.3h0.9v1.0h-0.9zM121.2 64.3h1.0v0.8h-1.0zM125.9 57.7h0.7v1.0h-0.7zM121.1 72.8h0.9v0.8h-0.9zM124.0 62.2h1.0v0.8h-1.0zM110.7 62.9h1.1v1.2h-1.1zM127.4 60.3h0.7v0.8h-0.7zM120.6 52.3h1.3v1.3h-1.3zM124.2 63.3h1.2v1.0h-1.2zM111.1 64.3h0.9v0.9h-0.9zM127.2 59.8h0.7v1.2h-0.7zM125.6 53.6h0.9v1.0h-0.9zM117.2 62.7h0.7v1.0h-0.7zM120.8 55.3h0.8v0.9h-0.8zM119.5 63.9h1.0v0.9h-1.0zM122.6 64.3h0.7v0.9h-0.7zM116.1 52.4h1.2v0.8h-1.2zM130.2 64.0h0.8v1.0h-0.8zM123.7 57.4h0.6v1.1h-0.6zM122.3 63.0h1.1v0.8h-1.1zM114.3 57.9h1.2v0.7h-1.2zM113.8 68.4h1.0v0.9h-1.0zM106.4 55.1h1.3v1.0h-1.3zM115.0 63.4h0.7v1.3h-0.7zM117.6 57.0h1.0v1.1h-1.0zM119.3 61.2h1.1v0.9h-1.1zM124.6 61.0h0.7v1.1h-0.7zM128.2 62.8h0.7v0.7h-0.7zM124.9 65.7h1.0v0.8h-1.0z"/><path fill="#f09c7b" d="M121.2 53.0h0.8v1.0h-0.8zM114.9 56.9h0.9v0.7h-0.9zM112.7 54.9h0.9v1.0h-0.9zM121.4 58.1h0.8v1.2h-0.8zM120.7 56.1h0.9v1.1h-0.9zM114.4 68.7h1.2v0.7h-1.2zM116.5 61.0h1.2v0.8h-1.2zM121.1 62.9h1.2v0.8h-1.2zM123.1 69.7h0.7v1.0h-0.7zM119.0 55.9h0.8v1.2h-0.8zM120.4 61.0h1.3v1.0h-1.3zM120.3 57.8h0.9v0.8h-0.9zM126.7 62.9h1.0v0.7h-1.0zM120.3 45.3h0.7v1.1h-0.7zM118.7 68.0h1.1v1.2h-1.1zM119.6 64.0h0.9v1.1h-0.9zM124.3 59.3h1.3v1.0h-1.3zM127.4 58.8h1.0v1.2h-1.0zM120.1 63.0h1.2v1.0h-1.2zM115.0 60.6h1.1v0.8h-1.1zM114.1 62.3h1.2v1.2h-1.2zM120.1 59.3h0.8v0.8h-0.8z"/></g>
<ellipse cx="188.6" cy="74.4" rx="1.7" ry="1.2" fill="#d35a4a" filter="url(#bl)"/>
<ellipse cx="181.1" cy="67.3" rx="8.0" ry="5.3" fill="#f8f1ed" filter="url(#bl2)"/>
<ellipse cx="168.9" cy="20.8" rx="1.4" ry="0.9" fill="#b1182b" filter="url(#bl)"/>
</g>
<use href="#casp" fill="#fff"/>
<path d="M34.4 0V88.0M68.4 0V88.0M103.3 0V88.0M138.4 0V88.0M172.3 0V88.0M0 5.1H207.3M0 16.9H207.3M0 28.8H207.3M0 40.6H207.3M0 52.5H207.3M0 64.3H207.3M0 76.1H207.3" stroke="#c6c6c6" stroke-width="0.85" fill="none"/>
<use href="#land" fill="none" stroke="#111" stroke-width="0.88" stroke-linejoin="round"/>
<use href="#casp" fill="none" stroke="#111" stroke-width="0.88"/>
</g>
<path d="M0 0H207.3V88.0H0" fill="none" stroke="#606060" stroke-width="0.9"/>
<path d="M-0.1 -0.4V88.4" stroke="#b4b4b4" stroke-width="1.7"/>
<text x="34.4" y="-1.5" font-size="6.1" textLength="16.57" lengthAdjust="spacingAndGlyphs" text-anchor="middle">120°W</text>
<text x="34.4" y="93.2" font-size="6.1" textLength="16.57" lengthAdjust="spacingAndGlyphs" text-anchor="middle">120°W</text>
<text x="68.4" y="-1.5" font-size="6.1" textLength="13.51" lengthAdjust="spacingAndGlyphs" text-anchor="middle">60°W</text>
<text x="68.4" y="93.2" font-size="6.1" textLength="13.51" lengthAdjust="spacingAndGlyphs" text-anchor="middle">60°W</text>
<text x="103.3" y="-1.5" font-size="6.1" textLength="5.26" lengthAdjust="spacingAndGlyphs" text-anchor="middle">0°</text>
<text x="103.3" y="93.2" font-size="6.1" textLength="5.26" lengthAdjust="spacingAndGlyphs" text-anchor="middle">0°</text>
<text x="138.4" y="-1.5" font-size="6.1" textLength="11.99" lengthAdjust="spacingAndGlyphs" text-anchor="middle">60°E</text>
<text x="138.4" y="93.2" font-size="6.1" textLength="11.99" lengthAdjust="spacingAndGlyphs" text-anchor="middle">60°E</text>
<text x="172.3" y="-1.5" font-size="6.1" textLength="15.04" lengthAdjust="spacingAndGlyphs" text-anchor="middle">120°E</text>
<text x="172.3" y="93.2" font-size="6.1" textLength="15.04" lengthAdjust="spacingAndGlyphs" text-anchor="middle">120°E</text>
<text x="-0.5" y="7.4" font-size="6.1" textLength="12.29" lengthAdjust="spacingAndGlyphs" text-anchor="end">80°N</text>
<text x="208.0" y="7.4" font-size="6.1" textLength="12.29" lengthAdjust="spacingAndGlyphs">80°N</text>
<text x="-0.5" y="19.2" font-size="6.1" textLength="12.29" lengthAdjust="spacingAndGlyphs" text-anchor="end">60°N</text>
<text x="208.0" y="19.2" font-size="6.1" textLength="12.29" lengthAdjust="spacingAndGlyphs">60°N</text>
<text x="-0.5" y="31.1" font-size="6.1" textLength="12.29" lengthAdjust="spacingAndGlyphs" text-anchor="end">40°N</text>
<text x="208.0" y="31.1" font-size="6.1" textLength="12.29" lengthAdjust="spacingAndGlyphs">40°N</text>
<text x="-0.5" y="42.9" font-size="6.1" textLength="12.29" lengthAdjust="spacingAndGlyphs" text-anchor="end">20°N</text>
<text x="208.0" y="42.9" font-size="6.1" textLength="12.29" lengthAdjust="spacingAndGlyphs">20°N</text>
<text x="-0.5" y="54.8" font-size="6.1" textLength="5.26" lengthAdjust="spacingAndGlyphs" text-anchor="end">0°</text>
<text x="208.0" y="54.8" font-size="6.1" textLength="5.26" lengthAdjust="spacingAndGlyphs">0°</text>
<text x="-0.5" y="66.6" font-size="6.1" textLength="11.99" lengthAdjust="spacingAndGlyphs" text-anchor="end">20°S</text>
<text x="208.0" y="66.6" font-size="6.1" textLength="11.99" lengthAdjust="spacingAndGlyphs">20°S</text>
<text x="-0.5" y="78.4" font-size="6.1" textLength="11.99" lengthAdjust="spacingAndGlyphs" text-anchor="end">40°S</text>
<text x="208.0" y="78.4" font-size="6.1" textLength="11.99" lengthAdjust="spacingAndGlyphs">40°S</text>
<text x="-0.5" y="90.3" font-size="6.1" textLength="11.99" lengthAdjust="spacingAndGlyphs" text-anchor="end">60°S</text>
<text x="208.0" y="90.3" font-size="6.1" textLength="11.99" lengthAdjust="spacingAndGlyphs">60°S</text>
<text x="103.7" y="-7.4" font-size="8.3" text-anchor="middle" textLength="32.6" lengthAdjust="spacingAndGlyphs">CT NOAA</text>
</g>
<g transform="translate(274.10,135.05)">
<g clip-path="url(#fc)"><g clip-path="url(#lc)">
<rect x="0" y="0" width="207.3" height="88.0" fill="#f2f0f1"/>
<ellipse cx="35.0" cy="27.0" rx="3.4" ry="3.6" fill="#84bcd9" filter="url(#bl)"/>
<ellipse cx="48.6" cy="33.5" rx="2.3" ry="1.8" fill="#5fa5cd" filter="url(#bl)"/>
<g><path fill="#f09c7b" d="M50.9 17.7h0.7v0.6h-0.7zM42.1 18.8h0.9v0.7h-0.9zM40.6 18.4h0.8v0.7h-0.8zM51.6 13.3h0.6v1.1h-0.6zM41.3 14.6h1.0v1.1h-1.0zM26.6 20.1h0.7v1.1h-0.7zM56.8 20.3h0.9v0.9h-0.9zM27.8 16.8h0.8v0.9h-0.8zM49.6 19.7h0.6v0.9h-0.6zM36.9 22.4h1.2v0.8h-1.2zM46.6 17.0h0.7v1.1h-0.7zM44.5 18.1h1.2v1.0h-1.2zM50.8 12.8h0.6v1.0h-0.6zM53.3 18.1h1.0v0.8h-1.0zM52.7 18.5h0.9v0.7h-0.9zM34.7 17.2h1.2v0.8h-1.2zM63.0 16.8h1.1v0.7h-1.1zM43.4 19.2h0.9v0.8h-0.9zM42.8 19.8h0.9v0.7h-0.9zM62.1 15.4h0.9v0.7h-0.9zM41.5 16.3h1.0v1.2h-1.0zM43.0 19.9h0.9v1.0h-0.9zM50.9 19.8h0.9v0.9h-0.9zM58.4 21.7h0.7v0.9h-0.7zM41.6 14.9h0.9v0.7h-0.9zM44.1 17.4h0.6v1.0h-0.6z"/><path fill="#f7b799" d="M58.7 18.5h0.7v1.1h-0.7zM33.5 15.7h0.7v0.8h-0.7zM56.5 20.2h0.7v0.9h-0.7zM38.5 16.2h0.9v0.8h-0.9zM38.0 13.5h0.7v0.7h-0.7zM63.3 11.5h0.9v0.9h-0.9zM11.4 15.0h0.7v1.2h-0.7zM60.1 16.5h1.1v1.2h-1.1zM41.9 20.3h0.9v1.1h-0.9zM34.8 17.9h1.2v1.1h-1.2zM46.0 12.7h0.9v1.1h-0.9zM47.9 20.3h1.1v0.8h-1.1zM43.9 12.4h0.7v1.2h-0.7zM28.2 20.6h0.9v1.0h-0.9zM53.8 14.5h0.9v1.0h-0.9zM54.7 21.9h0.9v1.2h-0.9zM49.4 17.1h0.9v0.7h-0.9zM49.6 17.5h0.8v0.8h-0.8zM37.2 16.9h1.0v1.2h-1.0zM59.0 16.7h0.8v1.1h-0.8zM63.1 24.7h1.0v0.7h-1.0zM45.3 14.8h1.0v1.1h-1.0zM28.9 14.1h0.7v1.0h-0.7zM34.4 21.0h0.9v1.1h-0.9zM31.2 16.3h1.2v1.2h-1.2z"/><path fill="#fcd3bc" d="M32.9 19.2h1.1v0.8h-1.1zM75.5 19.3h1.1v0.8h-1.1zM58.7 19.2h1.0v0.8h-1.0zM39.5 15.7h0.9v0.7h-0.9zM71.5 13.8h1.2v0.7h-1.2zM34.7 23.5h0.8v1.1h-0.8zM55.9 17.8h0.7v1.0h-0.7zM39.2 18.4h1.0v0.8h-1.0zM32.0 14.5h1.2v1.2h-1.2zM65.4 18.0h0.8v1.1h-0.8zM46.1 20.1h0.8v1.1h-0.8zM36.2 16.0h1.0v1.1h-1.0zM50.5 20.0h0.7v0.8h-0.7zM49.3 15.0h0.9v1.0h-0.9zM37.1 15.9h1.2v0.9h-1.2zM47.3 21.5h0.8v0.8h-0.8zM45.8 15.9h0.7v1.1h-0.7zM44.7 17.5h1.2v1.2h-1.2zM40.4 10.8h0.6v0.9h-0.6zM61.6 16.6h0.9v1.2h-0.9zM51.8 16.5h0.6v0.8h-0.6zM46.1 19.9h0.6v1.0h-0.6zM48.6 16.8h0.7v0.7h-0.7zM34.4 15.1h1.1v1.2h-1.1zM42.0 19.2h1.1v1.1h-1.1zM39.1 17.3h1.0v0.9h-1.0zM39.1 18.1h1.2v1.1h-1.2zM62.1 15.0h0.7v0.7h-0.7z"/><path fill="#fbe4d6" d="M52.5 14.8h0.7v0.7h-0.7zM47.3 19.5h1.2v0.9h-1.2zM37.0 18.0h1.0v1.1h-1.0zM60.7 17.1h0.8v0.7h-0.8zM43.1 19.3h0.8v1.1h-0.8zM61.0 23.4h0.8v1.1h-0.8zM37.5 12.6h0.8v1.1h-0.8zM46.8 14.4h1.1v1.0h-1.1zM22.8 18.2h1.1v0.9h-1.1zM32.4 17.5h0.9v0.9h-0.9zM35.8 22.2h0.7v1.2h-0.7zM64.7 18.5h0.9v1.0h-0.9zM31.4 13.1h1.1v1.0h-1.1zM39.2 17.2h1.0v0.8h-1.0zM53.6 20.0h0.7v1.1h-0.7zM46.1 19.5h1.1v1.0h-1.1zM23.6 18.8h1.1v1.0h-1.1zM51.6 15.1h1.1v0.9h-1.1zM47.7 16.4h0.7v1.1h-0.7zM44.0 20.9h1.2v0.7h-1.2zM61.6 19.8h1.1v0.7h-1.1zM48.9 17.6h0.9v0.8h-0.9zM55.9 20.0h0.9v0.9h-0.9zM61.6 17.8h1.0v1.0h-1.0zM42.1 18.6h1.0v0.9h-1.0zM43.3 15.5h1.2v0.9h-1.2zM45.0 18.0h0.9v1.0h-0.9zM39.4 11.5h0.7v0.8h-0.7zM56.9 15.2h0.8v0.8h-0.8zM28.4 17.0h1.2v0.7h-1.2zM30.5 12.6h0.8v1.2h-0.8zM52.7 15.8h0.8v1.1h-0.8zM41.3 18.1h0.9v1.0h-0.9zM51.1 21.0h0.6v1.2h-0.6zM39.6 19.7h1.1v0.9h-1.1zM36.5 16.6h0.9v1.2h-0.9zM47.3 18.1h1.1v1.1h-1.1zM30.1 17.8h0.8v1.2h-0.8zM39.5 15.1h1.1v0.8h-1.1zM60.6 18.0h0.7v0.9h-0.7zM55.5 18.9h1.1v1.1h-1.1z"/></g>
<ellipse cx="51.4" cy="43.0" rx="4.0" ry="2.4" fill="#c2383a" filter="url(#bl)"/>
<ellipse cx="54.8" cy="45.9" rx="1.7" ry="1.8" fill="#d35a4a" filter="url(#bl)"/>
<ellipse cx="65.0" cy="50.7" rx="7.5" ry="3.6" fill="#c2383a" filter="url(#bl2)"/>
<ellipse cx="63.9" cy="55.4" rx="6.3" ry="5.9" fill="#b1182b" filter="url(#bl2)"/>
<ellipse cx="62.7" cy="55.4" rx="4.6" ry="4.7" fill="#8d0c25" filter="url(#bl)"/>
<ellipse cx="61.6" cy="56.0" rx="2.9" ry="3.6" fill="#67001f" filter="url(#bl)"/>
<ellipse cx="67.3" cy="53.0" rx="2.9" ry="2.4" fill="#8d0c25" filter="url(#bl)"/>
<ellipse cx="79.5" cy="57.8" rx="4.0" ry="4.7" fill="#3f8ec0" filter="url(#bl2)"/>
<ellipse cx="80.6" cy="56.6" rx="2.3" ry="2.4" fill="#124984" filter="url(#bl)"/>
<ellipse cx="76.5" cy="60.7" rx="1.7" ry="2.4" fill="#a7d0e4" filter="url(#bl)"/>
<ellipse cx="71.9" cy="63.1" rx="4.0" ry="7.1" fill="#e27b62" filter="url(#bl2)"/>
<g><path fill="#f09c7b" d="M73.5 61.0h1.0v0.8h-1.0zM72.4 62.3h0.9v1.1h-0.9zM73.3 64.0h0.9v1.0h-0.9zM68.0 71.5h0.9v0.7h-0.9zM72.8 64.9h0.6v0.8h-0.6zM68.4 63.2h0.9v1.2h-0.9zM68.1 57.8h0.7v1.1h-0.7zM66.7 63.2h1.0v0.7h-1.0zM72.6 65.2h1.1v0.9h-1.1zM72.0 57.2h0.9v1.2h-0.9zM70.3 60.8h0.7v1.0h-0.7zM78.1 62.4h0.6v0.7h-0.6zM74.1 63.2h0.8v1.0h-0.8zM69.6 62.9h1.0v1.2h-1.0zM67.2 60.3h1.0v1.1h-1.0zM71.9 65.3h0.8v1.2h-0.8zM66.3 54.9h0.9v0.6h-0.9zM73.1 64.5h0.8v0.7h-0.8zM67.7 68.5h1.0v0.7h-1.0zM66.0 61.9h1.1v1.2h-1.1zM71.8 55.1h1.2v1.0h-1.2zM73.2 62.1h0.8v0.9h-0.8zM69.3 65.3h1.1v0.8h-1.1zM76.0 67.9h1.1v0.8h-1.1zM74.0 76.9h0.8v0.8h-0.8zM67.8 55.9h1.0v1.0h-1.0z"/><path fill="#c2383a" d="M63.3 64.6h0.8v0.6h-0.8zM65.3 61.1h0.7v1.2h-0.7zM72.3 69.6h1.0v0.8h-1.0zM71.5 63.1h0.7v0.7h-0.7zM74.7 66.4h0.8v1.1h-0.8zM71.0 58.8h0.8v1.0h-0.8zM69.1 65.9h0.7v1.0h-0.7zM74.1 61.8h1.1v1.1h-1.1zM73.8 63.3h1.0v1.2h-1.0zM77.6 63.1h1.2v1.1h-1.2zM72.8 66.4h1.2v0.8h-1.2zM71.2 61.5h0.6v1.1h-0.6zM70.6 63.8h1.0v1.0h-1.0zM69.3 64.1h1.1v1.1h-1.1zM74.8 57.8h0.8v0.9h-0.8zM69.7 68.9h0.8v1.0h-0.8zM66.8 53.5h0.7v0.9h-0.7zM75.2 54.1h0.9v1.1h-0.9z"/><path fill="#e27b62" d="M71.5 65.3h0.9v1.1h-0.9zM69.7 60.3h0.9v0.9h-0.9zM71.6 62.6h0.7v0.6h-0.7zM74.2 56.4h0.9v1.2h-0.9zM68.2 55.5h0.9v1.2h-0.9zM75.3 69.4h0.8v0.7h-0.8zM72.2 53.0h0.7v1.2h-0.7zM68.6 56.7h1.0v0.8h-1.0zM72.2 58.3h0.6v0.9h-0.6zM68.0 67.1h0.8v0.7h-0.8zM68.7 56.7h1.0v1.0h-1.0zM69.0 68.6h1.1v1.0h-1.1zM75.5 56.6h1.1v1.0h-1.1zM74.6 54.5h1.0v1.1h-1.0zM65.8 68.5h0.7v1.1h-0.7zM71.1 66.7h0.9v1.2h-0.9zM70.1 59.2h0.7v1.0h-0.7zM75.1 59.5h0.9v0.7h-0.9zM70.2 68.1h1.2v1.2h-1.2zM69.9 55.0h0.9v0.7h-0.9zM73.6 50.4h0.8v0.9h-0.8zM72.7 61.7h0.7v0.9h-0.7zM68.9 68.9h0.6v0.7h-0.6zM72.3 64.5h0.9v0.8h-0.9zM68.3 58.2h0.6v1.2h-0.6zM65.9 63.3h0.7v1.0h-0.7zM64.1 65.8h0.7v0.6h-0.7z"/><path fill="#d35a4a" d="M72.3 58.5h0.9v0.8h-0.9zM75.6 61.2h0.9v0.9h-0.9zM75.5 65.9h0.7v0.8h-0.7zM72.1 69.8h0.8v0.7h-0.8zM78.6 62.3h1.0v1.1h-1.0zM75.7 61.7h0.7v1.0h-0.7zM69.6 55.4h1.1v0.6h-1.1zM66.5 65.6h0.7v0.9h-0.7zM61.5 67.4h0.8v0.7h-0.8zM77.1 63.0h0.7v0.8h-0.7zM71.6 65.3h0.8v1.1h-0.8zM68.5 60.7h1.1v0.9h-1.1zM72.0 64.0h0.7v0.7h-0.7zM71.7 57.0h0.6v1.1h-0.6zM73.5 65.3h1.0v1.0h-1.0zM73.4 66.6h1.1v0.9h-1.1zM69.1 63.8h0.8v0.7h-0.8zM70.4 66.1h1.1v1.1h-1.1zM71.7 62.7h1.0v1.1h-1.0z"/><path fill="#f7b799" d="M74.6 68.3h0.9v0.8h-0.9zM68.8 51.5h1.2v0.8h-1.2zM76.3 57.7h1.2v0.7h-1.2zM69.8 65.5h0.9v1.0h-0.9zM71.6 58.6h1.2v1.1h-1.2zM73.9 57.9h0.9v0.7h-0.9zM72.3 75.5h0.8v0.7h-0.8zM80.8 56.3h0.7v0.7h-0.7zM69.7 67.8h1.0v1.1h-1.0zM71.6 63.4h0.7v1.0h-0.7zM71.6 67.7h1.1v1.1h-1.1zM71.1 62.2h0.9v0.9h-0.9zM67.4 62.0h0.8v0.7h-0.8zM72.8 78.9h1.1v1.0h-1.1zM78.0 70.6h1.2v1.0h-1.2zM67.3 69.1h0.7v0.9h-0.7zM68.1 60.2h0.9v0.8h-0.9zM75.7 67.6h1.0v0.7h-1.0zM67.2 75.1h0.8v0.8h-0.8zM75.4 63.5h0.7v0.7h-0.7z"/></g>
<ellipse cx="66.7" cy="72.6" rx="3.4" ry="3.6" fill="#fbe4d6" filter="url(#bl2)"/>
<g><path fill="#e27b62" d="M62.7 74.6h0.8v1.0h-0.8zM64.5 66.4h0.8v1.0h-0.8zM64.7 74.7h0.8v1.0h-0.8zM66.0 70.6h0.7v0.9h-0.7zM65.8 76.8h1.0v0.8h-1.0zM62.4 71.1h0.7v0.9h-0.7zM65.3 77.9h1.0v0.6h-1.0zM65.9 75.9h0.8v1.0h-0.8z"/><path fill="#fbe4d6" d="M62.8 73.1h1.0v1.0h-1.0zM66.1 80.3h0.7v1.0h-0.7zM69.7 74.4h0.7v1.0h-0.7zM63.8 67.4h0.7v0.6h-0.7zM66.8 71.5h0.9v0.8h-0.9zM62.2 76.3h0.8v1.0h-0.8zM63.9 70.8h1.0v1.0h-1.0zM66.0 76.9h0.6v0.9h-0.6zM71.5 76.1h0.9v0.6h-0.9zM65.9 66.6h0.6v1.0h-0.6z"/><path fill="#f7b799" d="M63.7 64.4h1.0v0.6h-1.0zM63.6 67.7h0.8v0.7h-0.8zM67.4 70.7h0.9v0.5h-0.9zM64.0 70.2h0.9v0.7h-0.9zM63.7 67.5h0.5v0.8h-0.5zM63.5 62.8h0.6v0.6h-0.6zM66.3 81.1h0.6v0.6h-0.6z"/></g>
<ellipse cx="108.0" cy="22.3" rx="5.2" ry="3.6" fill="#e27b62" filter="url(#bl2)"/>
<ellipse cx="103.3" cy="24.0" rx="2.9" ry="1.8" fill="#d35a4a" filter="url(#bl)"/>
<ellipse cx="118.5" cy="24.6" rx="3.4" ry="3.0" fill="#84bcd9" filter="url(#bl)"/>
<ellipse cx="149.7" cy="35.9" rx="7.5" ry="3.0" fill="#c5dfec" filter="url(#bl2)"/>
<ellipse cx="146.9" cy="34.7" rx="1.7" ry="1.2" fill="#5fa5cd" filter="url(#bl)"/>
<ellipse cx="168.9" cy="34.1" rx="5.2" ry="4.7" fill="#e27b62" filter="url(#bl2)"/>
<ellipse cx="169.5" cy="31.1" rx="1.7" ry="1.2" fill="#b1182b" filter="url(#bl)"/>
<ellipse cx="162.1" cy="43.0" rx="3.4" ry="3.6" fill="#8d0c25" filter="url(#bl)"/>
<ellipse cx="161.0" cy="50.7" rx="2.3" ry="2.4" fill="#e27b62" filter="url(#bl)"/>
<ellipse cx="167.8" cy="52.5" rx="3.4" ry="1.8" fill="#c5dfec" filter="url(#bl)"/>
<ellipse cx="125.5" cy="50.7" rx="2.9" ry="5.3" fill="#e27b62" filter="url(#bl2)"/>
<ellipse cx="117.3" cy="60.7" rx="7.5" ry="5.9" fill="#f09c7b" filter="url(#bl2)"/>
<ellipse cx="117.9" cy="62.5" rx="4.6" ry="3.0" fill="#b1182b" filter="url(#bl)"/>
<ellipse cx="118.5" cy="63.1" rx="1.7" ry="1.5" fill="#8d0c25" filter="url(#bl)"/>
<ellipse cx="186.9" cy="67.3" rx="1.4" ry="4.7" fill="#84bcd9" filter="url(#bl)"/>
<ellipse cx="188.6" cy="73.8" rx="1.7" ry="1.8" fill="#d35a4a" filter="url(#bl)"/>
<ellipse cx="178.1" cy="65.5" rx="8.0" ry="5.3" fill="#fbe4d6" filter="url(#bl2)"/>
</g>
<use href="#casp" fill="#fff"/>
<path d="M34.4 0V88.0M68.4 0V88.0M103.3 0V88.0M138.4 0V88.0M172.3 0V88.0M0 5.1H207.3M0 16.9H207.3M0 28.8H207.3M0 40.6H207.3M0 52.5H207.3M0 64.3H207.3M0 76.1H207.3" stroke="#c6c6c6" stroke-width="0.85" fill="none"/>
<use href="#land" fill="none" stroke="#111" stroke-width="0.88" stroke-linejoin="round"/>
<use href="#casp" fill="none" stroke="#111" stroke-width="0.88"/>
</g>
<path d="M0 0H207.3V88.0H0" fill="none" stroke="#606060" stroke-width="0.9"/>
<path d="M0 -0.4V88.4" stroke="#606060" stroke-width="0.9"/>
<text x="34.4" y="-1.5" font-size="6.1" textLength="16.57" lengthAdjust="spacingAndGlyphs" text-anchor="middle">120°W</text>
<text x="34.4" y="93.2" font-size="6.1" textLength="16.57" lengthAdjust="spacingAndGlyphs" text-anchor="middle">120°W</text>
<text x="68.4" y="-1.5" font-size="6.1" textLength="13.51" lengthAdjust="spacingAndGlyphs" text-anchor="middle">60°W</text>
<text x="68.4" y="93.2" font-size="6.1" textLength="13.51" lengthAdjust="spacingAndGlyphs" text-anchor="middle">60°W</text>
<text x="103.3" y="-1.5" font-size="6.1" textLength="5.26" lengthAdjust="spacingAndGlyphs" text-anchor="middle">0°</text>
<text x="103.3" y="93.2" font-size="6.1" textLength="5.26" lengthAdjust="spacingAndGlyphs" text-anchor="middle">0°</text>
<text x="138.4" y="-1.5" font-size="6.1" textLength="11.99" lengthAdjust="spacingAndGlyphs" text-anchor="middle">60°E</text>
<text x="138.4" y="93.2" font-size="6.1" textLength="11.99" lengthAdjust="spacingAndGlyphs" text-anchor="middle">60°E</text>
<text x="172.3" y="-1.5" font-size="6.1" textLength="15.04" lengthAdjust="spacingAndGlyphs" text-anchor="middle">120°E</text>
<text x="172.3" y="93.2" font-size="6.1" textLength="15.04" lengthAdjust="spacingAndGlyphs" text-anchor="middle">120°E</text>
<text x="-0.5" y="7.4" font-size="6.1" textLength="12.29" lengthAdjust="spacingAndGlyphs" text-anchor="end">80°N</text>
<text x="208.0" y="7.4" font-size="6.1" textLength="12.29" lengthAdjust="spacingAndGlyphs">80°N</text>
<text x="-0.5" y="19.2" font-size="6.1" textLength="12.29" lengthAdjust="spacingAndGlyphs" text-anchor="end">60°N</text>
<text x="208.0" y="19.2" font-size="6.1" textLength="12.29" lengthAdjust="spacingAndGlyphs">60°N</text>
<text x="-0.5" y="31.1" font-size="6.1" textLength="12.29" lengthAdjust="spacingAndGlyphs" text-anchor="end">40°N</text>
<text x="208.0" y="31.1" font-size="6.1" textLength="12.29" lengthAdjust="spacingAndGlyphs">40°N</text>
<text x="-0.5" y="42.9" font-size="6.1" textLength="12.29" lengthAdjust="spacingAndGlyphs" text-anchor="end">20°N</text>
<text x="208.0" y="42.9" font-size="6.1" textLength="12.29" lengthAdjust="spacingAndGlyphs">20°N</text>
<text x="-0.5" y="54.8" font-size="6.1" textLength="5.26" lengthAdjust="spacingAndGlyphs" text-anchor="end">0°</text>
<text x="208.0" y="54.8" font-size="6.1" textLength="5.26" lengthAdjust="spacingAndGlyphs">0°</text>
<text x="-0.5" y="66.6" font-size="6.1" textLength="11.99" lengthAdjust="spacingAndGlyphs" text-anchor="end">20°S</text>
<text x="208.0" y="66.6" font-size="6.1" textLength="11.99" lengthAdjust="spacingAndGlyphs">20°S</text>
<text x="-0.5" y="78.4" font-size="6.1" textLength="11.99" lengthAdjust="spacingAndGlyphs" text-anchor="end">40°S</text>
<text x="208.0" y="78.4" font-size="6.1" textLength="11.99" lengthAdjust="spacingAndGlyphs">40°S</text>
<text x="-0.5" y="90.3" font-size="6.1" textLength="11.99" lengthAdjust="spacingAndGlyphs" text-anchor="end">60°S</text>
<text x="208.0" y="90.3" font-size="6.1" textLength="11.99" lengthAdjust="spacingAndGlyphs">60°S</text>
<text x="103.7" y="-7.4" font-size="8.3" text-anchor="middle"><tspan textLength="40.5" lengthAdjust="spacingAndGlyphs">NISMON-CO</tspan><tspan font-size="5.8" dy="1.7">2</tspan></text>
</g>
<g transform="translate(19.00,251.60)">
<g clip-path="url(#fc)"><g clip-path="url(#lc)">
<rect x="0" y="0" width="207.3" height="88.0" fill="#f4f0ef"/>
<ellipse cx="51.4" cy="25.8" rx="11.5" ry="7.1" fill="#fbe4d6" filter="url(#bl2)"/>
<g><path fill="#dbeaf2" d="M56.1 16.6h0.9v0.8h-0.9zM43.2 23.5h0.6v1.1h-0.6zM55.9 27.1h1.2v0.9h-1.2zM43.4 18.1h0.6v0.7h-0.6zM39.6 15.8h0.8v0.7h-0.8zM61.3 25.3h0.9v0.9h-0.9zM69.0 26.8h1.1v1.2h-1.1zM46.4 19.0h0.8v1.2h-0.8zM53.6 18.6h0.8v1.0h-0.8zM43.8 24.3h0.7v0.9h-0.7zM51.6 21.0h0.8v1.0h-0.8zM52.8 28.2h0.6v0.6h-0.6zM58.3 25.3h1.1v0.8h-1.1zM70.7 28.1h0.6v0.8h-0.6zM31.4 26.8h1.2v0.8h-1.2zM40.4 26.3h0.9v1.2h-0.9zM52.5 26.3h1.0v1.1h-1.0zM47.8 21.1h1.0v0.9h-1.0zM46.6 15.5h1.0v0.9h-1.0zM40.7 16.8h0.6v1.1h-0.6zM21.9 23.8h0.9v0.6h-0.9zM36.8 30.7h1.1v1.1h-1.1zM42.2 24.2h0.8v0.9h-0.8zM46.2 11.8h0.6v0.8h-0.6zM35.2 22.6h1.0v0.7h-1.0zM53.3 25.6h0.9v0.8h-0.9zM57.4 19.4h1.0v1.2h-1.0zM42.4 33.1h0.9v1.2h-0.9zM54.1 26.5h0.7v0.8h-0.7zM48.4 23.9h0.6v1.1h-0.6zM62.4 14.2h0.9v1.1h-0.9zM35.0 18.2h0.9v0.7h-0.9zM41.7 21.8h0.7v0.7h-0.7zM51.0 24.6h0.8v1.2h-0.8zM36.0 24.6h1.0v1.2h-1.0zM48.7 20.0h1.0v1.2h-1.0zM54.5 17.3h1.0v1.1h-1.0z"/><path fill="#c5dfec" d="M53.1 32.9h0.7v0.9h-0.7zM48.5 24.6h0.9v0.7h-0.9zM61.4 29.2h1.2v0.7h-1.2zM38.0 27.3h1.0v1.0h-1.0zM40.3 23.0h1.2v0.9h-1.2zM39.4 26.9h1.1v0.9h-1.1zM48.6 30.7h1.1v1.1h-1.1zM66.9 24.1h0.9v1.0h-0.9zM44.6 24.0h1.0v1.2h-1.0zM42.2 16.0h1.1v0.7h-1.1zM58.0 37.4h1.0v0.6h-1.0zM41.3 28.0h0.9v1.2h-0.9zM48.9 31.4h1.0v1.0h-1.0zM51.5 26.1h0.7v1.0h-0.7zM54.2 23.4h1.1v1.1h-1.1zM48.5 16.5h1.2v1.2h-1.2zM57.3 22.3h1.0v1.0h-1.0zM47.7 27.1h0.9v1.2h-0.9zM63.2 23.3h0.8v1.1h-0.8zM36.7 22.0h1.1v0.9h-1.1zM37.0 18.9h1.0v0.7h-1.0zM63.3 15.5h1.1v1.2h-1.1zM61.7 29.5h0.9v0.6h-0.9zM47.5 33.5h1.0v1.0h-1.0zM47.8 24.9h0.8v0.8h-0.8zM43.8 14.8h0.7v0.8h-0.7zM51.8 24.6h0.9v1.2h-0.9zM51.3 39.3h0.7v1.0h-0.7zM40.6 23.9h0.9v1.1h-0.9zM44.6 27.8h1.0v0.9h-1.0zM43.7 23.6h1.0v1.0h-1.0zM44.1 29.5h0.9v1.1h-0.9z"/><path fill="#fcd3bc" d="M48.3 35.4h0.9v1.2h-0.9zM63.9 18.4h0.9v1.0h-0.9zM34.0 18.9h1.1v0.7h-1.1zM38.2 35.8h0.8v0.8h-0.8zM52.9 23.6h1.0v1.0h-1.0zM39.4 19.6h0.6v0.7h-0.6zM32.3 24.9h0.7v0.7h-0.7zM59.6 29.7h0.9v0.7h-0.9zM49.7 21.6h0.8v0.8h-0.8zM62.9 26.9h0.6v1.0h-0.6zM61.5 22.7h0.9v1.1h-0.9zM51.2 25.0h0.7v0.7h-0.7zM55.9 34.3h0.7v1.1h-0.7zM58.3 27.4h1.2v0.9h-1.2zM69.6 30.5h1.2v1.1h-1.2zM57.7 19.4h1.0v0.7h-1.0zM48.8 16.4h0.8v0.9h-0.8zM53.8 35.3h0.8v1.2h-0.8zM42.1 22.1h0.7v0.7h-0.7zM42.5 31.8h1.1v0.8h-1.1zM49.8 30.1h0.7v0.6h-0.7zM43.8 29.6h1.1v0.7h-1.1zM56.6 15.6h0.7v1.1h-0.7zM41.5 11.9h0.8v0.8h-0.8zM54.5 17.9h1.0v0.6h-1.0zM54.6 20.6h0.7v1.0h-0.7zM46.0 25.6h1.1v0.9h-1.1z"/><path fill="#fbe4d6" d="M49.6 29.0h0.6v0.8h-0.6zM36.1 26.0h0.7v1.2h-0.7zM41.9 40.1h0.6v0.7h-0.6zM53.7 25.0h0.8v1.0h-0.8zM47.8 19.2h0.8v0.9h-0.8zM48.2 10.3h0.8v0.9h-0.8zM43.5 25.8h0.7v1.1h-0.7zM48.3 24.2h1.1v0.9h-1.1zM47.1 22.1h0.7v1.1h-0.7zM50.3 23.1h0.6v0.8h-0.6zM39.3 26.5h0.9v0.8h-0.9zM48.8 11.7h0.8v0.9h-0.8zM40.0 11.3h1.2v1.2h-1.2zM46.4 18.5h0.9v0.9h-0.9zM39.4 20.3h0.7v0.6h-0.7zM36.9 28.1h1.0v1.0h-1.0zM32.8 23.4h0.7v0.7h-0.7zM59.7 26.5h0.7v0.7h-0.7zM57.9 22.8h0.7v1.2h-0.7zM37.5 28.4h1.0v0.7h-1.0zM59.7 26.2h0.7v1.2h-0.7zM39.1 21.5h0.9v0.6h-0.9zM59.9 16.7h0.7v1.0h-0.7zM46.6 19.4h0.6v1.1h-0.6zM53.4 24.4h1.1v1.0h-1.1zM53.7 31.2h0.6v0.9h-0.6zM46.2 21.3h1.2v0.7h-1.2zM38.4 28.6h0.7v1.2h-0.7zM48.3 18.5h0.7v1.1h-0.7zM57.1 23.6h1.1v1.1h-1.1zM21.2 24.7h0.8v1.2h-0.8zM57.6 20.3h0.6v1.0h-0.6zM40.4 21.0h0.8v1.1h-0.8zM70.4 26.1h1.0v1.2h-1.0zM54.6 15.7h1.2v1.2h-1.2zM45.7 25.0h0.7v0.9h-0.7zM68.4 24.7h0.9v0.8h-0.9zM46.4 14.8h1.0v0.8h-1.0zM38.5 29.2h1.2v1.1h-1.2zM47.0 15.0h0.9v1.0h-0.9z"/><path fill="#f7b799" d="M41.6 18.5h1.0v0.9h-1.0zM49.9 25.3h0.7v1.2h-0.7zM43.5 25.8h1.0v1.1h-1.0zM38.3 33.6h0.8v1.2h-0.8zM48.5 12.7h0.9v0.9h-0.9zM58.0 29.1h1.2v1.1h-1.2zM56.8 18.3h1.1v0.6h-1.1zM69.7 26.6h0.7v0.9h-0.7zM53.9 16.6h0.6v0.7h-0.6zM29.9 27.8h0.8v1.1h-0.8zM41.4 26.8h0.8v0.8h-0.8zM38.3 18.3h1.1v1.0h-1.1zM41.9 26.4h1.0v1.0h-1.0zM70.9 15.0h0.6v1.1h-0.6zM45.0 23.8h0.9v1.2h-0.9zM63.2 24.0h0.6v1.1h-0.6zM42.9 23.8h1.0v1.0h-1.0zM36.4 22.3h1.0v0.8h-1.0zM46.8 32.2h0.8v0.9h-0.8zM57.3 21.8h0.9v0.9h-0.9zM56.0 21.3h0.7v1.1h-0.7zM38.3 27.4h1.0v0.9h-1.0zM36.3 21.9h0.9v0.8h-0.9zM61.1 32.6h1.1v1.2h-1.1zM48.2 28.4h0.7v1.1h-0.7zM43.7 19.4h1.2v0.9h-1.2zM48.4 22.9h1.1v0.8h-1.1zM59.4 17.9h0.9v0.7h-0.9zM55.7 21.1h1.1v0.7h-1.1zM49.6 23.6h1.1v1.2h-1.1zM63.5 30.0h0.8v1.1h-0.8zM51.9 30.5h1.1v1.2h-1.1zM63.0 29.7h0.9v1.1h-0.9zM56.8 25.6h1.1v0.8h-1.1zM36.4 26.5h1.1v1.0h-1.1zM44.3 18.3h1.2v0.7h-1.2zM34.8 26.5h0.8v1.2h-0.8zM54.2 21.9h0.9v0.9h-0.9zM23.1 26.9h0.7v1.1h-0.7zM36.9 19.3h0.9v0.6h-0.9zM45.4 18.5h1.1v1.0h-1.1zM56.7 29.2h1.2v0.9h-1.2zM42.4 14.6h0.7v1.2h-0.7zM37.7 18.3h0.8v1.2h-0.8z"/></g>
<g><path fill="#5fa5cd" d="M50.8 28.3h0.9v1.0h-0.9zM38.7 24.9h1.3v0.9h-1.3zM54.5 24.0h1.2v1.3h-1.2zM47.8 23.3h0.9v0.9h-0.9zM55.5 24.0h0.9v0.8h-0.9zM62.4 27.3h1.1v0.8h-1.1zM48.9 17.7h1.1v0.7h-1.1zM57.4 23.4h0.7v0.8h-0.7zM37.1 31.7h1.0v1.2h-1.0zM70.7 26.4h1.0v1.0h-1.0zM44.2 22.8h1.1v1.1h-1.1zM33.4 24.8h1.0v1.2h-1.0zM39.0 23.7h0.8v0.8h-0.8zM44.7 33.7h0.7v1.2h-0.7zM55.4 25.4h1.1v0.9h-1.1zM50.1 31.6h0.8v0.7h-0.8zM43.1 21.0h0.8v1.2h-0.8zM42.5 31.3h0.9v0.7h-0.9zM61.9 27.2h1.2v0.9h-1.2zM45.6 20.8h1.1v0.9h-1.1zM37.6 19.1h0.7v0.8h-0.7zM60.7 18.6h0.7v1.0h-0.7zM31.1 24.6h1.1v1.3h-1.1zM42.8 31.0h1.0v0.8h-1.0zM53.3 32.3h0.8v0.9h-0.8zM45.4 16.8h0.7v1.1h-0.7zM31.6 27.4h0.8v1.2h-0.8zM53.4 22.2h0.9v1.0h-0.9zM59.9 18.3h1.0v1.3h-1.0z"/><path fill="#f7b799" d="M65.6 15.2h0.7v1.1h-0.7zM54.5 21.6h1.2v1.3h-1.2zM67.6 16.1h0.7v0.8h-0.7zM46.7 19.3h0.8v1.0h-0.8zM46.8 29.9h0.9v0.8h-0.9zM47.3 33.4h0.8v1.2h-0.8zM39.2 29.9h1.1v0.9h-1.1zM62.2 25.9h0.7v1.0h-0.7zM53.7 14.8h1.0v0.8h-1.0zM52.9 32.4h1.2v0.8h-1.2zM61.2 24.0h1.0v1.2h-1.0zM46.8 18.0h1.0v1.1h-1.0zM44.6 30.9h1.1v0.7h-1.1zM41.9 17.4h1.0v0.8h-1.0zM48.4 20.5h1.2v0.9h-1.2zM58.1 23.5h0.8v0.9h-0.8zM44.2 31.5h1.2v0.9h-1.2zM73.3 20.2h1.0v1.0h-1.0zM49.1 26.3h1.2v1.0h-1.2zM67.6 12.0h1.0v1.1h-1.0zM48.1 25.3h0.8v0.9h-0.8zM56.6 25.5h0.8v1.2h-0.8zM48.8 23.4h0.7v1.2h-0.7zM64.3 16.7h1.1v1.2h-1.1zM45.7 16.3h1.2v1.1h-1.2zM50.3 19.3h1.0v1.2h-1.0zM43.7 20.5h0.7v0.9h-0.7zM56.9 26.6h1.2v0.8h-1.2zM42.6 21.3h1.0v1.1h-1.0zM57.8 27.9h0.9v1.3h-0.9zM45.4 27.3h0.9v1.3h-0.9zM53.8 18.8h0.7v0.8h-0.7zM57.5 22.5h0.8v1.2h-0.8zM75.3 24.3h1.2v0.7h-1.2zM50.1 18.3h1.1v0.7h-1.1zM51.8 32.7h1.3v1.2h-1.3zM55.6 26.7h0.7v0.9h-0.7zM57.4 25.0h1.0v0.8h-1.0zM53.4 25.4h1.1v1.1h-1.1z"/><path fill="#c2383a" d="M59.2 32.4h1.1v1.2h-1.1zM40.6 17.1h0.7v1.2h-0.7zM56.8 30.2h1.1v1.0h-1.1zM38.1 27.2h0.7v0.8h-0.7zM49.4 24.0h0.7v0.7h-0.7zM54.9 25.0h0.8v1.2h-0.8zM59.4 17.8h1.3v1.3h-1.3zM47.6 21.5h0.8v0.9h-0.8zM51.6 31.0h1.2v1.2h-1.2zM48.8 26.4h1.3v0.8h-1.3zM45.8 20.7h1.1v1.3h-1.1zM52.0 33.0h0.9v1.2h-0.9zM46.3 16.3h0.9v1.3h-0.9zM42.9 29.0h0.9v0.9h-0.9zM45.1 27.5h1.0v1.3h-1.0zM52.8 28.2h1.0v1.2h-1.0zM51.2 27.1h1.0v1.0h-1.0zM51.0 26.0h0.8v1.1h-0.8zM53.1 19.7h0.7v0.8h-0.7zM52.0 11.1h1.0v1.2h-1.0zM61.6 32.3h0.7v0.8h-0.7zM71.4 26.5h1.2v1.3h-1.2zM41.7 28.2h0.9v0.9h-0.9z"/><path fill="#d35a4a" d="M46.8 28.6h1.2v0.9h-1.2zM48.2 15.0h1.1v1.0h-1.1zM54.4 25.4h0.7v0.9h-0.7zM61.8 28.3h1.3v1.2h-1.3zM38.3 35.0h1.1v1.0h-1.1zM52.6 25.1h1.0v1.1h-1.0zM55.1 20.5h1.1v1.0h-1.1zM52.2 26.4h0.9v0.9h-0.9zM49.8 15.7h0.8v0.7h-0.8zM52.4 21.5h1.2v1.2h-1.2zM41.1 23.7h0.7v1.2h-0.7zM40.3 24.1h1.2v1.2h-1.2zM64.3 11.4h0.8v1.2h-0.8zM58.1 28.2h0.9v1.3h-0.9zM46.3 28.0h0.9v0.9h-0.9zM58.3 24.6h1.2v0.8h-1.2zM55.6 21.2h1.1v1.3h-1.1zM40.6 28.8h1.0v0.7h-1.0zM62.9 21.6h1.2v0.9h-1.2zM51.5 21.7h0.9v1.1h-0.9zM47.9 23.9h1.2v1.2h-1.2zM51.8 23.4h1.0v0.7h-1.0zM48.2 19.0h1.2v1.2h-1.2zM42.5 15.3h0.7v0.7h-0.7z"/><path fill="#b1182b" d="M54.3 27.6h0.8v1.1h-0.8zM52.0 28.9h1.3v1.0h-1.3zM48.3 24.3h0.9v1.2h-0.9zM56.7 43.1h0.8v0.9h-0.8zM48.1 17.5h1.2v0.8h-1.2zM43.0 23.8h1.1v1.1h-1.1zM58.2 27.6h1.2v0.8h-1.2zM63.6 26.8h1.2v0.8h-1.2zM44.4 25.8h1.1v1.0h-1.1zM46.6 28.4h1.3v1.1h-1.3zM45.0 25.7h0.9v1.2h-0.9zM43.4 32.9h0.7v0.8h-0.7zM52.1 23.2h1.1v1.0h-1.1zM53.8 31.7h0.8v0.9h-0.8zM45.4 19.7h1.3v1.0h-1.3zM62.9 25.5h0.7v0.7h-0.7zM59.0 22.3h1.2v1.2h-1.2zM49.1 24.0h0.9v1.3h-0.9zM48.3 30.0h0.7v1.1h-0.7zM48.5 25.0h0.9v1.1h-0.9zM56.5 22.6h1.1v1.1h-1.1zM40.0 21.5h1.3v1.2h-1.3zM52.7 25.3h0.8v0.7h-0.8zM41.4 29.5h0.8v0.9h-0.8zM49.1 26.0h1.2v1.1h-1.2zM45.4 21.6h1.3v0.9h-1.3z"/><path fill="#e27b62" d="M58.8 30.3h0.7v0.7h-0.7zM50.1 27.7h1.2v1.3h-1.2zM42.4 36.8h1.0v0.9h-1.0zM46.2 20.4h1.0v1.3h-1.0zM48.2 18.1h1.2v0.7h-1.2zM56.6 22.2h1.0v0.8h-1.0zM48.1 26.9h1.1v1.1h-1.1zM38.8 29.1h1.0v0.7h-1.0zM40.9 26.6h0.9v0.8h-0.9zM26.5 18.3h1.0v0.8h-1.0zM39.5 22.9h0.7v1.1h-0.7zM47.7 23.5h0.9v1.1h-0.9zM61.0 29.0h1.1v1.2h-1.1zM57.5 36.0h1.0v0.8h-1.0zM48.6 23.7h0.7v0.8h-0.7zM48.4 16.0h1.1v1.1h-1.1zM30.9 29.9h1.2v0.8h-1.2zM41.8 27.0h1.1v0.7h-1.1zM61.8 14.4h1.0v1.0h-1.0zM50.9 26.2h1.0v0.9h-1.0zM67.3 25.4h1.1v0.8h-1.1zM41.4 22.2h0.8v0.8h-0.8zM50.1 30.2h1.0v1.3h-1.0zM55.1 24.1h0.8v0.7h-0.8zM48.3 20.9h0.7v0.9h-0.7zM46.8 22.8h0.8v0.9h-0.8zM45.7 30.2h1.1v1.1h-1.1zM55.3 27.4h0.8v0.9h-0.8zM52.9 15.6h1.2v1.2h-1.2z"/><path fill="#2f79b5" d="M29.2 34.1h1.2v0.9h-1.2zM54.7 20.8h0.7v1.2h-0.7zM47.7 30.7h1.1v1.3h-1.1zM60.2 22.6h0.9v1.2h-0.9zM46.5 31.2h0.7v1.1h-0.7zM44.4 23.8h0.8v1.0h-0.8zM44.0 27.2h1.1v1.2h-1.1zM45.1 22.4h0.7v0.9h-0.7zM47.9 26.4h1.2v1.2h-1.2zM56.0 17.6h1.1v0.7h-1.1zM58.9 19.5h0.9v0.9h-0.9zM50.4 29.2h1.1v1.3h-1.1zM48.3 13.7h0.7v0.9h-0.7zM50.7 28.7h1.0v0.7h-1.0zM52.4 28.6h0.7v0.8h-0.7zM38.7 19.4h0.7v0.9h-0.7zM56.6 32.5h0.9v1.1h-0.9zM45.9 28.1h1.2v0.8h-1.2zM50.4 34.3h1.2v1.0h-1.2zM58.5 22.0h0.7v0.9h-0.7zM57.0 26.5h1.0v1.2h-1.0zM70.1 20.6h0.7v0.8h-0.7z"/><path fill="#3f8ec0" d="M48.7 23.8h1.1v1.0h-1.1zM48.0 28.6h0.9v1.0h-0.9zM41.0 29.8h0.7v1.3h-0.7zM62.9 31.7h1.0v1.2h-1.0zM57.9 18.9h0.9v1.2h-0.9zM61.7 26.0h1.1v0.7h-1.1zM45.6 20.4h1.0v0.8h-1.0zM47.5 26.1h0.9v0.7h-0.9zM48.7 19.2h1.1v1.3h-1.1zM53.2 23.8h0.8v1.1h-0.8zM48.0 25.6h0.8v1.0h-0.8zM30.4 30.1h0.9v0.8h-0.9zM52.6 29.1h1.0v0.8h-1.0zM45.3 19.4h1.2v0.9h-1.2zM62.3 23.8h0.8v1.0h-0.8zM54.7 28.7h0.8v0.9h-0.8zM60.4 33.4h0.8v1.1h-0.8zM51.1 22.6h1.2v1.2h-1.2zM44.2 15.8h1.0v1.3h-1.0zM47.2 19.1h0.8v0.9h-0.8zM43.1 27.1h1.2v1.0h-1.2zM51.9 26.1h0.7v1.0h-0.7zM39.7 30.7h1.0v1.1h-1.0zM53.6 30.5h0.9v1.2h-0.9zM65.6 21.7h0.8v1.0h-0.8zM59.2 29.3h1.2v0.7h-1.2zM46.6 33.3h0.8v1.1h-0.8zM47.0 11.0h1.0v0.9h-1.0z"/></g>
<ellipse cx="54.2" cy="29.4" rx="4.0" ry="2.1" fill="#d35a4a" filter="url(#bl)"/>
<ellipse cx="55.9" cy="28.8" rx="1.7" ry="1.2" fill="#b1182b" filter="url(#bl)"/>
<ellipse cx="47.4" cy="27.0" rx="1.1" ry="1.2" fill="#3f8ec0" filter="url(#bl)"/>
<ellipse cx="34.4" cy="23.4" rx="1.7" ry="1.8" fill="#d35a4a" filter="url(#bl)"/>
<ellipse cx="70.1" cy="59.6" rx="8.0" ry="7.1" fill="#fcd3bc" filter="url(#bl2)"/>
<ellipse cx="77.7" cy="57.8" rx="4.0" ry="3.0" fill="#c2383a" filter="url(#bl)"/>
<ellipse cx="78.9" cy="58.4" rx="1.7" ry="1.8" fill="#8d0c25" filter="url(#bl)"/>
<ellipse cx="71.9" cy="62.5" rx="3.4" ry="2.4" fill="#d35a4a" filter="url(#bl)"/>
<ellipse cx="61.6" cy="56.0" rx="2.9" ry="3.0" fill="#c5dfec" filter="url(#bl)"/>
<g><path fill="#e27b62" d="M68.4 65.6h0.7v0.7h-0.7zM74.4 63.6h1.1v0.9h-1.1zM70.1 60.1h1.0v0.8h-1.0zM80.5 59.6h1.1v1.0h-1.1zM73.1 63.0h1.1v0.7h-1.1zM75.5 48.8h1.0v0.9h-1.0zM75.2 66.3h1.2v1.1h-1.2zM67.6 66.9h1.0v1.2h-1.0zM72.3 62.2h1.0v1.1h-1.0zM73.8 52.6h0.9v1.1h-0.9zM72.2 65.8h0.7v0.9h-0.7zM61.8 60.9h1.1v0.8h-1.1zM69.0 57.9h0.9v0.6h-0.9zM74.3 62.8h1.2v1.0h-1.2zM77.3 58.4h0.9v0.9h-0.9z"/><path fill="#f7b799" d="M72.6 57.2h1.0v1.0h-1.0zM64.6 71.0h1.1v1.1h-1.1zM76.1 55.9h0.7v1.2h-0.7zM73.1 64.3h0.8v1.1h-0.8zM61.1 63.3h0.6v0.7h-0.6zM65.9 56.9h0.7v1.2h-0.7zM73.9 60.5h1.1v0.8h-1.1zM72.9 56.7h0.7v0.9h-0.7zM77.8 61.5h0.8v0.7h-0.8zM70.5 60.3h1.0v0.7h-1.0zM69.5 57.8h0.9v0.8h-0.9zM67.7 60.1h1.1v0.7h-1.1zM71.3 60.1h0.9v0.8h-0.9zM69.1 55.4h1.0v0.6h-1.0zM70.9 59.4h0.8v1.0h-0.8zM66.0 59.7h0.8v1.0h-0.8zM70.2 59.2h0.7v1.2h-0.7zM81.0 55.3h0.9v0.9h-0.9zM77.7 63.1h1.0v0.7h-1.0zM67.3 60.3h0.8v1.1h-0.8zM81.8 61.3h0.9v0.8h-0.9zM74.8 59.7h0.8v0.9h-0.8zM68.5 67.5h1.1v1.2h-1.1zM65.9 62.3h0.9v1.1h-0.9z"/><path fill="#fcd3bc" d="M68.9 64.9h1.1v1.1h-1.1zM73.5 62.2h1.1v1.2h-1.1zM87.1 54.8h0.8v0.8h-0.8zM72.6 57.5h0.9v0.8h-0.9zM72.0 61.9h0.9v0.9h-0.9zM74.7 63.6h1.1v0.7h-1.1zM76.1 56.7h0.7v1.0h-0.7zM73.4 61.1h0.7v1.0h-0.7zM75.4 61.0h1.2v1.0h-1.2zM68.8 59.8h0.7v1.1h-0.7zM73.9 65.3h1.2v1.2h-1.2zM70.0 60.2h0.8v0.8h-0.8zM70.1 59.7h1.0v0.9h-1.0zM75.2 68.6h0.9v0.9h-0.9zM72.7 54.1h0.6v0.7h-0.6zM67.9 57.8h1.0v1.1h-1.0z"/><path fill="#c2383a" d="M73.1 61.4h0.7v0.9h-0.7zM73.6 63.7h1.1v0.6h-1.1zM74.5 61.5h1.0v1.1h-1.0zM63.9 61.4h0.6v0.8h-0.6zM70.6 60.7h0.9v1.1h-0.9zM73.6 55.4h0.9v0.8h-0.9zM76.7 65.3h0.8v0.8h-0.8zM75.4 53.7h0.9v0.9h-0.9zM73.6 57.0h1.1v0.7h-1.1zM72.5 57.6h1.0v1.2h-1.0z"/><path fill="#f09c7b" d="M63.9 64.9h1.1v0.9h-1.1zM72.2 59.8h0.7v0.7h-0.7zM81.5 55.4h1.1v1.1h-1.1zM68.2 56.0h0.8v0.7h-0.8zM76.0 60.0h1.0v1.2h-1.0zM73.7 68.6h0.6v1.0h-0.6zM72.3 58.5h1.1v0.8h-1.1zM72.4 59.0h1.0v1.1h-1.0zM74.8 60.7h1.2v1.0h-1.2zM79.0 54.7h0.7v1.0h-0.7zM69.8 59.1h1.1v0.9h-1.1zM70.6 63.7h1.0v1.2h-1.0zM65.8 66.0h0.9v1.2h-0.9zM81.7 55.8h0.7v0.9h-0.7zM62.8 63.9h0.9v1.0h-0.9z"/></g>
<ellipse cx="109.2" cy="39.4" rx="14.4" ry="4.7" fill="#edf2f5" filter="url(#bl2)"/>
<ellipse cx="129.6" cy="37.7" rx="6.9" ry="4.1" fill="#edf2f5" filter="url(#bl2)"/>
<ellipse cx="117.9" cy="21.7" rx="14.4" ry="4.7" fill="#fcd3bc" filter="url(#bl2)"/>
<g><path fill="#2f79b5" d="M137.9 25.2h0.7v0.9h-0.7zM102.9 26.3h0.7v1.1h-0.7zM118.4 19.1h1.1v1.2h-1.1zM118.2 16.8h1.3v0.8h-1.3zM90.5 23.6h0.9v1.3h-0.9zM113.1 19.5h0.8v1.0h-0.8zM108.5 17.5h0.8v1.2h-0.8zM120.1 21.0h0.8v1.3h-0.8zM115.7 22.0h0.8v0.9h-0.8zM128.3 15.8h0.8v1.0h-0.8zM110.6 23.3h1.0v1.1h-1.0zM115.2 21.9h1.2v0.8h-1.2zM130.5 22.9h1.1v0.9h-1.1zM117.2 12.2h1.2v1.3h-1.2zM116.0 27.0h1.1v0.8h-1.1zM120.6 19.7h1.0v0.9h-1.0zM126.4 14.5h0.7v1.2h-0.7zM119.9 26.5h1.2v1.1h-1.2zM131.3 25.3h1.2v1.0h-1.2zM108.2 22.4h1.1v1.2h-1.1zM121.1 21.6h1.0v0.8h-1.0zM103.5 24.6h0.6v1.2h-0.6zM114.6 18.9h1.1v0.9h-1.1zM124.9 26.4h0.8v1.1h-0.8zM121.2 19.5h0.8v0.8h-0.8zM107.9 22.2h0.6v1.3h-0.6zM114.8 20.7h1.0v1.0h-1.0zM113.0 18.8h0.7v1.1h-0.7zM111.5 17.1h0.9v0.7h-0.9zM111.8 21.3h0.7v0.8h-0.7zM120.6 22.4h1.0v0.7h-1.0zM115.3 20.5h0.7v1.3h-0.7zM129.7 18.8h0.7v0.9h-0.7z"/><path fill="#5fa5cd" d="M111.1 19.0h0.8v0.7h-0.8zM109.8 15.5h1.0v0.7h-1.0zM117.6 20.5h1.2v1.3h-1.2zM101.4 25.7h1.2v0.8h-1.2zM120.0 16.7h0.9v1.0h-0.9zM124.1 22.3h0.9v1.2h-0.9zM116.6 19.5h1.2v0.9h-1.2zM115.8 12.6h1.3v1.1h-1.3zM127.3 21.5h0.7v0.8h-0.7zM116.5 18.6h0.8v0.7h-0.8zM119.4 28.5h0.8v1.2h-0.8zM120.4 19.8h0.7v1.3h-0.7zM126.9 18.8h0.8v1.1h-0.8zM122.6 25.0h0.7v1.2h-0.7zM95.1 22.0h0.9v1.2h-0.9zM110.7 21.9h1.2v0.8h-1.2zM114.0 19.9h1.3v0.8h-1.3zM116.0 19.4h1.0v1.2h-1.0zM119.1 15.7h1.1v1.2h-1.1zM125.7 28.0h1.0v0.8h-1.0zM116.1 22.1h1.2v1.3h-1.2zM112.0 18.1h0.8v0.8h-0.8zM109.7 19.7h1.0v1.1h-1.0zM139.2 28.9h0.7v0.7h-0.7zM99.6 15.3h0.7v0.9h-0.7zM117.3 18.3h1.1v1.2h-1.1zM122.2 22.0h0.9v0.9h-0.9zM111.9 20.9h1.0v0.7h-1.0zM105.0 17.6h0.8v1.2h-0.8zM128.5 24.3h1.0v1.2h-1.0zM104.4 22.3h1.3v0.8h-1.3zM108.5 20.0h1.0v0.9h-1.0z"/><path fill="#3f8ec0" d="M107.6 19.3h0.9v0.7h-0.9zM120.6 21.5h0.9v0.8h-0.9zM131.0 25.1h0.7v1.3h-0.7zM119.9 26.5h0.8v0.9h-0.8zM122.2 21.4h1.3v0.9h-1.3zM111.2 21.9h0.9v0.7h-0.9zM119.8 20.7h0.9v1.3h-0.9zM130.2 19.0h1.3v1.2h-1.3zM115.2 19.7h1.2v1.2h-1.2zM126.6 18.4h0.9v1.1h-0.9zM104.7 14.5h1.1v1.2h-1.1zM119.1 22.1h1.2v1.1h-1.2zM120.6 16.7h1.2v1.2h-1.2zM117.2 21.0h0.7v1.2h-0.7zM113.1 25.2h0.7v0.8h-0.7zM107.6 18.5h1.2v0.8h-1.2zM123.0 21.6h0.7v0.8h-0.7zM118.5 16.5h1.0v0.8h-1.0zM123.9 14.5h1.0v0.9h-1.0zM113.7 19.2h0.7v0.9h-0.7zM109.6 28.5h1.1v1.1h-1.1zM100.3 20.9h1.0v1.2h-1.0zM120.0 22.8h1.2v0.9h-1.2zM125.9 20.2h1.0v0.8h-1.0zM120.9 22.5h1.0v1.1h-1.0zM111.2 22.3h0.8v1.2h-0.8zM103.9 22.8h0.8v1.2h-0.8zM108.7 23.6h0.9v1.2h-0.9zM124.6 20.3h1.1v0.7h-1.1zM104.1 22.5h1.2v1.1h-1.2zM125.8 16.4h1.0v0.9h-1.0zM114.8 17.3h1.0v0.9h-1.0zM112.7 15.5h1.1v1.2h-1.1zM108.8 20.9h0.9v1.0h-0.9zM124.3 23.9h1.0v1.3h-1.0zM119.4 19.1h1.0v0.7h-1.0zM125.9 22.8h1.2v0.7h-1.2zM117.2 27.5h1.0v0.9h-1.0z"/><path fill="#d35a4a" d="M120.0 25.6h1.0v1.3h-1.0zM121.2 26.4h0.8v0.8h-0.8zM130.1 20.7h1.2v0.9h-1.2zM110.5 23.0h0.9v0.8h-0.9zM116.5 25.2h1.0v0.9h-1.0zM126.1 22.7h1.3v1.2h-1.3zM123.1 24.6h0.8v1.3h-0.8zM121.5 26.2h0.7v0.7h-0.7zM103.5 25.1h0.7v0.9h-0.7zM121.5 21.6h1.1v0.8h-1.1zM143.8 22.4h1.0v0.9h-1.0zM117.3 22.6h0.7v0.7h-0.7zM115.1 16.9h1.1v1.2h-1.1zM119.2 20.8h0.9v1.2h-0.9zM117.5 24.2h0.9v1.0h-0.9zM124.9 14.5h1.3v1.1h-1.3zM137.6 17.2h1.1v0.7h-1.1zM119.4 15.8h1.1v0.9h-1.1zM123.9 15.5h1.1v1.0h-1.1zM115.9 25.9h0.7v0.8h-0.7zM114.7 19.7h0.8v1.2h-0.8zM100.8 23.2h1.1v0.7h-1.1zM118.7 25.8h1.1v1.1h-1.1zM122.8 21.6h0.8v1.0h-0.8zM115.5 21.5h0.7v1.2h-0.7zM120.5 24.3h1.2v1.2h-1.2zM94.2 19.4h0.9v1.0h-0.9zM134.3 21.2h0.7v0.8h-0.7zM118.5 19.3h0.9v1.0h-0.9zM105.1 19.1h0.9v1.3h-0.9zM117.3 16.8h1.3v1.0h-1.3zM118.5 21.3h1.3v0.9h-1.3zM115.7 24.3h0.9v1.0h-0.9zM111.3 12.2h1.1v1.0h-1.1zM104.1 13.4h0.7v1.1h-0.7zM117.5 19.0h0.7v1.1h-0.7zM104.8 21.4h1.2v1.3h-1.2zM114.1 19.4h1.2v0.7h-1.2z"/><path fill="#f09c7b" d="M107.0 16.7h1.3v0.8h-1.3zM124.4 16.7h1.0v1.0h-1.0zM112.9 18.9h0.7v0.7h-0.7zM122.8 12.2h1.1v0.8h-1.1zM98.6 25.6h1.0v0.8h-1.0zM127.0 23.0h1.1v1.2h-1.1zM119.9 22.3h0.8v1.1h-0.8zM123.1 19.6h1.1v0.9h-1.1zM107.0 26.8h1.3v1.1h-1.3zM109.7 23.2h1.1v1.2h-1.1zM118.7 24.7h1.0v1.1h-1.0zM100.3 18.2h0.8v1.3h-0.8zM126.9 20.5h1.0v1.2h-1.0zM118.4 23.1h1.1v1.3h-1.1zM131.0 22.6h1.2v0.8h-1.2zM108.9 21.8h1.0v0.7h-1.0zM114.8 18.4h1.1v1.3h-1.1zM101.7 16.3h1.1v0.8h-1.1zM126.8 25.2h1.0v0.7h-1.0zM136.8 24.9h0.8v1.1h-0.8zM102.5 10.2h0.7v0.8h-0.7zM109.9 27.3h0.8v0.7h-0.8zM116.6 17.0h0.9v1.1h-0.9zM133.4 21.9h1.0v0.9h-1.0zM117.6 19.8h1.2v1.0h-1.2zM109.1 21.1h1.0v0.7h-1.0zM135.7 18.5h0.8v1.1h-0.8zM112.1 21.0h1.0v0.9h-1.0zM118.1 23.3h1.0v0.9h-1.0zM124.2 22.7h0.6v1.2h-0.6zM124.0 27.5h0.9v1.3h-0.9zM108.1 22.6h1.2v0.7h-1.2zM108.4 21.4h0.8v1.0h-0.8zM124.1 27.3h1.2v0.9h-1.2zM110.7 19.2h0.9v1.3h-0.9zM102.0 18.5h1.0v1.2h-1.0zM111.6 19.1h1.0v0.9h-1.0zM101.0 18.7h0.7v1.1h-0.7zM117.9 21.1h0.8v1.0h-0.8zM125.0 22.6h1.2v1.3h-1.2zM119.9 17.7h1.2v0.9h-1.2z"/><path fill="#a7d0e4" d="M129.6 21.9h0.8v1.0h-0.8zM118.5 16.5h1.2v1.3h-1.2zM103.0 23.2h1.2v1.3h-1.2zM105.8 19.0h1.3v1.1h-1.3zM112.2 18.8h1.2v1.3h-1.2zM106.8 16.4h1.1v1.0h-1.1zM120.2 18.2h1.0v1.2h-1.0zM134.6 23.5h1.0v1.0h-1.0zM121.2 18.6h1.2v0.7h-1.2zM113.9 21.4h0.9v1.2h-0.9zM130.4 16.5h1.1v1.0h-1.1zM105.9 18.0h0.7v0.8h-0.7zM125.6 24.8h0.7v1.1h-0.7zM123.4 23.6h0.9v1.2h-0.9zM112.0 23.1h0.7v0.8h-0.7zM98.0 20.9h1.0v1.0h-1.0zM123.5 17.1h1.1v1.1h-1.1zM131.8 22.2h1.1v0.9h-1.1zM105.9 18.7h0.9v1.1h-0.9zM123.6 24.0h0.9v1.0h-0.9zM100.6 16.4h1.1v1.3h-1.1zM121.2 27.0h1.1v1.3h-1.1zM117.6 21.9h1.0v0.8h-1.0zM122.6 22.0h1.3v0.8h-1.3zM131.1 20.8h0.8v1.0h-0.8z"/><path fill="#8d0c25" d="M106.5 19.2h1.2v0.9h-1.2zM112.0 19.0h1.2v1.0h-1.2zM117.9 25.2h0.8v0.7h-0.8zM114.0 20.4h1.0v1.1h-1.0zM113.9 24.5h1.3v0.8h-1.3zM117.7 18.2h0.9v0.8h-0.9zM105.0 30.1h1.1v0.8h-1.1zM120.3 18.1h0.8v0.9h-0.8zM122.9 20.6h1.2v1.2h-1.2zM122.2 22.1h0.7v0.8h-0.7zM113.3 21.0h1.2v1.1h-1.2zM107.5 12.2h0.8v1.2h-0.8zM108.9 16.9h1.2v1.1h-1.2zM119.7 24.7h0.8v1.0h-0.8zM120.4 19.0h1.2v1.2h-1.2zM118.9 22.5h1.3v1.3h-1.3zM104.2 24.8h1.3v1.0h-1.3zM110.9 18.9h0.8v0.9h-0.8zM108.8 28.7h1.2v1.1h-1.2zM109.3 25.4h0.8v0.7h-0.8zM124.0 17.6h1.2v1.2h-1.2zM115.2 24.6h1.1v0.9h-1.1zM123.5 22.7h0.7v0.7h-0.7zM119.6 12.2h1.3v0.7h-1.3zM124.1 23.3h1.2v1.0h-1.2zM123.9 20.7h1.2v1.2h-1.2zM110.0 22.4h1.2v0.9h-1.2zM107.7 19.5h1.3v1.3h-1.3zM117.5 19.0h0.8v0.9h-0.8zM120.3 16.8h1.2v0.8h-1.2zM110.2 26.8h1.0v0.9h-1.0zM114.9 18.5h0.9v0.9h-0.9z"/><path fill="#c2383a" d="M111.8 21.6h1.0v0.8h-1.0zM129.9 24.7h0.8v0.9h-0.8zM119.2 25.7h0.7v0.9h-0.7zM122.4 20.9h1.1v0.9h-1.1zM105.9 22.3h1.0v0.8h-1.0zM127.9 24.6h1.2v1.0h-1.2zM133.0 21.7h0.9v1.2h-0.9zM118.7 20.7h1.0v1.0h-1.0zM105.8 20.8h0.8v1.3h-0.8zM133.9 20.2h0.7v1.1h-0.7zM103.8 27.9h1.2v0.9h-1.2zM100.4 21.4h1.1v1.1h-1.1zM105.3 22.4h0.9v1.2h-0.9zM130.4 25.1h0.7v1.0h-0.7zM119.9 23.6h1.0v1.2h-1.0zM99.4 22.0h1.2v1.2h-1.2zM119.5 21.6h1.0v1.0h-1.0zM119.9 14.6h1.2v1.0h-1.2zM107.6 26.8h0.7v1.1h-0.7zM103.8 19.2h0.8v0.7h-0.8zM125.5 20.9h1.1v1.0h-1.1zM116.3 24.2h1.3v1.1h-1.3zM108.9 22.1h1.0v0.7h-1.0zM117.3 18.5h0.8v1.2h-0.8zM104.9 25.6h1.2v1.0h-1.2zM116.5 20.3h0.7v1.0h-0.7zM129.6 20.4h1.0v1.1h-1.0zM124.9 16.0h0.8v1.0h-0.8zM114.3 21.7h0.7v1.2h-0.7zM127.5 18.3h0.7v0.9h-0.7zM100.1 17.3h1.0v0.7h-1.0zM114.4 21.8h0.8v0.9h-0.8zM107.0 19.5h1.1v0.9h-1.1zM127.0 23.9h1.0v0.8h-1.0zM112.0 25.0h1.0v0.9h-1.0zM115.4 22.9h0.9v0.8h-0.9zM116.1 23.7h1.0v0.7h-1.0zM126.0 22.0h0.9v0.7h-0.9z"/><path fill="#b1182b" d="M122.0 20.0h0.9v0.9h-0.9zM116.2 18.1h1.1v0.8h-1.1zM121.8 23.0h0.8v1.0h-0.8zM124.0 21.3h1.2v1.0h-1.2zM123.6 22.9h1.2v1.1h-1.2zM122.8 25.3h1.0v1.1h-1.0zM114.4 20.7h0.9v0.9h-0.9zM127.9 20.4h1.0v0.8h-1.0zM91.1 26.2h1.2v0.8h-1.2zM109.9 23.2h1.0v1.0h-1.0zM105.1 23.2h0.9v0.7h-0.9zM122.8 25.3h0.7v0.7h-0.7zM126.9 16.7h0.8v1.2h-0.8zM124.6 13.7h1.2v1.3h-1.2zM100.3 21.5h1.2v1.0h-1.2zM110.9 19.2h0.9v1.3h-0.9zM105.6 18.6h0.7v1.2h-0.7zM107.6 22.3h1.0v0.7h-1.0zM124.2 15.9h1.1v1.3h-1.1zM119.0 19.3h1.3v0.7h-1.3zM116.6 18.6h0.7v1.1h-0.7zM111.2 27.5h0.8v0.9h-0.8zM101.7 20.7h0.7v1.2h-0.7zM119.0 17.8h1.1v1.2h-1.1zM125.6 21.1h1.0v0.9h-1.0zM132.7 21.9h0.8v0.8h-0.8zM109.2 22.1h1.1v0.7h-1.1zM115.2 16.4h0.9v0.9h-0.9zM111.7 19.7h0.8v1.2h-0.8zM123.0 17.8h1.0v1.1h-1.0zM118.7 20.8h1.0v1.0h-1.0zM124.5 19.6h0.9v0.9h-0.9zM107.3 20.6h0.7v1.0h-0.7zM135.9 18.2h0.7v0.8h-0.7zM127.6 27.0h0.7v1.2h-0.7zM115.2 23.8h0.6v1.0h-0.6zM108.2 23.3h1.0v0.8h-1.0zM118.7 22.5h1.1v1.1h-1.1zM112.8 22.4h1.1v1.3h-1.1zM112.7 24.7h0.8v1.0h-0.8zM101.6 21.0h0.9v1.0h-0.9zM123.7 17.7h1.0v0.9h-1.0zM125.2 17.7h0.8v1.0h-0.8z"/></g>
<ellipse cx="152.5" cy="20.5" rx="21.8" ry="1.8" fill="#f7b799" filter="url(#bl2)"/>
<g><path fill="#d35a4a" d="M159.2 20.3h1.0v0.9h-1.0zM150.5 21.9h1.0v0.6h-1.0zM163.5 21.1h1.2v0.8h-1.2zM157.0 18.7h0.8v0.7h-0.8zM154.7 19.8h1.0v1.0h-1.0zM133.0 17.7h0.7v1.1h-0.7zM153.2 18.7h1.2v1.0h-1.2zM157.2 18.4h0.8v1.0h-0.8zM154.7 19.1h1.2v0.8h-1.2zM171.8 21.0h0.7v0.7h-0.7zM130.2 22.6h0.9v0.8h-0.9zM144.8 19.1h1.2v0.7h-1.2zM164.7 22.3h0.7v0.9h-0.7zM139.4 21.9h1.1v0.7h-1.1zM155.9 21.6h1.0v0.8h-1.0zM164.0 20.8h0.8v1.0h-0.8zM142.3 21.0h1.1v1.0h-1.1zM153.5 19.8h0.7v0.9h-0.7zM150.6 21.4h0.9v1.2h-0.9zM146.4 16.4h1.1v1.2h-1.1zM158.9 19.0h1.1v0.7h-1.1zM160.9 20.4h1.0v1.1h-1.0zM150.2 19.4h1.1v0.6h-1.1zM151.2 18.6h0.6v1.0h-0.6zM150.3 18.5h0.9v1.0h-0.9zM129.2 18.4h0.8v1.2h-0.8zM161.9 17.7h1.1v0.9h-1.1zM140.3 20.7h1.0v0.8h-1.0zM153.1 23.2h0.9v1.2h-0.9zM151.1 18.4h0.7v1.1h-0.7zM131.0 20.1h1.0v0.8h-1.0zM158.0 18.4h0.9v0.8h-0.9zM167.2 17.2h0.7v0.9h-0.7z"/><path fill="#c2383a" d="M145.4 22.7h1.1v0.7h-1.1zM146.9 21.8h0.9v0.6h-0.9zM147.0 21.8h0.7v0.7h-0.7zM167.3 16.2h0.6v0.9h-0.6zM144.9 20.1h0.8v1.2h-0.8zM158.1 21.2h0.8v0.7h-0.8zM152.4 20.2h1.1v0.6h-1.1zM158.9 18.3h1.2v0.9h-1.2zM136.1 21.9h0.8v1.0h-0.8zM141.0 16.7h0.7v1.2h-0.7zM137.0 17.7h0.7v0.8h-0.7zM168.8 21.0h1.2v1.1h-1.2zM143.8 20.9h1.2v0.9h-1.2zM154.1 21.1h1.2v0.7h-1.2zM142.6 21.5h0.8v1.0h-0.8zM149.6 20.9h0.7v0.7h-0.7zM157.4 24.2h0.8v1.2h-0.8zM147.4 20.5h0.8v1.2h-0.8zM133.2 17.8h1.0v1.2h-1.0zM137.3 17.2h0.8v0.7h-0.8zM149.8 24.2h0.9v1.1h-0.9zM136.1 19.7h1.2v1.1h-1.2zM142.1 17.1h0.7v0.7h-0.7zM155.8 20.2h1.0v1.0h-1.0zM126.1 17.3h0.9v1.2h-0.9zM172.3 19.0h1.0v0.9h-1.0zM151.4 20.7h1.1v1.0h-1.1z"/><path fill="#f09c7b" d="M151.6 19.5h0.7v1.0h-0.7zM173.9 21.2h0.6v0.8h-0.6zM166.3 20.9h1.1v0.9h-1.1zM159.8 20.5h0.8v1.0h-0.8zM146.7 17.8h0.9v1.1h-0.9zM161.3 21.7h0.7v0.8h-0.7zM137.7 17.8h0.8v0.7h-0.8zM146.4 19.7h1.1v0.6h-1.1zM144.2 22.5h1.0v0.7h-1.0zM161.3 23.4h1.0v0.8h-1.0zM127.6 19.6h0.8v1.0h-0.8zM153.9 19.2h1.1v0.9h-1.1zM156.0 21.9h1.0v1.2h-1.0zM144.9 18.5h1.0v1.1h-1.0zM154.1 21.2h0.8v0.8h-0.8zM182.1 19.0h0.9v0.8h-0.9zM144.1 20.0h0.7v0.7h-0.7zM142.0 22.2h0.9v1.1h-0.9zM169.3 21.5h0.6v0.9h-0.6zM133.8 19.6h0.9v0.6h-0.9zM148.0 22.5h0.9v0.9h-0.9zM144.7 20.2h1.1v0.7h-1.1zM153.6 17.8h0.8v1.2h-0.8zM163.6 19.9h0.8v0.7h-0.8zM161.4 19.1h1.0v1.1h-1.0zM132.2 20.7h0.8v0.9h-0.8zM174.3 20.5h1.0v1.0h-1.0zM157.5 21.8h0.9v1.2h-0.9zM144.7 21.1h0.7v0.9h-0.7zM147.0 19.4h0.9v1.2h-0.9zM143.3 23.5h0.7v0.9h-0.7z"/><path fill="#e27b62" d="M150.7 18.3h1.1v1.0h-1.1zM171.0 20.8h0.8v0.8h-0.8zM139.5 19.3h0.9v0.9h-0.9zM176.0 18.0h0.6v0.9h-0.6zM164.9 16.9h0.9v0.7h-0.9zM167.6 18.0h1.0v0.7h-1.0zM154.3 19.2h1.2v0.9h-1.2zM159.5 17.7h0.9v0.9h-0.9zM167.7 19.4h0.7v0.8h-0.7zM153.2 20.5h1.1v1.0h-1.1zM147.4 18.9h0.8v0.7h-0.8zM165.8 23.4h0.9v0.9h-0.9zM146.2 20.2h1.1v1.0h-1.1zM142.1 19.7h1.1v0.7h-1.1zM146.1 19.5h0.6v1.0h-0.6zM143.6 17.3h1.1v0.9h-1.1zM141.4 18.6h1.0v1.1h-1.0zM143.4 20.5h1.1v1.0h-1.1zM167.4 19.7h0.8v1.0h-0.8zM161.1 18.5h0.6v1.2h-0.6zM148.1 19.2h1.2v1.2h-1.2zM157.0 18.9h1.1v1.0h-1.1zM142.2 20.9h0.8v1.1h-0.8zM152.5 20.3h0.8v0.9h-0.8zM160.3 19.8h0.8v0.7h-0.8zM157.5 19.9h0.9v0.7h-0.9zM130.1 22.8h1.2v0.8h-1.2zM137.9 21.2h0.8v1.1h-0.8zM146.6 18.0h1.0v1.1h-1.0z"/><path fill="#f7b799" d="M147.7 19.0h0.8v1.1h-0.8zM141.2 23.0h1.0v1.0h-1.0zM149.2 20.5h0.9v0.8h-0.9zM148.8 20.4h1.0v0.8h-1.0zM153.1 21.2h1.1v0.8h-1.1zM160.5 21.5h1.1v1.2h-1.1zM138.8 20.4h1.1v1.0h-1.1zM144.8 21.5h0.8v1.2h-0.8zM151.8 19.8h1.2v0.8h-1.2zM174.3 18.2h0.8v1.0h-0.8zM152.9 20.3h0.9v0.8h-0.9zM143.1 19.8h1.1v0.9h-1.1zM136.9 21.7h0.9v0.8h-0.9zM153.7 22.8h0.7v0.8h-0.7zM143.5 21.5h0.7v0.8h-0.7zM172.5 23.3h0.9v1.1h-0.9zM131.2 17.4h1.2v1.1h-1.2zM154.0 18.5h1.0v0.8h-1.0zM138.6 22.5h1.2v0.8h-1.2zM160.2 22.0h0.8v1.0h-0.8z"/></g>
<g><path fill="#c5dfec" d="M169.2 16.7h1.0v1.1h-1.0zM153.9 15.0h0.6v1.2h-0.6zM170.0 18.4h0.8v0.8h-0.8zM165.4 19.2h1.0v1.2h-1.0zM175.1 14.8h0.9v1.1h-0.9zM172.1 14.5h0.9v0.8h-0.9zM182.2 16.0h0.7v1.0h-0.7zM179.4 17.8h1.1v0.8h-1.1zM177.2 16.5h1.1v1.1h-1.1zM178.3 13.8h0.8v0.7h-0.8zM171.6 17.0h0.7v1.0h-0.7zM176.8 17.4h1.0v0.8h-1.0zM172.5 17.4h0.8v0.7h-0.8zM180.9 19.0h0.9v1.2h-0.9zM172.2 16.8h0.9v0.8h-0.9zM169.5 20.4h0.6v1.1h-0.6zM184.9 16.2h0.7v0.9h-0.7zM177.6 15.8h0.7v0.7h-0.7zM168.7 14.1h0.7v1.2h-0.7z"/><path fill="#a7d0e4" d="M176.9 16.4h1.0v1.2h-1.0zM169.6 17.0h0.9v1.0h-0.9zM179.0 15.5h0.8v0.7h-0.8zM165.2 15.8h0.9v0.7h-0.9zM190.2 18.2h1.1v0.8h-1.1zM176.6 15.5h0.9v0.8h-0.9zM176.2 14.7h1.1v1.1h-1.1zM177.4 15.7h0.9v0.8h-0.9zM173.4 17.3h0.9v1.0h-0.9zM169.6 17.7h1.1v0.7h-1.1zM182.0 16.0h0.6v1.2h-0.6zM176.0 18.9h0.8v0.9h-0.8zM171.6 16.2h1.2v0.9h-1.2zM174.3 17.5h0.9v0.7h-0.9zM183.4 19.4h0.9v0.8h-0.9zM171.5 17.0h1.0v0.8h-1.0zM176.7 18.5h0.8v0.7h-0.8zM186.4 17.9h0.8v0.7h-0.8zM168.1 16.8h1.2v0.7h-1.2zM168.0 18.3h0.6v0.7h-0.6zM185.9 20.2h1.0v0.8h-1.0zM178.9 15.6h0.7v1.1h-0.7zM174.2 15.5h0.7v1.2h-0.7zM167.0 18.3h0.9v1.0h-0.9z"/><path fill="#dbeaf2" d="M185.5 18.1h1.2v1.2h-1.2zM165.7 16.3h1.1v0.7h-1.1zM169.4 12.2h1.0v0.9h-1.0zM177.7 19.0h0.9v0.8h-0.9zM186.6 18.1h1.1v1.0h-1.1zM172.8 18.1h1.0v0.7h-1.0zM187.5 15.9h0.8v1.1h-0.8zM164.6 14.8h0.7v1.2h-0.7zM176.7 16.1h0.9v1.2h-0.9zM176.3 16.4h0.6v0.7h-0.6zM170.8 17.4h0.9v1.2h-0.9zM161.2 17.0h1.1v1.2h-1.1zM175.9 15.8h0.8v1.0h-0.8zM168.3 18.9h0.7v1.1h-0.7zM182.0 18.4h0.8v1.2h-0.8zM178.1 16.7h0.6v1.1h-0.6zM179.4 17.0h0.6v0.9h-0.6z"/></g>
<ellipse cx="167.8" cy="33.5" rx="5.8" ry="2.1" fill="#c2383a" filter="url(#bl)"/>
<g><path fill="#8d0c25" d="M165.4 36.4h0.8v0.8h-0.8zM170.5 30.7h1.2v0.9h-1.2zM166.7 33.3h0.8v1.3h-0.8zM169.0 32.5h1.2v1.3h-1.2zM164.7 33.1h0.9v0.8h-0.9zM168.0 35.3h0.7v0.8h-0.7zM165.1 30.9h0.9v1.2h-0.9zM162.9 34.0h1.2v0.7h-1.2zM165.5 32.8h1.2v1.0h-1.2zM168.6 32.5h1.2v1.0h-1.2zM173.2 34.4h0.9v0.8h-0.9zM168.1 30.4h0.7v1.3h-0.7zM163.1 34.9h1.2v1.0h-1.2zM163.9 35.8h1.2v0.8h-1.2zM163.4 34.8h0.9v0.8h-0.9zM166.3 32.6h1.0v1.3h-1.0zM169.7 30.3h0.9v1.3h-0.9zM163.9 34.7h1.0v1.1h-1.0zM174.6 33.8h1.2v1.1h-1.2zM163.1 30.7h1.3v0.8h-1.3zM166.7 35.7h1.3v0.8h-1.3zM172.2 31.9h1.1v1.2h-1.1zM169.1 36.9h0.8v0.9h-0.8zM164.6 34.7h1.1v0.7h-1.1z"/><path fill="#c2383a" d="M167.8 33.0h1.2v1.3h-1.2zM171.3 31.6h1.1v1.0h-1.1zM161.0 34.7h1.0v1.3h-1.0zM172.2 34.9h0.9v1.2h-0.9zM180.7 31.7h1.2v1.0h-1.2zM163.1 33.9h1.2v0.8h-1.2zM169.9 33.6h0.7v1.2h-0.7zM163.5 33.3h0.9v0.9h-0.9zM168.9 31.3h1.0v1.3h-1.0zM172.0 37.1h0.9v0.7h-0.9zM166.7 33.9h0.8v1.2h-0.8zM166.0 30.6h1.0v1.3h-1.0z"/><path fill="#b1182b" d="M163.5 29.0h1.1v0.8h-1.1zM165.4 32.2h1.2v1.1h-1.2zM170.7 32.9h1.1v0.9h-1.1zM161.0 30.6h0.9v0.7h-0.9zM168.3 32.1h1.0v1.0h-1.0zM158.4 32.1h1.2v0.8h-1.2zM170.5 30.0h0.8v0.9h-0.8zM169.9 34.1h1.0v0.9h-1.0zM172.0 32.0h0.8v1.2h-0.8zM169.6 34.3h1.0v1.1h-1.0zM172.5 35.5h0.7v0.8h-0.7z"/><path fill="#d35a4a" d="M162.2 34.7h0.7v1.1h-0.7zM169.4 34.2h1.2v0.7h-1.2zM163.2 32.0h0.8v0.8h-0.8zM160.7 35.8h0.9v1.1h-0.9zM166.8 33.7h1.2v0.7h-1.2zM168.7 32.1h0.8v1.2h-0.8zM165.8 31.2h1.2v0.8h-1.2zM157.5 31.6h1.3v1.0h-1.3zM169.3 31.2h1.3v1.3h-1.3zM162.6 33.7h0.8v1.0h-0.8zM171.1 36.2h1.2v0.8h-1.2zM159.0 31.5h1.3v1.2h-1.3zM168.3 31.8h0.9v1.0h-0.9z"/></g>
<ellipse cx="149.7" cy="39.4" rx="5.2" ry="4.1" fill="#f7b799" filter="url(#bl2)"/>
<g><path fill="#8d0c25" d="M150.7 36.3h0.8v1.1h-0.8zM149.5 38.7h0.9v1.2h-0.9zM143.0 34.6h0.8v1.3h-0.8zM146.3 35.4h0.8v0.9h-0.8zM145.9 35.5h1.1v1.0h-1.1zM147.5 36.7h0.8v1.0h-0.8zM152.0 35.1h0.7v1.2h-0.7zM153.4 42.1h0.8v0.9h-0.8zM153.5 32.1h0.9v1.1h-0.9zM142.0 37.9h0.9v1.1h-0.9zM152.3 30.5h0.8v1.1h-0.8zM150.0 39.5h0.7v1.2h-0.7zM144.8 34.6h0.7v0.8h-0.7zM148.3 37.8h1.2v1.0h-1.2z"/><path fill="#b1182b" d="M150.7 36.2h0.9v0.7h-0.9zM151.1 38.1h0.7v1.2h-0.7zM147.3 39.7h1.1v1.0h-1.1zM151.0 37.4h0.9v1.3h-0.9zM146.4 39.0h0.9v0.8h-0.9zM156.8 32.0h0.7v1.2h-0.7zM150.4 35.3h0.7v0.7h-0.7zM147.3 38.0h0.8v1.0h-0.8zM152.7 37.2h0.7v0.9h-0.7zM147.3 38.0h0.9v1.2h-0.9zM148.3 34.7h0.8v1.3h-0.8zM146.9 37.0h0.8v0.8h-0.8zM151.5 37.8h0.8v1.2h-0.8zM152.1 36.8h1.2v0.7h-1.2zM146.5 37.2h0.9v0.7h-0.9z"/><path fill="#d35a4a" d="M143.8 37.5h1.0v1.3h-1.0zM147.0 36.7h1.1v0.8h-1.1zM141.8 37.8h1.1v1.0h-1.1zM157.2 34.8h1.1v1.2h-1.1zM152.7 36.8h0.9v1.2h-0.9zM152.5 34.5h1.2v1.1h-1.2zM149.4 34.1h1.0v1.2h-1.0zM154.9 37.9h1.1v1.2h-1.1zM145.7 39.0h1.1v0.9h-1.1zM149.8 35.2h0.8v0.9h-0.8zM151.5 35.2h0.7v0.9h-0.7zM148.4 38.6h1.0v1.2h-1.0zM151.2 35.7h1.1v1.1h-1.1zM153.6 44.2h0.7v0.7h-0.7zM149.9 36.3h0.9v1.2h-0.9zM150.6 31.1h1.0v1.0h-1.0zM148.7 33.5h1.2v1.0h-1.2zM147.4 39.1h1.2v1.3h-1.2zM149.5 37.2h0.8v0.9h-0.8z"/><path fill="#f09c7b" d="M150.3 39.2h1.2v1.2h-1.2zM144.3 39.3h1.3v0.8h-1.3zM145.8 37.9h0.7v0.9h-0.7zM141.8 35.9h0.8v1.3h-0.8zM148.7 38.2h0.8v0.7h-0.8zM152.5 35.5h1.2v1.3h-1.2zM148.4 39.6h1.2v0.7h-1.2zM153.8 39.7h0.8v1.2h-0.8zM146.2 36.8h0.9v1.2h-0.9zM155.0 34.9h1.3v1.2h-1.3zM149.9 31.6h1.2v0.9h-1.2zM152.1 37.9h0.8v1.3h-0.8z"/></g>
<ellipse cx="109.2" cy="46.5" rx="12.6" ry="1.8" fill="#f09c7b" filter="url(#bl)"/>
<g><path fill="#b1182b" d="M102.1 46.4h0.8v1.0h-0.8zM111.1 47.8h1.0v1.0h-1.0zM103.9 46.8h1.2v1.3h-1.2zM108.2 45.8h1.2v1.3h-1.2zM109.6 45.3h0.8v0.9h-0.8zM118.3 47.3h0.7v1.1h-0.7zM122.5 45.3h0.8v1.3h-0.8zM106.9 46.3h1.2v1.1h-1.2zM117.5 46.8h1.1v0.9h-1.1zM109.3 44.9h1.0v0.8h-1.0zM96.7 46.2h0.7v0.9h-0.7zM111.8 46.0h1.2v0.9h-1.2zM107.7 44.8h1.0v1.2h-1.0zM104.8 45.0h0.7v1.2h-0.7zM102.8 48.2h0.7v1.2h-0.7zM100.7 46.6h1.1v0.7h-1.1zM123.8 47.4h1.1v0.7h-1.1z"/><path fill="#d35a4a" d="M104.4 45.0h0.7v1.0h-0.7zM118.5 43.8h1.1v1.2h-1.1zM112.1 45.6h1.1v0.9h-1.1zM108.7 43.4h0.7v0.8h-0.7zM103.6 45.3h1.1v1.2h-1.1zM106.1 46.4h1.1v0.7h-1.1zM105.7 45.6h1.0v0.8h-1.0zM108.6 45.2h1.1v0.7h-1.1zM106.7 46.4h1.0v1.0h-1.0zM99.0 45.3h0.7v1.3h-0.7zM118.7 45.4h0.8v0.9h-0.8zM118.7 46.7h1.1v1.2h-1.1zM114.4 45.2h1.0v0.9h-1.0z"/><path fill="#f09c7b" d="M109.8 44.9h0.9v1.1h-0.9zM97.8 45.2h1.3v0.8h-1.3zM108.8 47.3h1.2v0.8h-1.2zM108.5 45.3h1.1v0.7h-1.1zM101.8 45.7h1.2v0.7h-1.2zM109.1 44.2h1.1v1.3h-1.1zM112.1 46.0h1.1v0.7h-1.1zM134.4 45.9h1.1v1.2h-1.1zM110.1 47.0h0.7v0.7h-0.7zM106.3 47.5h1.2v1.2h-1.2zM111.4 45.2h0.9v1.3h-0.9zM105.6 43.3h0.9v0.9h-0.9zM117.8 47.0h1.2v1.1h-1.2z"/><path fill="#e27b62" d="M103.1 45.4h1.2v1.3h-1.2zM106.8 48.4h0.8v1.1h-0.8zM111.8 47.4h0.9v1.1h-0.9zM91.4 45.3h0.9v1.2h-0.9zM102.4 49.1h1.1v0.7h-1.1zM107.6 46.1h1.1v0.9h-1.1zM106.0 45.1h0.8v1.1h-0.8zM106.8 45.5h0.9v1.0h-0.9zM114.0 44.0h1.1v0.7h-1.1zM121.5 44.6h0.7v0.8h-0.7zM101.6 46.9h1.2v1.2h-1.2zM109.3 45.9h0.8v0.8h-0.8zM96.8 45.3h0.9v0.9h-0.9zM94.4 46.3h1.2v0.8h-1.2zM108.2 44.0h1.2v1.1h-1.2zM129.3 46.9h0.8v1.2h-0.8zM113.6 46.8h1.0v0.8h-1.0zM96.0 46.5h0.9v1.1h-0.9zM127.9 47.1h0.8v0.9h-0.8zM107.7 45.0h0.6v1.3h-0.6zM111.4 43.6h1.3v0.7h-1.3zM109.5 45.6h1.1v1.0h-1.1zM114.4 44.6h0.7v0.9h-0.7zM98.9 44.2h1.0v1.1h-1.0zM115.4 45.7h1.2v1.0h-1.2zM128.8 46.4h0.7v0.9h-0.7z"/><path fill="#c2383a" d="M104.4 45.9h1.1v1.1h-1.1zM119.9 45.4h1.0v0.7h-1.0zM92.1 49.4h0.8v1.0h-0.8zM113.8 44.7h0.8v0.7h-0.8zM107.8 46.5h0.8v0.8h-0.8zM112.3 47.2h0.8v0.9h-0.8zM111.7 46.0h0.7v1.2h-0.7zM118.5 47.3h1.1v0.9h-1.1zM118.4 45.3h1.2v1.2h-1.2zM101.4 44.6h0.8v1.2h-0.8zM107.2 47.0h1.0v1.0h-1.0zM111.2 47.5h0.8v1.3h-0.8zM102.8 44.9h1.0v1.1h-1.0zM118.0 47.1h1.2v0.8h-1.2zM111.7 44.6h0.7v1.3h-0.7zM98.8 47.4h1.2v0.8h-1.2zM118.4 46.4h0.8v0.9h-0.8zM115.0 45.7h1.0v1.1h-1.0zM103.1 47.0h0.8v1.0h-0.8zM109.2 46.5h0.7v0.7h-0.7zM119.2 45.3h0.9v1.3h-0.9z"/></g>
<ellipse cx="119.1" cy="60.7" rx="8.0" ry="8.3" fill="#f7b799" filter="url(#bl2)"/>
<g><path fill="#f7b799" d="M110.1 50.7h0.8v1.2h-0.8zM107.8 62.2h1.0v0.9h-1.0zM125.4 56.8h1.0v0.7h-1.0zM112.5 60.4h1.2v1.0h-1.2zM115.6 60.5h0.8v1.3h-0.8zM112.3 68.6h0.7v1.3h-0.7zM115.8 56.9h1.2v0.8h-1.2zM112.6 57.6h1.2v0.7h-1.2zM109.4 56.9h0.8v0.9h-0.8zM124.4 68.3h1.2v1.3h-1.2zM127.0 52.8h0.7v1.1h-0.7zM124.4 62.7h1.2v0.8h-1.2zM120.1 64.0h1.0v0.7h-1.0zM120.7 52.2h1.0v1.1h-1.0zM119.5 66.2h0.9v0.7h-0.9zM119.1 58.3h0.7v1.0h-0.7zM122.7 53.4h0.8v0.9h-0.8zM125.9 73.7h1.0v1.0h-1.0zM109.9 62.5h0.7v0.8h-0.7zM119.8 50.2h0.9v0.9h-0.9zM106.8 69.9h1.1v1.1h-1.1zM122.6 66.7h0.7v1.2h-0.7zM123.8 64.9h1.0v1.0h-1.0zM101.4 56.7h0.9v0.9h-0.9zM111.0 67.4h0.7v0.7h-0.7zM120.1 50.5h0.8v0.9h-0.8zM121.1 44.9h0.7v0.8h-0.7zM108.8 59.0h1.0v1.1h-1.0zM115.7 62.7h1.2v0.9h-1.2zM121.4 53.6h0.7v0.8h-0.7zM115.5 48.3h0.8v1.3h-0.8zM120.3 59.9h1.1v0.9h-1.1zM114.2 52.0h1.2v1.0h-1.2zM124.5 67.0h1.2v1.0h-1.2zM108.3 51.9h1.1v0.9h-1.1zM114.8 56.1h1.3v1.2h-1.3zM120.8 70.6h1.0v0.8h-1.0zM118.4 68.3h1.0v1.1h-1.0zM114.8 59.2h1.2v0.9h-1.2zM119.0 57.5h1.2v0.9h-1.2z"/><path fill="#fcd3bc" d="M117.7 61.5h0.7v1.0h-0.7zM114.8 59.6h1.3v1.2h-1.3zM119.3 56.9h0.8v1.1h-0.8zM121.2 60.4h0.9v1.2h-0.9zM114.1 65.4h1.0v0.7h-1.0zM126.4 65.6h0.9v0.8h-0.9zM124.3 66.3h0.8v1.0h-0.8zM130.0 48.8h1.1v1.0h-1.1zM124.6 62.0h1.0v0.9h-1.0zM116.5 61.7h1.3v1.0h-1.3zM106.2 52.9h1.1v1.1h-1.1zM120.6 62.1h1.3v0.7h-1.3zM112.9 63.7h1.1v1.1h-1.1zM113.1 62.2h0.8v1.3h-0.8zM117.9 55.1h1.3v0.8h-1.3zM111.9 73.4h0.8v0.8h-0.8zM119.5 61.0h1.2v1.0h-1.2zM119.2 65.9h1.0v0.7h-1.0zM119.3 55.9h1.0v1.0h-1.0zM119.3 47.7h0.9v1.3h-0.9zM110.7 65.9h0.8v1.2h-0.8zM122.1 60.8h0.7v1.0h-0.7zM118.5 65.1h1.2v0.8h-1.2zM114.9 62.3h0.7v0.8h-0.7zM115.4 67.7h0.7v0.7h-0.7zM121.5 55.1h0.7v0.9h-0.7zM113.4 56.2h0.9v0.7h-0.9zM119.9 53.5h1.2v0.9h-1.2zM113.9 64.2h0.8v1.3h-0.8zM115.5 49.2h1.0v1.0h-1.0zM117.0 53.0h1.1v1.2h-1.1zM123.9 69.8h1.0v0.8h-1.0zM120.1 63.6h1.2v0.8h-1.2zM127.9 55.3h0.8v1.2h-0.8zM126.5 63.0h0.9v0.9h-0.9zM121.3 58.8h0.7v0.8h-0.7zM118.1 62.2h0.8v0.8h-0.8zM112.5 56.7h1.3v1.2h-1.3z"/><path fill="#f09c7b" d="M127.2 53.5h1.0v1.2h-1.0zM111.6 68.0h1.0v1.0h-1.0zM121.2 57.1h1.2v1.2h-1.2zM116.8 67.7h1.0v0.8h-1.0zM114.9 66.5h0.8v0.7h-0.8zM111.7 65.2h1.3v1.1h-1.3zM117.2 57.0h0.8v1.1h-0.8zM118.4 69.9h0.9v0.9h-0.9zM111.8 57.5h0.9v1.2h-0.9zM108.3 43.5h0.9v0.7h-0.9zM110.5 59.5h0.9v0.9h-0.9zM122.4 56.2h1.2v1.2h-1.2zM113.0 59.7h1.1v1.0h-1.1zM120.9 60.3h1.3v1.2h-1.3zM123.0 55.7h0.9v1.3h-0.9zM125.2 62.0h1.2v1.0h-1.2zM118.9 62.7h1.2v0.9h-1.2zM113.3 68.8h1.2v0.9h-1.2zM120.6 57.7h1.1v0.9h-1.1zM123.0 66.9h1.2v0.7h-1.2zM118.8 47.8h0.9v0.9h-0.9zM108.7 73.7h1.1v0.7h-1.1zM121.6 53.8h1.0v0.8h-1.0zM116.3 55.0h0.8v0.9h-0.8zM119.7 59.1h1.2v0.9h-1.2zM115.8 53.3h1.1v1.0h-1.1zM132.6 62.3h1.1v0.9h-1.1zM119.3 55.1h0.7v1.1h-0.7zM125.2 60.0h0.7v1.1h-0.7zM114.5 59.9h0.9v0.9h-0.9zM119.6 58.4h0.9v0.7h-0.9zM115.7 62.4h1.1v0.9h-1.1zM115.3 56.8h1.2v0.9h-1.2zM119.4 56.2h0.7v1.2h-0.7zM121.3 64.3h1.2v1.0h-1.2zM119.4 53.7h0.8v1.1h-0.8zM119.6 55.7h0.7v1.3h-0.7zM116.5 58.6h1.0v0.7h-1.0zM124.8 54.7h1.0v1.0h-1.0z"/><path fill="#e27b62" d="M114.0 53.2h0.7v0.9h-0.7zM110.7 65.3h0.9v1.0h-0.9zM126.1 45.0h1.0v1.0h-1.0zM126.1 66.6h0.9v0.9h-0.9zM112.7 60.1h0.9v0.9h-0.9zM116.9 61.8h1.1v1.1h-1.1zM117.0 64.7h1.0v1.2h-1.0zM116.1 62.3h1.3v0.8h-1.3zM111.2 72.0h1.0v0.7h-1.0zM130.4 54.2h1.1v1.3h-1.1zM120.6 60.4h0.9v0.9h-0.9zM123.6 70.9h0.9v1.2h-0.9zM123.9 62.4h0.8v0.9h-0.8zM129.1 58.0h0.9v0.7h-0.9zM117.8 48.0h1.0v0.9h-1.0zM119.0 61.3h1.0v1.3h-1.0zM119.8 59.8h0.9v1.2h-0.9zM133.8 64.7h1.2v1.3h-1.2zM125.2 53.9h1.1v0.7h-1.1zM114.4 56.0h1.1v1.0h-1.1zM112.1 55.8h0.7v1.1h-0.7zM122.3 55.2h1.3v1.3h-1.3zM123.4 53.9h1.0v1.0h-1.0zM117.9 63.2h0.9v1.2h-0.9zM122.5 59.6h1.1v0.9h-1.1zM121.4 55.7h0.7v1.1h-0.7zM107.6 62.0h1.2v0.8h-1.2zM112.5 60.7h0.9v1.1h-0.9zM124.8 59.3h1.1v0.8h-1.1zM118.0 59.0h1.1v1.0h-1.1zM119.8 62.4h1.2v1.1h-1.2zM115.0 52.8h1.0v0.9h-1.0zM121.3 49.9h0.9v0.7h-0.9z"/></g>
<ellipse cx="179.9" cy="67.3" rx="5.2" ry="3.6" fill="#dbeaf2" filter="url(#bl2)"/>
<g><path fill="#f7b799" d="M172.8 67.0h1.2v1.2h-1.2zM177.0 65.4h1.0v0.9h-1.0zM183.9 63.8h0.7v0.9h-0.7zM181.5 70.8h1.3v0.9h-1.3zM187.5 77.6h0.7v0.9h-0.7zM174.8 70.3h0.7v0.9h-0.7zM185.2 67.4h1.2v1.0h-1.2zM171.5 68.5h0.7v1.0h-0.7zM179.2 63.6h1.3v1.0h-1.3zM177.9 70.1h0.8v0.7h-0.8zM176.9 65.6h1.1v0.7h-1.1zM192.3 63.2h0.9v1.0h-0.9zM172.9 63.3h1.0v0.8h-1.0zM185.5 70.3h1.2v0.9h-1.2zM182.8 68.7h1.0v1.3h-1.0zM172.7 67.4h0.9v0.8h-0.9zM189.4 66.5h1.2v0.7h-1.2zM186.1 68.0h0.9v1.2h-0.9zM188.1 68.2h0.8v1.2h-0.8zM186.8 70.5h1.1v1.0h-1.1zM178.0 62.7h0.7v0.9h-0.7z"/><path fill="#dbeaf2" d="M171.1 58.6h1.3v0.9h-1.3zM169.8 67.2h0.9v1.0h-0.9zM181.9 64.1h1.1v1.2h-1.1zM179.6 74.2h0.7v1.2h-0.7zM179.5 63.9h0.7v0.7h-0.7zM189.9 61.2h1.2v1.3h-1.2zM170.2 69.7h1.2v0.7h-1.2zM181.0 70.2h1.1v1.2h-1.1zM181.3 65.6h1.3v0.9h-1.3zM180.2 72.3h1.3v1.0h-1.3zM176.6 65.9h0.8v1.2h-0.8z"/><path fill="#fcd3bc" d="M171.3 70.0h0.8v1.1h-0.8zM182.1 73.0h1.2v0.9h-1.2zM179.9 72.5h1.2v1.3h-1.2zM176.6 64.6h1.0v1.2h-1.0zM182.3 69.1h1.0v1.3h-1.0zM182.1 67.3h0.9v0.9h-0.9zM179.5 64.2h1.2v1.2h-1.2zM171.0 68.9h1.1v0.7h-1.1zM183.7 72.0h1.2v0.8h-1.2zM177.1 64.6h1.2v0.8h-1.2zM193.2 71.5h0.9v1.3h-0.9zM189.6 66.0h1.3v0.9h-1.3zM184.5 68.2h0.7v1.3h-0.7zM184.7 62.2h1.2v0.7h-1.2zM178.8 59.5h1.2v1.2h-1.2zM181.4 68.1h1.1v1.0h-1.1zM177.1 62.1h0.9v1.1h-0.9z"/><path fill="#fbe4d6" d="M173.6 69.4h0.9v0.8h-0.9zM181.7 63.6h0.9v1.3h-0.9zM186.7 68.8h0.9v0.8h-0.9zM185.1 67.4h1.3v1.1h-1.3zM181.8 72.9h1.0v1.1h-1.0zM189.8 66.0h1.0v1.2h-1.0zM182.0 64.3h1.3v1.2h-1.3zM171.1 68.1h1.1v1.3h-1.1zM183.0 57.9h0.9v0.8h-0.9zM169.3 65.3h0.8v1.3h-0.8zM178.9 64.5h0.9v1.2h-0.9zM177.0 58.1h1.1v0.7h-1.1zM184.6 67.1h0.9v1.2h-0.9zM177.3 65.3h1.0v0.8h-1.0zM177.8 74.8h0.9v0.8h-0.9zM173.2 60.3h1.0v1.2h-1.0zM177.5 58.6h0.7v0.9h-0.7zM182.5 71.0h0.7v1.2h-0.7zM190.3 67.0h0.8v0.7h-0.8zM174.4 75.1h0.8v0.9h-0.8zM186.2 66.7h1.1v0.9h-1.1z"/></g>
<ellipse cx="188.6" cy="73.2" rx="2.3" ry="2.4" fill="#f7b799" filter="url(#bl)"/>
</g>
<use href="#casp" fill="#fff"/>
<path d="M34.4 0V88.0M68.4 0V88.0M103.3 0V88.0M138.4 0V88.0M172.3 0V88.0M0 5.1H207.3M0 16.9H207.3M0 28.8H207.3M0 40.6H207.3M0 52.5H207.3M0 64.3H207.3M0 76.1H207.3" stroke="#c6c6c6" stroke-width="0.85" fill="none"/>
<use href="#land" fill="none" stroke="#111" stroke-width="0.88" stroke-linejoin="round"/>
<use href="#casp" fill="none" stroke="#111" stroke-width="0.88"/>
</g>
<path d="M0 0H207.3V88.0H0" fill="none" stroke="#606060" stroke-width="0.9"/>
<path d="M-0.1 -0.4V88.4" stroke="#b4b4b4" stroke-width="1.7"/>
<text x="34.4" y="-1.5" font-size="6.1" textLength="16.57" lengthAdjust="spacingAndGlyphs" text-anchor="middle">120°W</text>
<text x="34.4" y="93.2" font-size="6.1" textLength="16.57" lengthAdjust="spacingAndGlyphs" text-anchor="middle">120°W</text>
<text x="68.4" y="-1.5" font-size="6.1" textLength="13.51" lengthAdjust="spacingAndGlyphs" text-anchor="middle">60°W</text>
<text x="68.4" y="93.2" font-size="6.1" textLength="13.51" lengthAdjust="spacingAndGlyphs" text-anchor="middle">60°W</text>
<text x="103.3" y="-1.5" font-size="6.1" textLength="5.26" lengthAdjust="spacingAndGlyphs" text-anchor="middle">0°</text>
<text x="103.3" y="93.2" font-size="6.1" textLength="5.26" lengthAdjust="spacingAndGlyphs" text-anchor="middle">0°</text>
<text x="138.4" y="-1.5" font-size="6.1" textLength="11.99" lengthAdjust="spacingAndGlyphs" text-anchor="middle">60°E</text>
<text x="138.4" y="93.2" font-size="6.1" textLength="11.99" lengthAdjust="spacingAndGlyphs" text-anchor="middle">60°E</text>
<text x="172.3" y="-1.5" font-size="6.1" textLength="15.04" lengthAdjust="spacingAndGlyphs" text-anchor="middle">120°E</text>
<text x="172.3" y="93.2" font-size="6.1" textLength="15.04" lengthAdjust="spacingAndGlyphs" text-anchor="middle">120°E</text>
<text x="-0.5" y="7.4" font-size="6.1" textLength="12.29" lengthAdjust="spacingAndGlyphs" text-anchor="end">80°N</text>
<text x="208.0" y="7.4" font-size="6.1" textLength="12.29" lengthAdjust="spacingAndGlyphs">80°N</text>
<text x="-0.5" y="19.2" font-size="6.1" textLength="12.29" lengthAdjust="spacingAndGlyphs" text-anchor="end">60°N</text>
<text x="208.0" y="19.2" font-size="6.1" textLength="12.29" lengthAdjust="spacingAndGlyphs">60°N</text>
<text x="-0.5" y="31.1" font-size="6.1" textLength="12.29" lengthAdjust="spacingAndGlyphs" text-anchor="end">40°N</text>
<text x="208.0" y="31.1" font-size="6.1" textLength="12.29" lengthAdjust="spacingAndGlyphs">40°N</text>
<text x="-0.5" y="42.9" font-size="6.1" textLength="12.29" lengthAdjust="spacingAndGlyphs" text-anchor="end">20°N</text>
<text x="208.0" y="42.9" font-size="6.1" textLength="12.29" lengthAdjust="spacingAndGlyphs">20°N</text>
<text x="-0.5" y="54.8" font-size="6.1" textLength="5.26" lengthAdjust="spacingAndGlyphs" text-anchor="end">0°</text>
<text x="208.0" y="54.8" font-size="6.1" textLength="5.26" lengthAdjust="spacingAndGlyphs">0°</text>
<text x="-0.5" y="66.6" font-size="6.1" textLength="11.99" lengthAdjust="spacingAndGlyphs" text-anchor="end">20°S</text>
<text x="208.0" y="66.6" font-size="6.1" textLength="11.99" lengthAdjust="spacingAndGlyphs">20°S</text>
<text x="-0.5" y="78.4" font-size="6.1" textLength="11.99" lengthAdjust="spacingAndGlyphs" text-anchor="end">40°S</text>
<text x="208.0" y="78.4" font-size="6.1" textLength="11.99" lengthAdjust="spacingAndGlyphs">40°S</text>
<text x="-0.5" y="90.3" font-size="6.1" textLength="11.99" lengthAdjust="spacingAndGlyphs" text-anchor="end">60°S</text>
<text x="208.0" y="90.3" font-size="6.1" textLength="11.99" lengthAdjust="spacingAndGlyphs">60°S</text>
<text x="103.7" y="-7.4" font-size="8.3" text-anchor="middle" textLength="13.9" lengthAdjust="spacingAndGlyphs">CTE</text>
</g>
<g transform="translate(274.10,251.60)">
<g clip-path="url(#fc)"><g clip-path="url(#lc)">
<rect x="0" y="0" width="207.3" height="88.0" fill="#f8efea"/>
<ellipse cx="34.4" cy="21.7" rx="12.6" ry="8.3" fill="#edf2f5" filter="url(#bl2)"/>
<ellipse cx="41.2" cy="30.0" rx="5.8" ry="4.7" fill="#edf2f5" filter="url(#bl2)"/>
<ellipse cx="57.1" cy="25.8" rx="5.8" ry="4.7" fill="#fbe4d6" filter="url(#bl2)"/>
<ellipse cx="69.6" cy="58.4" rx="9.8" ry="8.3" fill="#f7b799" filter="url(#bl2)"/>
<ellipse cx="76.0" cy="61.3" rx="4.6" ry="3.6" fill="#f09c7b" filter="url(#bl2)"/>
<ellipse cx="78.3" cy="61.9" rx="2.0" ry="1.8" fill="#e27b62" filter="url(#bl)"/>
<ellipse cx="67.3" cy="67.3" rx="4.0" ry="3.6" fill="#fcd3bc" filter="url(#bl2)"/>
<ellipse cx="110.3" cy="46.5" rx="12.6" ry="3.0" fill="#f7b799" filter="url(#bl2)"/>
<ellipse cx="97.5" cy="46.5" rx="2.9" ry="1.8" fill="#f09c7b" filter="url(#bl)"/>
<ellipse cx="119.1" cy="57.2" rx="8.6" ry="7.7" fill="#f7b799" filter="url(#bl2)"/>
<ellipse cx="119.1" cy="62.5" rx="2.9" ry="1.8" fill="#e27b62" filter="url(#bl)"/>
<ellipse cx="115.0" cy="55.4" rx="4.0" ry="3.6" fill="#f09c7b" opacity="0.80" filter="url(#bl2)"/>
<ellipse cx="161.0" cy="15.7" rx="17.2" ry="3.6" fill="#edf2f5" filter="url(#bl2)"/>
<ellipse cx="154.2" cy="32.9" rx="8.0" ry="3.0" fill="#edf2f5" filter="url(#bl2)"/>
<ellipse cx="115.0" cy="21.7" rx="11.5" ry="4.1" fill="#fbe4d6" filter="url(#bl2)"/>
<ellipse cx="162.7" cy="42.4" rx="2.9" ry="3.6" fill="#f09c7b" filter="url(#bl)"/>
<ellipse cx="179.9" cy="63.1" rx="8.6" ry="3.6" fill="#f7b799" filter="url(#bl2)"/>
<ellipse cx="181.1" cy="70.2" rx="6.9" ry="3.0" fill="#edf2f5" filter="url(#bl2)"/>
</g>
<use href="#casp" fill="#fff"/>
<path d="M34.4 0V88.0M68.4 0V88.0M103.3 0V88.0M138.4 0V88.0M172.3 0V88.0M0 5.1H207.3M0 16.9H207.3M0 28.8H207.3M0 40.6H207.3M0 52.5H207.3M0 64.3H207.3M0 76.1H207.3" stroke="#c6c6c6" stroke-width="0.85" fill="none"/>
<use href="#land" fill="none" stroke="#111" stroke-width="0.88" stroke-linejoin="round"/>
<use href="#casp" fill="none" stroke="#111" stroke-width="0.88"/>
</g>
<path d="M0 0H207.3V88.0H0" fill="none" stroke="#606060" stroke-width="0.9"/>
<path d="M0 -0.4V88.4" stroke="#606060" stroke-width="0.9"/>
<text x="34.4" y="-1.5" font-size="6.1" textLength="16.57" lengthAdjust="spacingAndGlyphs" text-anchor="middle">120°W</text>
<text x="34.4" y="93.2" font-size="6.1" textLength="16.57" lengthAdjust="spacingAndGlyphs" text-anchor="middle">120°W</text>
<text x="68.4" y="-1.5" font-size="6.1" textLength="13.51" lengthAdjust="spacingAndGlyphs" text-anchor="middle">60°W</text>
<text x="68.4" y="93.2" font-size="6.1" textLength="13.51" lengthAdjust="spacingAndGlyphs" text-anchor="middle">60°W</text>
<text x="103.3" y="-1.5" font-size="6.1" textLength="5.26" lengthAdjust="spacingAndGlyphs" text-anchor="middle">0°</text>
<text x="103.3" y="93.2" font-size="6.1" textLength="5.26" lengthAdjust="spacingAndGlyphs" text-anchor="middle">0°</text>
<text x="138.4" y="-1.5" font-size="6.1" textLength="11.99" lengthAdjust="spacingAndGlyphs" text-anchor="middle">60°E</text>
<text x="138.4" y="93.2" font-size="6.1" textLength="11.99" lengthAdjust="spacingAndGlyphs" text-anchor="middle">60°E</text>
<text x="172.3" y="-1.5" font-size="6.1" textLength="15.04" lengthAdjust="spacingAndGlyphs" text-anchor="middle">120°E</text>
<text x="172.3" y="93.2" font-size="6.1" textLength="15.04" lengthAdjust="spacingAndGlyphs" text-anchor="middle">120°E</text>
<text x="-0.5" y="7.4" font-size="6.1" textLength="12.29" lengthAdjust="spacingAndGlyphs" text-anchor="end">80°N</text>
<text x="208.0" y="7.4" font-size="6.1" textLength="12.29" lengthAdjust="spacingAndGlyphs">80°N</text>
<text x="-0.5" y="19.2" font-size="6.1" textLength="12.29" lengthAdjust="spacingAndGlyphs" text-anchor="end">60°N</text>
<text x="208.0" y="19.2" font-size="6.1" textLength="12.29" lengthAdjust="spacingAndGlyphs">60°N</text>
<text x="-0.5" y="31.1" font-size="6.1" textLength="12.29" lengthAdjust="spacingAndGlyphs" text-anchor="end">40°N</text>
<text x="208.0" y="31.1" font-size="6.1" textLength="12.29" lengthAdjust="spacingAndGlyphs">40°N</text>
<text x="-0.5" y="42.9" font-size="6.1" textLength="12.29" lengthAdjust="spacingAndGlyphs" text-anchor="end">20°N</text>
<text x="208.0" y="42.9" font-size="6.1" textLength="12.29" lengthAdjust="spacingAndGlyphs">20°N</text>
<text x="-0.5" y="54.8" font-size="6.1" textLength="5.26" lengthAdjust="spacingAndGlyphs" text-anchor="end">0°</text>
<text x="208.0" y="54.8" font-size="6.1" textLength="5.26" lengthAdjust="spacingAndGlyphs">0°</text>
<text x="-0.5" y="66.6" font-size="6.1" textLength="11.99" lengthAdjust="spacingAndGlyphs" text-anchor="end">20°S</text>
<text x="208.0" y="66.6" font-size="6.1" textLength="11.99" lengthAdjust="spacingAndGlyphs">20°S</text>
<text x="-0.5" y="78.4" font-size="6.1" textLength="11.99" lengthAdjust="spacingAndGlyphs" text-anchor="end">40°S</text>
<text x="208.0" y="78.4" font-size="6.1" textLength="11.99" lengthAdjust="spacingAndGlyphs">40°S</text>
<text x="-0.5" y="90.3" font-size="6.1" textLength="11.99" lengthAdjust="spacingAndGlyphs" text-anchor="end">60°S</text>
<text x="208.0" y="90.3" font-size="6.1" textLength="11.99" lengthAdjust="spacingAndGlyphs">60°S</text>
<text x="103.7" y="-7.4" font-size="8.3" text-anchor="middle" textLength="43.2" lengthAdjust="spacingAndGlyphs">CarboScope</text>
</g>
<g transform="translate(19.00,368.15)">
<g clip-path="url(#fc)"><g clip-path="url(#lc)">
<rect x="0" y="0" width="207.3" height="88.0" fill="#f8eeea"/>
<ellipse cx="37.2" cy="28.8" rx="5.2" ry="4.7" fill="#dbeaf2" filter="url(#bl2)"/>
<ellipse cx="37.8" cy="27.6" rx="1.7" ry="1.8" fill="#a7d0e4" filter="url(#bl)"/>
<ellipse cx="48.0" cy="28.8" rx="6.3" ry="4.1" fill="#fcd3bc" filter="url(#bl2)"/>
<ellipse cx="51.4" cy="32.3" rx="1.4" ry="1.2" fill="#f09c7b" filter="url(#bl)"/>
<ellipse cx="45.7" cy="19.9" rx="11.5" ry="3.6" fill="#fbe4d6" filter="url(#bl2)"/>
<g><path fill="#fcd3bc" d="M48.6 19.6h0.8v1.2h-0.8zM47.7 20.0h0.8v0.8h-0.8zM34.7 22.8h1.1v0.6h-1.1zM34.6 27.0h0.8v1.2h-0.8zM47.1 23.5h1.1v1.0h-1.1zM46.8 25.1h0.6v1.1h-0.6zM59.0 23.8h1.0v0.8h-1.0zM45.6 24.8h0.7v1.2h-0.7zM47.1 25.1h1.0v1.2h-1.0zM48.0 24.7h0.8v0.8h-0.8zM45.0 18.0h0.7v1.2h-0.7zM41.4 19.0h0.8v1.0h-0.8zM48.8 22.5h0.9v0.8h-0.9zM43.4 27.0h0.7v0.7h-0.7zM43.5 23.0h1.0v0.8h-1.0zM49.5 17.4h0.6v0.8h-0.6zM56.7 25.8h0.6v1.0h-0.6z"/><path fill="#f7b799" d="M51.1 28.5h0.9v0.9h-0.9zM65.3 28.9h1.2v1.2h-1.2zM55.5 26.0h1.1v1.0h-1.1zM51.4 21.3h0.9v0.9h-0.9zM47.0 25.0h1.1v1.1h-1.1zM44.6 20.0h1.1v0.6h-1.1zM53.1 27.8h1.0v0.8h-1.0zM50.8 25.5h0.8v1.0h-0.8zM43.6 25.1h1.1v0.7h-1.1zM45.5 18.1h1.0v0.9h-1.0zM56.1 26.2h0.8v0.9h-0.8zM33.2 18.2h0.8v0.9h-0.8zM48.3 25.7h0.6v0.9h-0.6zM52.5 30.5h0.7v1.2h-0.7zM40.6 28.7h0.8v1.1h-0.8zM43.6 26.2h0.7v0.8h-0.7zM48.9 24.5h0.8v1.1h-0.8zM48.8 37.5h0.9v1.2h-0.9zM52.7 26.3h1.0v1.1h-1.0zM45.9 28.1h0.7v1.0h-0.7zM53.1 27.4h1.0v0.8h-1.0zM53.9 22.0h0.6v0.7h-0.6zM54.6 34.2h0.8v1.1h-0.8zM42.6 26.2h0.9v1.2h-0.9zM42.1 26.8h0.9v1.2h-0.9zM58.0 24.7h1.2v0.7h-1.2zM54.3 18.6h0.9v0.7h-0.9zM50.5 28.7h0.8v1.1h-0.8zM53.7 31.3h1.0v0.8h-1.0zM52.4 27.6h1.2v0.7h-1.2zM39.6 18.6h1.1v0.8h-1.1zM46.0 26.3h0.8v0.8h-0.8z"/><path fill="#dbeaf2" d="M44.9 30.8h1.0v0.8h-1.0zM43.0 24.3h1.1v0.8h-1.1zM61.9 24.4h0.7v1.0h-0.7zM69.5 26.5h0.9v0.9h-0.9zM38.2 32.1h1.0v0.7h-1.0zM48.8 33.1h1.1v1.2h-1.1zM47.1 28.7h1.1v1.0h-1.1zM34.4 21.1h1.2v1.1h-1.2zM54.0 18.9h1.1v1.2h-1.1zM50.4 31.9h0.6v0.8h-0.6zM53.0 23.1h0.9v1.2h-0.9zM55.2 21.9h1.0v0.8h-1.0zM57.1 21.5h0.8v1.0h-0.8zM57.5 34.2h1.1v1.0h-1.1zM41.9 19.7h0.8v1.1h-0.8zM25.8 23.6h0.6v1.0h-0.6zM56.2 27.1h0.6v0.7h-0.6zM48.1 26.8h1.2v0.7h-1.2zM52.9 20.6h0.7v1.1h-0.7zM52.7 28.3h0.6v0.9h-0.6zM37.3 25.2h1.0v0.9h-1.0zM55.8 26.1h0.8v0.9h-0.8zM54.8 16.4h1.2v0.8h-1.2zM54.1 16.4h1.0v1.0h-1.0zM47.8 24.5h1.0v1.0h-1.0z"/><path fill="#fbe4d6" d="M56.1 25.6h1.1v0.6h-1.1zM52.6 26.0h1.2v1.2h-1.2zM43.2 16.2h1.0v0.7h-1.0zM43.8 29.6h1.1v1.2h-1.1zM53.1 29.8h0.9v0.7h-0.9zM56.7 27.1h1.0v0.9h-1.0zM55.8 17.9h1.1v1.1h-1.1zM49.0 24.9h0.9v1.1h-0.9zM54.5 31.4h0.9v1.0h-0.9zM65.1 33.2h0.7v1.1h-0.7zM48.9 22.6h1.1v0.7h-1.1zM46.4 29.4h1.1v0.9h-1.1zM32.9 28.3h0.8v1.1h-0.8zM42.6 26.7h1.2v1.2h-1.2zM58.6 21.4h1.1v1.2h-1.1zM57.8 28.3h0.7v0.7h-0.7zM36.9 20.7h0.7v1.1h-0.7zM48.2 21.5h1.0v0.8h-1.0zM54.9 31.2h0.7v0.7h-0.7zM40.1 24.9h0.7v1.2h-0.7zM40.8 24.1h1.0v0.6h-1.0z"/><path fill="#edf2f5" d="M54.9 33.2h0.7v1.0h-0.7zM66.6 25.5h0.7v1.1h-0.7zM45.0 24.4h1.1v0.9h-1.1zM45.3 24.3h0.9v1.2h-0.9zM47.9 29.4h0.7v1.2h-0.7zM34.5 28.5h0.8v1.2h-0.8zM56.1 22.9h1.0v0.6h-1.0zM47.9 25.9h1.0v1.1h-1.0zM56.6 17.5h0.9v0.7h-0.9zM47.0 23.4h1.1v1.1h-1.1zM59.7 21.4h1.1v0.8h-1.1zM33.5 23.9h0.9v1.0h-0.9zM49.0 22.0h1.2v1.2h-1.2zM39.1 19.6h0.8v1.0h-0.8zM46.7 31.6h0.9v0.9h-0.9zM54.7 25.4h0.8v0.8h-0.8zM48.9 21.0h0.9v0.8h-0.9zM34.4 16.6h0.6v1.0h-0.6zM48.7 20.7h1.0v1.2h-1.0zM52.5 29.7h1.0v0.9h-1.0zM56.4 22.7h1.1v1.2h-1.1zM56.4 21.1h1.0v1.2h-1.0zM46.1 23.6h0.6v1.0h-0.6zM37.2 21.6h0.9v1.1h-0.9zM48.7 25.1h1.1v1.1h-1.1z"/></g>
<ellipse cx="67.3" cy="54.2" rx="8.6" ry="4.7" fill="#fcd3bc" filter="url(#bl2)"/>
<ellipse cx="70.1" cy="61.3" rx="3.4" ry="2.1" fill="#84bcd9" filter="url(#bl)"/>
<ellipse cx="71.3" cy="61.3" rx="1.4" ry="0.9" fill="#3f8ec0" filter="url(#bl)"/>
<ellipse cx="67.3" cy="70.8" rx="4.0" ry="4.1" fill="#e27b62" filter="url(#bl2)"/>
<ellipse cx="67.3" cy="72.0" rx="1.7" ry="1.8" fill="#d35a4a" filter="url(#bl)"/>
<ellipse cx="132.6" cy="20.5" rx="25.9" ry="4.1" fill="#fcd3bc" filter="url(#bl2)"/>
<g><path fill="#fbe4d6" d="M140.6 20.2h1.2v0.9h-1.2zM144.1 19.5h1.2v1.3h-1.2zM134.2 20.0h0.9v0.8h-0.9zM138.1 19.4h1.3v1.0h-1.3zM115.0 18.3h1.0v0.8h-1.0zM142.8 15.6h0.9v0.8h-0.9zM116.5 25.9h1.0v1.1h-1.0zM148.4 19.9h0.7v1.0h-0.7zM150.6 15.9h1.0v1.1h-1.0zM147.1 20.9h1.1v1.0h-1.1zM121.3 23.1h0.8v1.1h-0.8zM131.3 17.6h1.2v1.3h-1.2zM150.5 18.6h0.9v1.0h-0.9zM128.5 24.3h1.3v1.1h-1.3zM125.7 18.5h0.7v1.3h-0.7zM161.4 22.4h0.8v1.1h-0.8zM102.5 18.2h1.2v0.8h-1.2zM145.5 14.7h1.0v0.8h-1.0zM136.6 17.6h0.8v0.8h-0.8zM147.1 21.6h0.7v0.7h-0.7zM145.0 19.5h0.9v1.1h-0.9zM142.1 14.7h0.9v0.7h-0.9zM137.3 15.4h0.9v1.0h-0.9zM105.9 17.9h1.2v1.1h-1.2zM133.4 16.7h1.1v1.3h-1.1zM156.9 17.2h0.7v1.1h-0.7zM133.2 17.8h0.9v1.3h-0.9zM140.1 16.1h1.1v1.1h-1.1zM134.5 21.2h0.9v0.9h-0.9zM158.6 17.1h1.2v1.2h-1.2zM162.5 16.5h0.8v1.1h-0.8zM145.4 16.0h0.9v0.9h-0.9zM128.1 22.2h1.1v0.8h-1.1zM126.9 15.9h0.8v1.3h-0.8zM122.3 16.9h1.2v0.8h-1.2zM135.6 17.2h0.7v0.8h-0.7zM125.0 19.5h0.7v0.9h-0.7zM154.8 16.3h1.2v1.3h-1.2zM153.8 17.6h0.8v1.3h-0.8zM118.3 23.9h0.9v1.2h-0.9zM147.4 26.0h1.0v1.2h-1.0zM157.3 21.9h1.3v0.9h-1.3zM150.5 17.3h1.0v1.2h-1.0zM139.9 26.7h0.7v1.3h-0.7zM131.2 20.6h1.2v0.9h-1.2z"/><path fill="#f09c7b" d="M145.6 17.1h1.0v1.0h-1.0zM154.6 23.1h1.2v1.1h-1.2zM162.4 18.3h1.2v0.8h-1.2zM142.7 24.9h1.1v1.1h-1.1zM105.3 20.2h1.1v0.7h-1.1zM160.1 17.2h0.9v0.7h-0.9zM114.7 21.1h0.8v0.9h-0.8zM131.2 18.5h0.9v1.0h-0.9zM122.2 15.3h1.1v1.2h-1.1zM145.0 22.5h0.8v1.1h-0.8zM143.9 22.8h0.8v1.2h-0.8zM138.5 16.7h0.7v1.0h-0.7zM82.7 19.2h0.9v1.0h-0.9zM147.0 20.1h1.1v0.8h-1.1zM95.6 20.2h1.3v1.0h-1.3zM123.2 26.2h1.0v1.2h-1.0zM124.0 23.5h0.9v1.2h-0.9zM113.4 19.1h1.0v0.7h-1.0zM126.2 20.2h1.0v1.2h-1.0zM139.9 18.9h0.7v1.2h-0.7zM105.2 13.6h0.9v1.2h-0.9zM119.1 24.6h1.3v1.2h-1.3zM144.1 21.8h0.7v0.9h-0.7zM163.8 15.1h1.2v1.3h-1.2zM148.1 17.7h1.1v1.1h-1.1zM158.4 22.4h0.7v1.2h-0.7zM137.0 19.4h0.7v0.8h-0.7zM161.8 23.1h0.7v1.1h-0.7zM115.9 22.0h1.2v0.9h-1.2zM133.4 26.3h0.8v0.8h-0.8zM118.9 19.6h0.7v0.8h-0.7z"/><path fill="#f7b799" d="M117.9 25.4h0.7v1.0h-0.7zM142.7 18.8h1.1v0.8h-1.1zM136.8 21.7h1.2v1.0h-1.2zM164.7 21.5h1.0v1.2h-1.0zM157.5 17.9h0.7v1.1h-0.7zM139.4 19.0h0.9v0.8h-0.9zM142.0 19.6h0.8v0.9h-0.8zM155.3 19.7h0.7v0.9h-0.7zM156.2 17.2h0.7v1.0h-0.7zM137.8 19.6h0.8v0.8h-0.8zM107.8 19.2h1.3v0.9h-1.3zM155.6 21.1h1.2v1.3h-1.2zM105.9 20.0h1.3v1.1h-1.3zM115.3 20.5h0.8v0.9h-0.8zM111.5 16.8h1.0v1.0h-1.0zM136.3 15.7h0.7v0.9h-0.7zM128.2 22.0h1.2v0.8h-1.2zM125.3 25.1h0.7v0.9h-0.7zM130.1 19.1h1.0v1.1h-1.0zM148.5 24.2h0.9v0.9h-0.9zM145.1 18.6h0.9v1.2h-0.9zM124.5 20.3h1.1v0.7h-1.1zM142.2 16.7h1.2v0.9h-1.2zM118.7 21.4h1.0v0.8h-1.0zM127.5 19.2h1.0v0.8h-1.0zM139.7 22.1h1.0v1.3h-1.0zM132.2 17.0h1.3v1.0h-1.3zM136.8 16.2h0.9v0.9h-0.9zM147.4 22.6h0.7v1.0h-0.7zM138.5 13.6h0.7v0.9h-0.7zM156.1 18.7h0.7v1.0h-0.7zM146.0 23.4h0.7v0.7h-0.7zM112.8 19.3h1.2v1.3h-1.2zM135.1 26.1h1.1v1.2h-1.1zM137.5 21.8h1.3v0.8h-1.3zM123.4 17.2h1.3v1.1h-1.3zM137.9 20.5h1.3v0.8h-1.3z"/><path fill="#fcd3bc" d="M124.2 20.2h0.9v1.2h-0.9zM141.9 16.2h1.0v1.2h-1.0zM146.1 17.4h0.8v0.8h-0.8zM134.4 14.2h1.1v1.3h-1.1zM124.2 17.9h0.8v0.9h-0.8zM145.5 19.0h0.9v0.8h-0.9zM95.4 20.4h1.0v0.8h-1.0zM142.0 25.1h0.8v1.1h-0.8zM130.2 17.6h1.1v1.0h-1.1zM139.3 17.0h0.9v1.3h-0.9zM128.0 20.7h0.7v0.9h-0.7zM119.5 17.6h0.9v1.1h-0.9zM98.1 23.8h1.0v0.9h-1.0zM95.1 21.6h0.7v0.9h-0.7zM143.3 25.5h1.0v0.8h-1.0zM152.2 19.1h1.2v0.7h-1.2zM159.6 16.1h0.8v1.2h-0.8zM147.3 20.6h1.1v1.3h-1.1zM138.9 13.1h0.8v1.0h-0.8zM119.7 24.0h1.0v0.8h-1.0zM135.4 23.0h0.8v0.9h-0.8zM135.9 24.3h1.0v1.2h-1.0zM139.7 21.8h1.2v0.9h-1.2zM129.8 16.5h0.6v1.1h-0.6zM141.2 23.6h0.7v0.7h-0.7zM120.4 23.5h0.9v1.1h-0.9zM126.1 20.3h0.7v0.7h-0.7zM151.7 21.1h1.2v0.8h-1.2zM100.2 21.5h0.8v1.1h-0.8zM121.2 16.4h0.7v1.1h-0.7zM115.3 22.3h0.8v1.1h-0.8zM121.6 19.1h0.8v0.7h-0.8zM149.9 18.1h0.7v1.1h-0.7zM127.9 20.4h0.9v1.2h-0.9zM135.4 15.5h1.1v0.7h-1.1zM106.4 15.4h0.8v1.0h-0.8zM114.9 16.9h0.8v0.7h-0.8zM122.4 15.8h0.7v1.3h-0.7zM171.6 22.5h0.7v1.3h-0.7zM153.2 22.6h0.7v0.9h-0.7zM141.9 20.7h0.9v1.1h-0.9zM140.3 24.7h1.0v0.9h-1.0zM134.3 17.9h0.7v0.9h-0.7zM136.2 22.3h1.2v1.2h-1.2zM156.9 17.1h1.3v0.9h-1.3zM129.9 21.1h0.9v1.1h-0.9zM124.3 20.0h1.0v0.7h-1.0z"/></g>
<ellipse cx="147.4" cy="19.9" rx="4.6" ry="1.8" fill="#f7b799" filter="url(#bl)"/>
<ellipse cx="175.2" cy="24.6" rx="5.8" ry="4.1" fill="#f7b799" filter="url(#bl2)"/>
<ellipse cx="167.8" cy="22.3" rx="1.1" ry="1.2" fill="#e27b62" filter="url(#bl)"/>
<ellipse cx="161.0" cy="40.6" rx="4.0" ry="5.3" fill="#f09c7b" filter="url(#bl2)"/>
<ellipse cx="161.0" cy="39.4" rx="2.3" ry="2.4" fill="#d35a4a" filter="url(#bl)"/>
<ellipse cx="155.4" cy="31.7" rx="6.9" ry="3.0" fill="#edf2f5" filter="url(#bl2)"/>
<ellipse cx="116.2" cy="51.9" rx="9.2" ry="4.1" fill="#e27b62" filter="url(#bl2)"/>
<ellipse cx="115.0" cy="51.3" rx="4.6" ry="2.4" fill="#d35a4a" filter="url(#bl)"/>
<ellipse cx="118.5" cy="58.4" rx="6.9" ry="5.3" fill="#f7b799" filter="url(#bl2)"/>
<ellipse cx="106.2" cy="45.3" rx="10.3" ry="2.4" fill="#fcd3bc" filter="url(#bl2)"/>
<ellipse cx="97.5" cy="46.5" rx="2.9" ry="1.8" fill="#f7b799" filter="url(#bl)"/>
<ellipse cx="116.2" cy="67.8" rx="1.1" ry="1.2" fill="#c5dfec" filter="url(#bl)"/>
<ellipse cx="181.1" cy="67.3" rx="8.0" ry="5.3" fill="#f8f1ed" filter="url(#bl2)"/>
</g>
<use href="#casp" fill="#fff"/>
<path d="M34.4 0V88.0M68.4 0V88.0M103.3 0V88.0M138.4 0V88.0M172.3 0V88.0M0 5.1H207.3M0 16.9H207.3M0 28.8H207.3M0 40.6H207.3M0 52.5H207.3M0 64.3H207.3M0 76.1H207.3" stroke="#c6c6c6" stroke-width="0.85" fill="none"/>
<use href="#land" fill="none" stroke="#111" stroke-width="0.88" stroke-linejoin="round"/>
<use href="#casp" fill="none" stroke="#111" stroke-width="0.88"/>
</g>
<path d="M0 0H207.3V88.0H0" fill="none" stroke="#606060" stroke-width="0.9"/>
<path d="M-0.1 -0.4V88.4" stroke="#b4b4b4" stroke-width="1.7"/>
<text x="34.4" y="-1.5" font-size="6.1" textLength="16.57" lengthAdjust="spacingAndGlyphs" text-anchor="middle">120°W</text>
<text x="34.4" y="93.2" font-size="6.1" textLength="16.57" lengthAdjust="spacingAndGlyphs" text-anchor="middle">120°W</text>
<text x="68.4" y="-1.5" font-size="6.1" textLength="13.51" lengthAdjust="spacingAndGlyphs" text-anchor="middle">60°W</text>
<text x="68.4" y="93.2" font-size="6.1" textLength="13.51" lengthAdjust="spacingAndGlyphs" text-anchor="middle">60°W</text>
<text x="103.3" y="-1.5" font-size="6.1" textLength="5.26" lengthAdjust="spacingAndGlyphs" text-anchor="middle">0°</text>
<text x="103.3" y="93.2" font-size="6.1" textLength="5.26" lengthAdjust="spacingAndGlyphs" text-anchor="middle">0°</text>
<text x="138.4" y="-1.5" font-size="6.1" textLength="11.99" lengthAdjust="spacingAndGlyphs" text-anchor="middle">60°E</text>
<text x="138.4" y="93.2" font-size="6.1" textLength="11.99" lengthAdjust="spacingAndGlyphs" text-anchor="middle">60°E</text>
<text x="172.3" y="-1.5" font-size="6.1" textLength="15.04" lengthAdjust="spacingAndGlyphs" text-anchor="middle">120°E</text>
<text x="172.3" y="93.2" font-size="6.1" textLength="15.04" lengthAdjust="spacingAndGlyphs" text-anchor="middle">120°E</text>
<text x="-0.5" y="7.4" font-size="6.1" textLength="12.29" lengthAdjust="spacingAndGlyphs" text-anchor="end">80°N</text>
<text x="208.0" y="7.4" font-size="6.1" textLength="12.29" lengthAdjust="spacingAndGlyphs">80°N</text>
<text x="-0.5" y="19.2" font-size="6.1" textLength="12.29" lengthAdjust="spacingAndGlyphs" text-anchor="end">60°N</text>
<text x="208.0" y="19.2" font-size="6.1" textLength="12.29" lengthAdjust="spacingAndGlyphs">60°N</text>
<text x="-0.5" y="31.1" font-size="6.1" textLength="12.29" lengthAdjust="spacingAndGlyphs" text-anchor="end">40°N</text>
<text x="208.0" y="31.1" font-size="6.1" textLength="12.29" lengthAdjust="spacingAndGlyphs">40°N</text>
<text x="-0.5" y="42.9" font-size="6.1" textLength="12.29" lengthAdjust="spacingAndGlyphs" text-anchor="end">20°N</text>
<text x="208.0" y="42.9" font-size="6.1" textLength="12.29" lengthAdjust="spacingAndGlyphs">20°N</text>
<text x="-0.5" y="54.8" font-size="6.1" textLength="5.26" lengthAdjust="spacingAndGlyphs" text-anchor="end">0°</text>
<text x="208.0" y="54.8" font-size="6.1" textLength="5.26" lengthAdjust="spacingAndGlyphs">0°</text>
<text x="-0.5" y="66.6" font-size="6.1" textLength="11.99" lengthAdjust="spacingAndGlyphs" text-anchor="end">20°S</text>
<text x="208.0" y="66.6" font-size="6.1" textLength="11.99" lengthAdjust="spacingAndGlyphs">20°S</text>
<text x="-0.5" y="78.4" font-size="6.1" textLength="11.99" lengthAdjust="spacingAndGlyphs" text-anchor="end">40°S</text>
<text x="208.0" y="78.4" font-size="6.1" textLength="11.99" lengthAdjust="spacingAndGlyphs">40°S</text>
<text x="-0.5" y="90.3" font-size="6.1" textLength="11.99" lengthAdjust="spacingAndGlyphs" text-anchor="end">60°S</text>
<text x="208.0" y="90.3" font-size="6.1" textLength="11.99" lengthAdjust="spacingAndGlyphs">60°S</text>
<text x="103.7" y="-7.4" font-size="8.3" text-anchor="middle" textLength="25.7" lengthAdjust="spacingAndGlyphs">IAPCAS</text>
</g>
<g transform="translate(274.10,368.15)">
<g clip-path="url(#fc)"><g clip-path="url(#lc)">
<rect x="0" y="0" width="207.3" height="88.0" fill="#f6efec"/>
<ellipse cx="42.9" cy="22.9" rx="23.0" ry="13.0" fill="#edf2f5" filter="url(#bl2)"/>
<ellipse cx="45.7" cy="30.0" rx="8.0" ry="5.3" fill="#edf2f5" filter="url(#bl2)"/>
<ellipse cx="67.3" cy="22.9" rx="2.9" ry="2.4" fill="#fbe4d6" filter="url(#bl2)"/>
<ellipse cx="45.7" cy="39.4" rx="4.6" ry="3.0" fill="#fbe4d6" filter="url(#bl2)"/>
<ellipse cx="52.5" cy="44.2" rx="2.3" ry="1.8" fill="#f7b799" filter="url(#bl)"/>
<ellipse cx="61.0" cy="48.3" rx="1.1" ry="1.2" fill="#e27b62" filter="url(#bl)"/>
<ellipse cx="69.6" cy="58.4" rx="9.8" ry="8.3" fill="#fcd3bc" filter="url(#bl2)"/>
<g><path fill="#f7b799" d="M66.5 56.2h1.1v0.9h-1.1zM75.3 51.4h0.8v1.1h-0.8zM68.2 61.6h1.0v1.2h-1.0zM78.4 71.5h0.7v0.8h-0.7zM57.1 62.5h0.8v1.2h-0.8zM67.6 58.3h0.7v0.8h-0.7zM65.5 58.2h0.9v1.0h-0.9zM77.5 59.2h0.9v0.9h-0.9zM77.5 62.0h0.9v1.2h-0.9zM64.4 55.2h0.7v0.9h-0.7zM65.6 59.9h0.6v0.8h-0.6zM74.3 61.2h1.2v0.7h-1.2zM71.4 60.9h1.1v0.7h-1.1zM64.4 56.6h0.9v0.7h-0.9zM71.2 66.8h0.9v1.1h-0.9zM74.3 65.8h0.6v0.8h-0.6zM69.9 61.8h0.8v0.7h-0.8zM59.8 67.4h0.9v0.9h-0.9zM67.1 59.8h0.9v0.7h-0.9zM79.7 60.1h0.6v0.7h-0.6zM61.5 64.5h1.2v1.1h-1.2zM72.2 53.2h0.9v0.9h-0.9zM70.4 60.2h1.1v1.2h-1.1zM70.2 48.3h1.1v1.1h-1.1zM66.8 63.2h1.2v0.8h-1.2zM72.5 51.3h1.2v0.8h-1.2z"/><path fill="#f09c7b" d="M73.5 61.9h0.8v1.1h-0.8zM69.4 61.5h1.0v0.7h-1.0zM78.3 66.6h0.8v0.7h-0.8zM81.9 61.4h0.6v1.0h-0.6zM71.4 59.5h0.7v0.9h-0.7zM83.0 65.1h0.7v1.2h-0.7zM61.5 66.3h1.0v0.9h-1.0zM63.9 55.5h1.0v0.9h-1.0zM68.3 59.3h1.0v1.0h-1.0zM68.0 57.6h1.0v1.1h-1.0zM73.2 53.7h0.7v0.7h-0.7zM72.5 63.5h0.8v0.6h-0.8zM74.3 60.3h0.8v0.7h-0.8zM66.9 65.9h0.9v0.7h-0.9zM72.8 50.8h0.8v1.2h-0.8zM70.8 61.0h0.6v0.9h-0.6zM61.1 59.6h0.7v1.2h-0.7zM72.9 59.3h1.0v1.1h-1.0zM84.1 49.8h0.8v0.7h-0.8zM62.8 57.2h0.9v0.8h-0.9zM66.6 54.4h0.7v0.7h-0.7zM56.4 57.6h0.7v0.8h-0.7zM73.3 55.8h1.1v1.2h-1.1zM64.9 55.3h0.7v0.8h-0.7zM61.3 65.2h1.2v1.0h-1.2zM80.3 62.0h0.8v0.8h-0.8zM65.6 60.7h0.6v0.7h-0.6zM82.7 57.3h0.6v1.1h-0.6zM71.7 58.2h0.7v1.0h-0.7zM67.2 58.2h0.8v0.9h-0.8zM65.5 51.7h1.2v1.1h-1.2zM64.1 70.8h1.1v1.2h-1.1zM66.3 67.9h0.7v1.1h-0.7zM62.2 52.9h1.1v0.8h-1.1z"/><path fill="#fcd3bc" d="M60.9 64.0h0.9v0.7h-0.9zM67.2 60.7h0.9v0.8h-0.9zM74.5 57.5h1.0v0.7h-1.0zM71.1 58.3h1.2v1.1h-1.2zM74.4 62.9h1.0v0.9h-1.0zM67.7 68.1h1.1v1.0h-1.1zM66.0 59.3h0.9v1.1h-0.9zM80.2 63.8h1.0v0.7h-1.0zM62.8 51.5h0.6v0.9h-0.6zM75.4 56.9h1.1v1.2h-1.1zM79.3 63.1h1.1v0.9h-1.1zM68.3 54.2h1.1v1.2h-1.1zM67.7 53.3h0.8v1.2h-0.8zM79.3 66.8h1.1v1.2h-1.1zM79.6 60.8h0.7v1.0h-0.7zM63.7 64.5h1.2v1.1h-1.2zM59.8 48.4h1.1v0.9h-1.1zM66.5 59.5h0.7v1.2h-0.7zM71.6 57.9h1.1v1.0h-1.1zM72.6 64.4h1.1v0.7h-1.1zM63.9 56.9h0.7v0.9h-0.7zM62.9 50.1h1.0v1.2h-1.0zM76.7 55.8h0.6v1.0h-0.6zM72.5 48.0h1.0v1.2h-1.0zM80.8 60.2h0.7v0.8h-0.7zM70.4 52.7h0.6v0.9h-0.6zM60.4 66.1h0.7v0.9h-0.7zM63.3 62.8h1.2v0.8h-1.2zM76.7 41.0h1.2v1.0h-1.2zM75.2 58.4h1.1v0.9h-1.1zM66.3 64.7h0.8v1.2h-0.8z"/><path fill="#fbe4d6" d="M70.6 58.5h1.1v0.8h-1.1zM71.7 57.8h0.9v1.1h-0.9zM58.4 62.2h0.8v0.7h-0.8zM61.0 56.7h0.7v1.0h-0.7zM63.7 47.2h1.1v0.8h-1.1zM66.7 59.1h1.0v0.7h-1.0zM63.6 56.7h0.8v0.8h-0.8zM62.5 57.6h0.6v1.1h-0.6zM73.3 58.7h0.7v1.0h-0.7zM71.2 55.6h0.7v1.0h-0.7zM75.0 63.1h0.9v0.8h-0.9zM62.7 51.7h0.9v0.8h-0.9zM67.1 65.6h1.1v1.0h-1.1zM79.0 60.3h0.9v0.7h-0.9zM67.4 43.8h0.8v0.6h-0.8zM72.6 72.9h0.8v0.9h-0.8zM63.0 67.2h0.9v0.7h-0.9zM63.4 49.7h0.8v0.9h-0.8zM65.2 57.6h0.9v0.7h-0.9zM69.8 58.4h1.1v1.0h-1.1zM59.0 66.6h0.7v0.7h-0.7zM75.3 60.5h1.1v0.8h-1.1zM72.2 58.8h0.7v1.0h-0.7zM68.5 52.7h1.2v0.9h-1.2zM63.3 68.6h0.8v0.8h-0.8zM77.3 59.7h0.9v1.1h-0.9zM65.9 62.0h0.9v1.1h-0.9zM67.6 67.2h0.9v1.0h-0.9zM70.6 61.4h1.2v0.7h-1.2z"/></g>
<ellipse cx="69.0" cy="72.0" rx="2.9" ry="2.4" fill="#e27b62" filter="url(#bl)"/>
<ellipse cx="69.6" cy="72.6" rx="1.1" ry="1.2" fill="#d35a4a"/>
<ellipse cx="144.1" cy="22.9" rx="28.7" ry="8.3" fill="#fbe4d6" filter="url(#bl2)"/>
<g><path fill="#f7b799" d="M146.9 26.7h0.8v0.7h-0.8zM143.7 36.1h0.7v1.0h-0.7zM173.2 10.6h0.7v0.9h-0.7zM139.3 20.2h1.1v1.1h-1.1zM103.8 29.7h0.7v0.8h-0.7zM124.4 36.0h1.0v1.1h-1.0zM160.8 23.8h1.2v1.2h-1.2zM160.3 30.6h1.0v0.8h-1.0zM141.2 21.7h1.0v1.0h-1.0zM146.9 30.0h0.8v1.2h-0.8zM148.7 25.5h0.9v0.7h-0.9zM116.5 9.8h0.7v0.8h-0.7zM139.3 18.0h1.0v0.8h-1.0zM149.4 20.8h0.7v0.7h-0.7zM146.5 12.9h0.8v1.1h-0.8zM147.1 23.1h0.9v1.2h-0.9zM180.3 19.4h0.7v1.2h-0.7zM135.7 27.7h0.7v1.1h-0.7zM140.5 29.4h0.8v1.2h-0.8zM172.2 22.2h0.6v0.8h-0.6zM151.9 23.9h1.0v0.7h-1.0zM138.2 24.4h0.8v1.1h-0.8zM178.6 39.3h0.8v0.9h-0.8zM135.0 37.8h1.2v0.7h-1.2zM159.8 26.1h0.6v1.0h-0.6zM132.2 15.0h1.0v0.9h-1.0zM132.5 19.2h0.6v0.9h-0.6zM142.9 18.5h1.0v1.0h-1.0zM158.2 15.4h1.0v1.2h-1.0zM138.2 23.5h1.1v1.2h-1.1zM147.1 35.7h0.9v1.0h-0.9zM158.1 35.8h0.6v0.8h-0.6zM160.0 31.6h1.0v1.2h-1.0zM114.1 35.1h1.0v1.1h-1.0zM146.1 20.0h1.1v0.7h-1.1zM131.4 20.4h0.6v1.1h-0.6zM131.9 29.1h0.8v0.9h-0.8zM129.6 18.4h1.0v1.1h-1.0zM154.8 20.4h0.7v0.8h-0.7zM150.5 32.4h0.8v0.7h-0.8zM170.3 24.4h0.7v0.7h-0.7zM167.1 28.0h1.1v0.7h-1.1zM140.9 16.6h1.0v1.2h-1.0zM143.7 27.7h1.1v1.0h-1.1zM135.5 19.2h0.6v0.9h-0.6zM130.9 24.8h1.0v1.1h-1.0zM120.2 35.9h0.9v1.1h-0.9zM158.6 28.9h0.9v1.0h-0.9zM139.1 18.3h0.7v0.8h-0.7zM137.4 27.1h1.0v0.9h-1.0zM152.7 14.1h0.7v1.0h-0.7zM173.4 15.3h0.7v0.6h-0.7zM145.2 17.6h0.7v0.7h-0.7zM142.7 16.3h0.8v1.0h-0.8zM127.4 22.5h0.6v0.8h-0.6zM158.4 23.4h1.0v1.1h-1.0zM165.2 28.9h1.0v1.1h-1.0zM168.0 28.3h0.9v1.0h-0.9zM124.7 23.4h0.7v1.0h-0.7z"/><path fill="#fbe4d6" d="M171.6 18.4h0.7v0.9h-0.7zM160.9 24.4h1.0v1.0h-1.0zM170.9 21.1h1.0v0.7h-1.0zM111.1 10.7h1.0v0.8h-1.0zM148.9 32.9h0.8v0.8h-0.8zM155.0 22.0h0.9v0.7h-0.9zM106.7 9.3h0.8v1.0h-0.8zM176.6 25.1h0.8v0.9h-0.8zM165.5 11.2h0.8v1.0h-0.8zM143.0 26.7h0.9v0.7h-0.9zM159.8 17.9h0.9v0.8h-0.9zM141.5 31.5h0.9v0.8h-0.9zM152.5 24.9h0.7v0.8h-0.7zM176.1 13.1h1.0v0.8h-1.0zM132.3 21.6h0.6v1.0h-0.6zM145.7 27.2h0.8v1.2h-0.8zM144.0 25.9h1.1v1.2h-1.1zM145.6 37.8h1.0v0.7h-1.0zM136.2 7.6h1.0v0.7h-1.0zM149.9 15.8h0.7v1.0h-0.7zM150.4 18.2h1.0v0.9h-1.0zM162.4 34.8h1.2v1.1h-1.2zM124.1 27.2h0.8v1.0h-0.8zM149.2 22.1h1.1v0.9h-1.1zM152.7 32.4h1.1v1.1h-1.1zM157.7 29.0h0.7v0.8h-0.7zM118.0 26.9h1.0v1.1h-1.0zM138.4 29.4h1.1v0.8h-1.1zM156.6 13.3h1.0v0.9h-1.0zM151.4 33.1h1.0v1.1h-1.0zM116.6 25.9h0.9v0.7h-0.9zM126.7 17.4h0.6v1.2h-0.6zM174.3 33.8h1.1v1.0h-1.1zM191.7 35.0h0.6v0.9h-0.6zM145.6 25.9h0.9v1.2h-0.9zM144.4 32.6h0.9v1.0h-0.9zM153.8 31.6h1.0v0.8h-1.0zM140.9 31.2h0.9v0.9h-0.9zM148.9 31.8h0.9v0.8h-0.9zM124.6 31.9h0.8v0.7h-0.8zM160.2 22.6h1.1v1.0h-1.1zM152.4 30.1h0.8v1.2h-0.8zM160.3 22.9h0.6v0.6h-0.6zM154.7 35.1h1.1v0.7h-1.1zM170.5 32.9h0.8v0.7h-0.8zM180.8 28.7h1.0v0.6h-1.0zM152.3 38.4h0.6v1.1h-0.6z"/><path fill="#fcd3bc" d="M149.9 26.1h1.0v0.8h-1.0zM136.2 14.6h0.7v0.6h-0.7zM143.8 20.2h1.2v1.0h-1.2zM136.3 23.9h1.1v1.0h-1.1zM169.4 25.4h1.1v1.2h-1.1zM173.2 29.1h1.0v1.0h-1.0zM146.7 15.3h0.8v0.7h-0.8zM141.7 27.8h0.9v1.1h-0.9zM151.1 37.3h1.0v1.2h-1.0zM122.0 28.2h1.0v0.9h-1.0zM171.0 21.2h0.6v0.6h-0.6zM132.1 24.1h0.7v0.9h-0.7zM114.9 21.9h0.9v1.2h-0.9zM179.0 31.5h0.8v0.9h-0.8zM173.5 36.7h0.8v1.2h-0.8zM172.9 10.4h1.1v0.7h-1.1zM185.5 32.4h0.9v1.2h-0.9zM155.9 25.5h0.9v0.7h-0.9zM145.6 23.3h0.8v0.7h-0.8zM157.6 26.7h1.1v1.1h-1.1zM156.9 20.6h1.0v0.7h-1.0zM181.7 10.8h1.1v1.0h-1.1zM147.0 24.9h1.2v1.1h-1.2zM159.3 21.1h1.1v0.8h-1.1zM142.0 28.0h1.1v1.2h-1.1zM162.4 38.8h0.7v1.2h-0.7zM146.1 13.1h0.8v0.6h-0.8zM141.4 31.2h1.2v1.2h-1.2zM131.1 32.7h1.0v0.8h-1.0zM133.1 14.1h1.0v0.8h-1.0zM150.3 23.8h1.2v1.0h-1.2zM136.4 20.7h1.0v0.6h-1.0zM149.3 37.6h1.1v0.8h-1.1zM161.1 31.4h1.1v0.8h-1.1zM152.7 33.5h0.8v0.7h-0.8zM158.9 19.8h1.0v0.7h-1.0zM139.8 28.4h0.8v0.9h-0.8zM153.8 26.0h1.2v0.7h-1.2zM158.9 24.9h0.9v0.7h-0.9zM126.8 32.8h1.1v0.7h-1.1zM120.2 13.3h0.6v1.1h-0.6zM185.0 11.3h0.8v0.9h-0.8zM136.6 28.9h1.1v0.7h-1.1zM191.1 24.3h0.7v0.9h-0.7zM151.3 28.5h0.8v0.8h-0.8zM150.0 29.9h1.0v0.8h-1.0zM153.5 20.5h0.8v1.1h-0.8zM152.9 23.7h0.9v1.1h-0.9zM167.3 28.4h0.8v0.7h-0.8zM145.3 26.9h1.1v1.2h-1.1zM127.4 32.8h1.0v0.8h-1.0zM142.3 11.4h1.0v1.2h-1.0zM158.2 21.9h1.2v1.1h-1.2zM136.1 31.6h0.9v0.9h-0.9z"/></g>
<ellipse cx="101.6" cy="27.6" rx="3.4" ry="2.4" fill="#edf2f5" filter="url(#bl)"/>
<ellipse cx="163.3" cy="23.4" rx="2.3" ry="1.2" fill="#f09c7b" filter="url(#bl)"/>
<ellipse cx="166.7" cy="35.9" rx="5.8" ry="5.3" fill="#f7b799" filter="url(#bl2)"/>
<ellipse cx="163.3" cy="41.8" rx="2.9" ry="3.0" fill="#f09c7b" filter="url(#bl)"/>
<ellipse cx="117.9" cy="54.8" rx="7.5" ry="5.9" fill="#fcd3bc" filter="url(#bl2)"/>
<g><path fill="#f7b799" d="M125.2 52.6h1.2v0.9h-1.2zM115.9 53.4h1.1v0.9h-1.1zM121.7 55.0h0.8v0.7h-0.8zM129.2 50.0h0.8v1.2h-0.8zM124.5 55.6h0.8v1.0h-0.8zM112.0 55.6h0.7v0.7h-0.7zM119.9 62.8h1.0v1.2h-1.0zM111.2 49.3h1.0v1.1h-1.0zM105.8 44.8h0.6v0.9h-0.6zM111.2 54.6h1.0v0.8h-1.0zM123.7 48.6h0.8v0.7h-0.8zM114.6 55.2h0.7v0.6h-0.7zM120.5 60.1h1.0v1.1h-1.0zM123.0 54.4h0.8v0.9h-0.8zM119.8 46.1h0.8v1.2h-0.8zM116.6 52.1h0.7v0.7h-0.7zM110.1 53.0h0.6v1.1h-0.6zM115.3 54.2h1.0v0.7h-1.0zM125.4 60.1h0.6v0.8h-0.6zM127.1 49.4h1.0v0.8h-1.0zM117.8 55.8h0.7v0.6h-0.7zM114.7 52.6h1.0v0.8h-1.0zM120.5 59.0h0.9v1.1h-0.9zM106.8 50.7h1.1v0.7h-1.1zM112.1 52.4h0.6v1.1h-0.6zM123.8 53.8h1.0v1.2h-1.0z"/><path fill="#f09c7b" d="M116.7 56.5h0.9v0.6h-0.9zM112.7 52.3h1.1v1.2h-1.1zM115.0 54.6h1.0v1.0h-1.0zM114.3 49.4h0.9v0.7h-0.9zM121.6 52.3h0.8v1.1h-0.8zM116.5 56.0h1.0v0.8h-1.0zM123.4 60.0h1.1v0.7h-1.1zM115.9 57.1h0.8v1.0h-0.8zM121.7 46.5h1.0v0.7h-1.0zM118.3 53.6h1.1v1.2h-1.1zM107.8 57.1h0.9v0.9h-0.9zM118.1 56.0h1.2v1.0h-1.2zM116.1 55.8h0.7v1.2h-0.7zM111.1 59.4h0.6v0.7h-0.6zM117.9 47.9h1.0v1.2h-1.0zM123.9 56.8h1.0v0.7h-1.0zM121.9 57.1h0.7v0.8h-0.7zM125.0 60.6h0.8v0.7h-0.8zM115.8 54.5h0.9v0.9h-0.9zM115.0 61.3h0.9v0.7h-0.9zM112.8 58.1h1.0v0.8h-1.0zM119.1 59.0h1.0v0.9h-1.0zM115.1 50.3h0.7v0.9h-0.7zM125.0 55.7h0.8v0.9h-0.8zM119.3 53.9h1.0v1.0h-1.0z"/><path fill="#fcd3bc" d="M122.8 51.2h0.7v0.9h-0.7zM126.8 50.8h1.1v1.2h-1.1zM124.3 59.0h1.0v0.6h-1.0zM126.6 59.9h0.7v1.0h-0.7zM116.9 46.3h1.1v1.2h-1.1zM109.6 49.8h0.8v0.7h-0.8zM118.0 50.5h0.7v0.8h-0.7zM118.9 48.4h0.7v0.9h-0.7zM122.6 53.9h0.8v1.0h-0.8zM116.4 47.0h1.1v1.1h-1.1zM112.8 53.8h0.7v1.1h-0.7zM110.0 53.3h0.9v0.9h-0.9zM114.9 67.1h1.2v1.1h-1.2zM117.2 51.8h0.8v0.8h-0.8zM119.2 61.4h0.8v1.1h-0.8zM111.9 52.1h0.7v1.0h-0.7zM117.8 54.0h0.8v0.6h-0.8zM116.4 52.2h0.6v1.0h-0.6zM121.5 55.0h0.7v0.7h-0.7z"/></g>
<ellipse cx="115.0" cy="67.8" rx="5.2" ry="3.6" fill="#dbeaf2" filter="url(#bl2)"/>
<ellipse cx="167.8" cy="52.5" rx="4.6" ry="2.4" fill="#f7b799" filter="url(#bl)"/>
<ellipse cx="184.0" cy="55.4" rx="4.0" ry="1.8" fill="#f09c7b" filter="url(#bl)"/>
<ellipse cx="179.9" cy="61.9" rx="6.3" ry="3.6" fill="#f09c7b" filter="url(#bl2)"/>
<ellipse cx="179.9" cy="60.1" rx="1.7" ry="1.2" fill="#d35a4a" filter="url(#bl)"/>
<ellipse cx="181.1" cy="69.0" rx="7.5" ry="3.6" fill="#fcd3bc" filter="url(#bl2)"/>
<ellipse cx="188.6" cy="73.2" rx="1.7" ry="1.8" fill="#f09c7b" filter="url(#bl)"/>
</g>
<use href="#casp" fill="#fff"/>
<path d="M34.4 0V88.0M68.4 0V88.0M103.3 0V88.0M138.4 0V88.0M172.3 0V88.0M0 5.1H207.3M0 16.9H207.3M0 28.8H207.3M0 40.6H207.3M0 52.5H207.3M0 64.3H207.3M0 76.1H207.3" stroke="#c6c6c6" stroke-width="0.85" fill="none"/>
<use href="#land" fill="none" stroke="#111" stroke-width="0.88" stroke-linejoin="round"/>
<use href="#casp" fill="none" stroke="#111" stroke-width="0.88"/>
</g>
<path d="M0 0H207.3V88.0H0" fill="none" stroke="#606060" stroke-width="0.9"/>
<path d="M0 -0.4V88.4" stroke="#606060" stroke-width="0.9"/>
<text x="34.4" y="-1.5" font-size="6.1" textLength="16.57" lengthAdjust="spacingAndGlyphs" text-anchor="middle">120°W</text>
<text x="34.4" y="93.2" font-size="6.1" textLength="16.57" lengthAdjust="spacingAndGlyphs" text-anchor="middle">120°W</text>
<text x="68.4" y="-1.5" font-size="6.1" textLength="13.51" lengthAdjust="spacingAndGlyphs" text-anchor="middle">60°W</text>
<text x="68.4" y="93.2" font-size="6.1" textLength="13.51" lengthAdjust="spacingAndGlyphs" text-anchor="middle">60°W</text>
<text x="103.3" y="-1.5" font-size="6.1" textLength="5.26" lengthAdjust="spacingAndGlyphs" text-anchor="middle">0°</text>
<text x="103.3" y="93.2" font-size="6.1" textLength="5.26" lengthAdjust="spacingAndGlyphs" text-anchor="middle">0°</text>
<text x="138.4" y="-1.5" font-size="6.1" textLength="11.99" lengthAdjust="spacingAndGlyphs" text-anchor="middle">60°E</text>
<text x="138.4" y="93.2" font-size="6.1" textLength="11.99" lengthAdjust="spacingAndGlyphs" text-anchor="middle">60°E</text>
<text x="172.3" y="-1.5" font-size="6.1" textLength="15.04" lengthAdjust="spacingAndGlyphs" text-anchor="middle">120°E</text>
<text x="172.3" y="93.2" font-size="6.1" textLength="15.04" lengthAdjust="spacingAndGlyphs" text-anchor="middle">120°E</text>
<text x="-0.5" y="7.4" font-size="6.1" textLength="12.29" lengthAdjust="spacingAndGlyphs" text-anchor="end">80°N</text>
<text x="208.0" y="7.4" font-size="6.1" textLength="12.29" lengthAdjust="spacingAndGlyphs">80°N</text>
<text x="-0.5" y="19.2" font-size="6.1" textLength="12.29" lengthAdjust="spacingAndGlyphs" text-anchor="end">60°N</text>
<text x="208.0" y="19.2" font-size="6.1" textLength="12.29" lengthAdjust="spacingAndGlyphs">60°N</text>
<text x="-0.5" y="31.1" font-size="6.1" textLength="12.29" lengthAdjust="spacingAndGlyphs" text-anchor="end">40°N</text>
<text x="208.0" y="31.1" font-size="6.1" textLength="12.29" lengthAdjust="spacingAndGlyphs">40°N</text>
<text x="-0.5" y="42.9" font-size="6.1" textLength="12.29" lengthAdjust="spacingAndGlyphs" text-anchor="end">20°N</text>
<text x="208.0" y="42.9" font-size="6.1" textLength="12.29" lengthAdjust="spacingAndGlyphs">20°N</text>
<text x="-0.5" y="54.8" font-size="6.1" textLength="5.26" lengthAdjust="spacingAndGlyphs" text-anchor="end">0°</text>
<text x="208.0" y="54.8" font-size="6.1" textLength="5.26" lengthAdjust="spacingAndGlyphs">0°</text>
<text x="-0.5" y="66.6" font-size="6.1" textLength="11.99" lengthAdjust="spacingAndGlyphs" text-anchor="end">20°S</text>
<text x="208.0" y="66.6" font-size="6.1" textLength="11.99" lengthAdjust="spacingAndGlyphs">20°S</text>
<text x="-0.5" y="78.4" font-size="6.1" textLength="11.99" lengthAdjust="spacingAndGlyphs" text-anchor="end">40°S</text>
<text x="208.0" y="78.4" font-size="6.1" textLength="11.99" lengthAdjust="spacingAndGlyphs">40°S</text>
<text x="-0.5" y="90.3" font-size="6.1" textLength="11.99" lengthAdjust="spacingAndGlyphs" text-anchor="end">60°S</text>
<text x="208.0" y="90.3" font-size="6.1" textLength="11.99" lengthAdjust="spacingAndGlyphs">60°S</text>
<text x="103.7" y="-7.4" font-size="8.3" text-anchor="middle" textLength="23.9" lengthAdjust="spacingAndGlyphs">MIROC</text>
</g>
<path d="M93.2 486.7L107.4 480.4L107.4 493.0Z" fill="#053061"/>
<path d="M392.1 486.7L377.9 480.4L377.9 493.0Z" fill="#67001f"/>
<rect x="107.10" y="480.4" width="13.86" height="12.6" fill="#124984"/>
<rect x="120.66" y="480.4" width="13.86" height="12.6" fill="#1f63a8"/>
<rect x="134.21" y="480.4" width="13.86" height="12.6" fill="#2f79b5"/>
<rect x="147.76" y="480.4" width="13.86" height="12.6" fill="#3f8ec0"/>
<rect x="161.32" y="480.4" width="13.86" height="12.6" fill="#5fa5cd"/>
<rect x="174.88" y="480.4" width="13.86" height="12.6" fill="#84bcd9"/>
<rect x="188.43" y="480.4" width="13.86" height="12.6" fill="#a7d0e4"/>
<rect x="201.99" y="480.4" width="13.86" height="12.6" fill="#c5dfec"/>
<rect x="215.54" y="480.4" width="13.86" height="12.6" fill="#dbeaf2"/>
<rect x="229.10" y="480.4" width="13.86" height="12.6" fill="#edf2f5"/>
<rect x="242.65" y="480.4" width="13.86" height="12.6" fill="#f8f1ed"/>
<rect x="256.21" y="480.4" width="13.86" height="12.6" fill="#fbe4d6"/>
<rect x="269.76" y="480.4" width="13.86" height="12.6" fill="#fcd3bc"/>
<rect x="283.32" y="480.4" width="13.86" height="12.6" fill="#f7b799"/>
<rect x="296.87" y="480.4" width="13.86" height="12.6" fill="#f09c7b"/>
<rect x="310.43" y="480.4" width="13.86" height="12.6" fill="#e27b62"/>
<rect x="323.98" y="480.4" width="13.86" height="12.6" fill="#d35a4a"/>
<rect x="337.54" y="480.4" width="13.86" height="12.6" fill="#c2383a"/>
<rect x="351.09" y="480.4" width="13.86" height="12.6" fill="#b1182b"/>
<rect x="364.64" y="480.4" width="13.86" height="12.6" fill="#8d0c25"/>
<path d="M93.2 486.7L107.1 480.4L378.2 480.4L392.1 486.7L378.2 493.0L107.1 493.0Z" fill="none" stroke="#777" stroke-width="0.5"/>
<path d="M120.7 493.0V495.0" stroke="#333" stroke-width="0.5"/>
<text x="120.7" y="500.9" font-size="6.1" textLength="12.54" lengthAdjust="spacingAndGlyphs" text-anchor="middle">-0.10</text>
<path d="M161.3 493.0V495.0" stroke="#333" stroke-width="0.5"/>
<text x="161.3" y="500.9" font-size="6.1" textLength="12.54" lengthAdjust="spacingAndGlyphs" text-anchor="middle">-0.07</text>
<path d="M202.0 493.0V495.0" stroke="#333" stroke-width="0.5"/>
<text x="202.0" y="500.9" font-size="6.1" textLength="12.54" lengthAdjust="spacingAndGlyphs" text-anchor="middle">-0.03</text>
<path d="M242.7 493.0V495.0" stroke="#333" stroke-width="0.5"/>
<text x="242.7" y="500.9" font-size="6.1" textLength="12.54" lengthAdjust="spacingAndGlyphs" text-anchor="middle">-0.00</text>
<path d="M283.3 493.0V495.0" stroke="#333" stroke-width="0.5"/>
<text x="283.3" y="500.9" font-size="6.1" textLength="10.70" lengthAdjust="spacingAndGlyphs" text-anchor="middle">0.03</text>
<path d="M324.0 493.0V495.0" stroke="#333" stroke-width="0.5"/>
<text x="324.0" y="500.9" font-size="6.1" textLength="10.70" lengthAdjust="spacingAndGlyphs" text-anchor="middle">0.07</text>
<path d="M364.6 493.0V495.0" stroke="#333" stroke-width="0.5"/>
<text x="364.6" y="500.9" font-size="6.1" textLength="10.70" lengthAdjust="spacingAndGlyphs" text-anchor="middle">0.10</text>
<text x="242.4" y="508.3" font-size="7.0" text-anchor="middle">Contribution (%)</text>
</svg></body></html>
